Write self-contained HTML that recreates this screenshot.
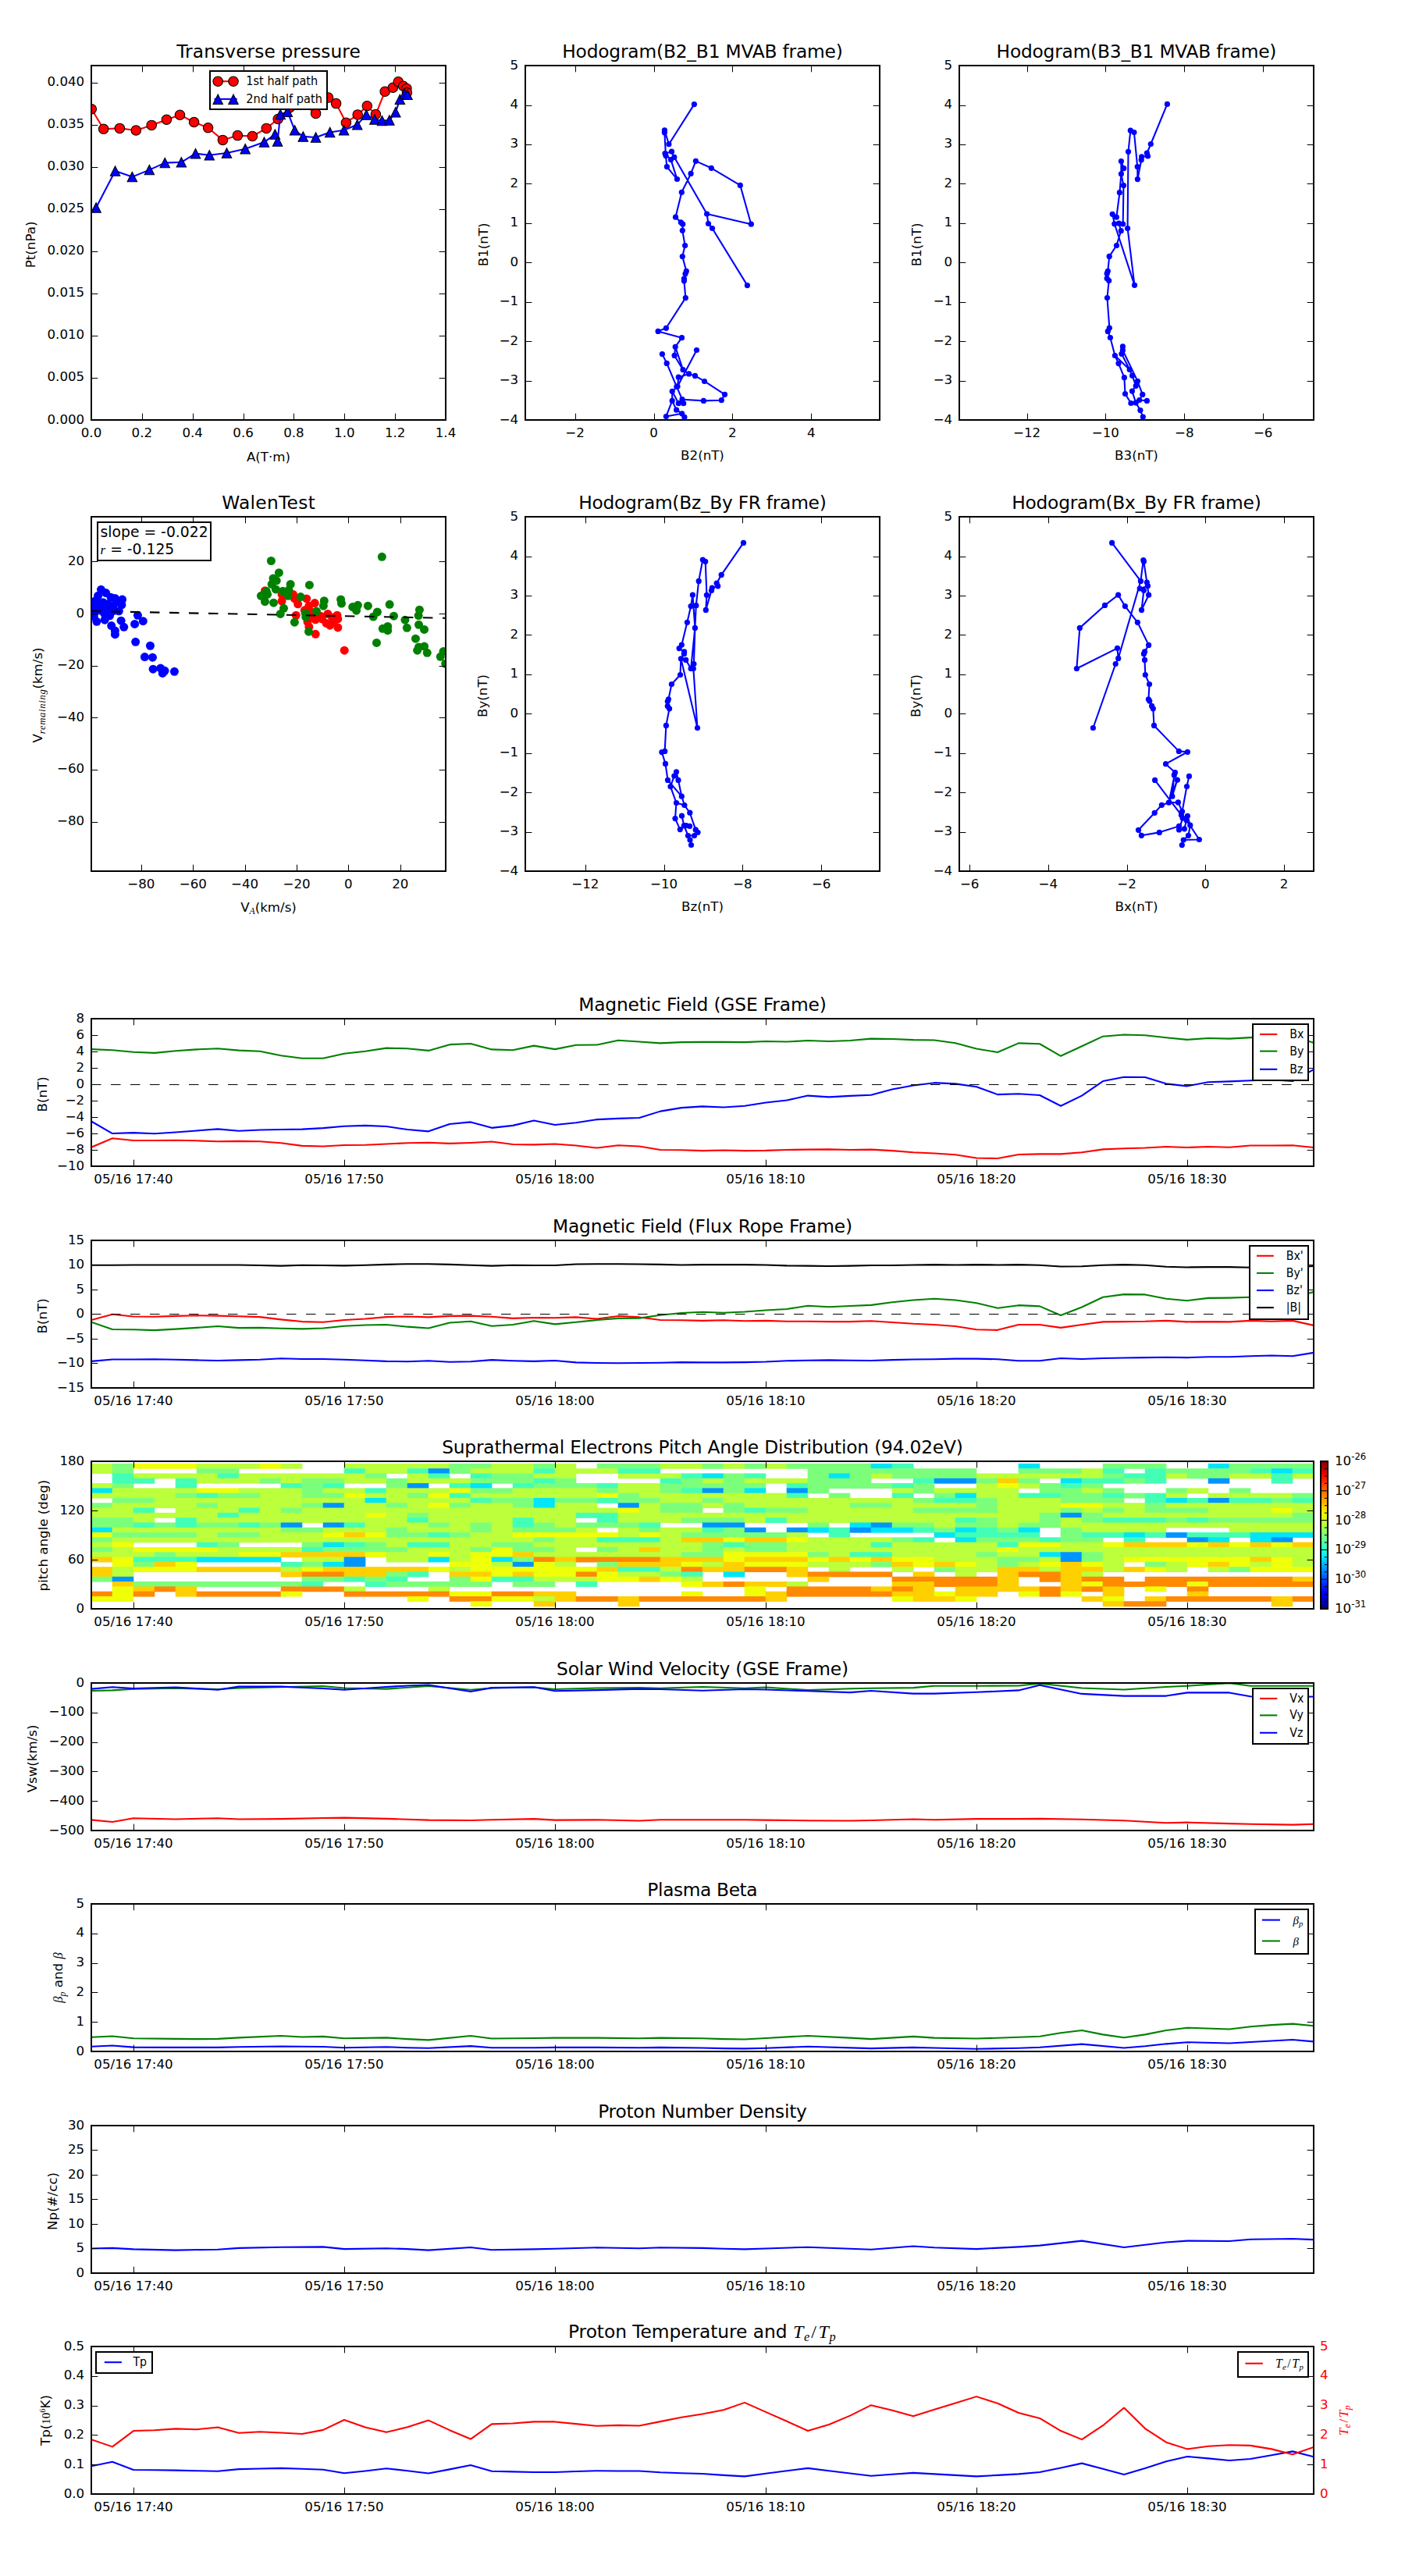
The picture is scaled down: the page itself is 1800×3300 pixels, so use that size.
<!DOCTYPE html><html><head><meta charset="utf-8"><title>Flux rope event summary</title><style>html,body{margin:0;padding:0;background:#fff}svg{display:block;font-family:'DejaVu Sans','Liberation Sans',sans-serif}</style></head><body><svg width="1800" height="3300" viewBox="0 0 1800 3300"><clipPath id="c1"><rect x="117" y="84" width="454" height="454"/></clipPath><g clip-path="url(#c1)"><polyline points="117.3,139.7 132.7,165.3 153.4,164.4 174.3,167 194.2,160.4 213.4,153.3 230.5,147.3 248.6,156.5 266.6,163.8 285.4,179.4 304.4,173.6 323.4,174.5 341.3,164.4 356.2,152.5 371,138 388,133 404.6,145.4 420.6,125.1 430.6,132.6 443.4,157.2 458.2,146.9 470.3,135.8 481.4,146.5 493.2,117.2 503.4,112.3 510.3,104.8 516.7,110.2 520.9,113.4 521.4,118.7" fill="none" stroke="#f00" stroke-width="2.08" stroke-linejoin="round"/><circle cx="117.3" cy="139.7" r="6.25" fill="#f00" stroke="#000" stroke-width="1.04"/><circle cx="132.7" cy="165.3" r="6.25" fill="#f00" stroke="#000" stroke-width="1.04"/><circle cx="153.4" cy="164.4" r="6.25" fill="#f00" stroke="#000" stroke-width="1.04"/><circle cx="174.3" cy="167" r="6.25" fill="#f00" stroke="#000" stroke-width="1.04"/><circle cx="194.2" cy="160.4" r="6.25" fill="#f00" stroke="#000" stroke-width="1.04"/><circle cx="213.4" cy="153.3" r="6.25" fill="#f00" stroke="#000" stroke-width="1.04"/><circle cx="230.5" cy="147.3" r="6.25" fill="#f00" stroke="#000" stroke-width="1.04"/><circle cx="248.6" cy="156.5" r="6.25" fill="#f00" stroke="#000" stroke-width="1.04"/><circle cx="266.6" cy="163.8" r="6.25" fill="#f00" stroke="#000" stroke-width="1.04"/><circle cx="285.4" cy="179.4" r="6.25" fill="#f00" stroke="#000" stroke-width="1.04"/><circle cx="304.4" cy="173.6" r="6.25" fill="#f00" stroke="#000" stroke-width="1.04"/><circle cx="323.4" cy="174.5" r="6.25" fill="#f00" stroke="#000" stroke-width="1.04"/><circle cx="341.3" cy="164.4" r="6.25" fill="#f00" stroke="#000" stroke-width="1.04"/><circle cx="356.2" cy="152.5" r="6.25" fill="#f00" stroke="#000" stroke-width="1.04"/><circle cx="371" cy="138" r="6.25" fill="#f00" stroke="#000" stroke-width="1.04"/><circle cx="388" cy="133" r="6.25" fill="#f00" stroke="#000" stroke-width="1.04"/><circle cx="404.6" cy="145.4" r="6.25" fill="#f00" stroke="#000" stroke-width="1.04"/><circle cx="420.6" cy="125.1" r="6.25" fill="#f00" stroke="#000" stroke-width="1.04"/><circle cx="430.6" cy="132.6" r="6.25" fill="#f00" stroke="#000" stroke-width="1.04"/><circle cx="443.4" cy="157.2" r="6.25" fill="#f00" stroke="#000" stroke-width="1.04"/><circle cx="458.2" cy="146.9" r="6.25" fill="#f00" stroke="#000" stroke-width="1.04"/><circle cx="470.3" cy="135.8" r="6.25" fill="#f00" stroke="#000" stroke-width="1.04"/><circle cx="481.4" cy="146.5" r="6.25" fill="#f00" stroke="#000" stroke-width="1.04"/><circle cx="493.2" cy="117.2" r="6.25" fill="#f00" stroke="#000" stroke-width="1.04"/><circle cx="503.4" cy="112.3" r="6.25" fill="#f00" stroke="#000" stroke-width="1.04"/><circle cx="510.3" cy="104.8" r="6.25" fill="#f00" stroke="#000" stroke-width="1.04"/><circle cx="516.7" cy="110.2" r="6.25" fill="#f00" stroke="#000" stroke-width="1.04"/><circle cx="520.9" cy="113.4" r="6.25" fill="#f00" stroke="#000" stroke-width="1.04"/><circle cx="521.4" cy="118.7" r="6.25" fill="#f00" stroke="#000" stroke-width="1.04"/><polyline points="123.1,266 147.6,219.1 169.4,226.6 191.4,217.6 211.3,208.6 232.4,207.8 250.5,196.7 268.3,198.8 290.5,196 314.2,190.7 338.5,182.1 352.4,172.1 355.6,180.9 359.2,146.5 368.4,143.3 377.6,166.8 388.3,174.9 404.6,176 422.7,169.5 440.6,166.8 457.7,159.7 469.3,146.9 479.9,152.9 489.5,154.6 498.9,154 506.8,143.7 512.4,127.3 518.4,120.4 522,121.3" fill="none" stroke="#00f" stroke-width="2.08" stroke-linejoin="round"/><path d="M123.1 259.75L116.85 272.25L129.35 272.25Z" fill="#00f" stroke="#000" stroke-width="1.04" stroke-linejoin="miter"/><path d="M147.6 212.85L141.35 225.35L153.85 225.35Z" fill="#00f" stroke="#000" stroke-width="1.04" stroke-linejoin="miter"/><path d="M169.4 220.35L163.15 232.85L175.65 232.85Z" fill="#00f" stroke="#000" stroke-width="1.04" stroke-linejoin="miter"/><path d="M191.4 211.35L185.15 223.85L197.65 223.85Z" fill="#00f" stroke="#000" stroke-width="1.04" stroke-linejoin="miter"/><path d="M211.3 202.35L205.05 214.85L217.55 214.85Z" fill="#00f" stroke="#000" stroke-width="1.04" stroke-linejoin="miter"/><path d="M232.4 201.55L226.15 214.05L238.65 214.05Z" fill="#00f" stroke="#000" stroke-width="1.04" stroke-linejoin="miter"/><path d="M250.5 190.45L244.25 202.95L256.75 202.95Z" fill="#00f" stroke="#000" stroke-width="1.04" stroke-linejoin="miter"/><path d="M268.3 192.55L262.05 205.05L274.55 205.05Z" fill="#00f" stroke="#000" stroke-width="1.04" stroke-linejoin="miter"/><path d="M290.5 189.75L284.25 202.25L296.75 202.25Z" fill="#00f" stroke="#000" stroke-width="1.04" stroke-linejoin="miter"/><path d="M314.2 184.45L307.95 196.95L320.45 196.95Z" fill="#00f" stroke="#000" stroke-width="1.04" stroke-linejoin="miter"/><path d="M338.5 175.85L332.25 188.35L344.75 188.35Z" fill="#00f" stroke="#000" stroke-width="1.04" stroke-linejoin="miter"/><path d="M352.4 165.85L346.15 178.35L358.65 178.35Z" fill="#00f" stroke="#000" stroke-width="1.04" stroke-linejoin="miter"/><path d="M355.6 174.65L349.35 187.15L361.85 187.15Z" fill="#00f" stroke="#000" stroke-width="1.04" stroke-linejoin="miter"/><path d="M359.2 140.25L352.95 152.75L365.45 152.75Z" fill="#00f" stroke="#000" stroke-width="1.04" stroke-linejoin="miter"/><path d="M368.4 137.05L362.15 149.55L374.65 149.55Z" fill="#00f" stroke="#000" stroke-width="1.04" stroke-linejoin="miter"/><path d="M377.6 160.55L371.35 173.05L383.85 173.05Z" fill="#00f" stroke="#000" stroke-width="1.04" stroke-linejoin="miter"/><path d="M388.3 168.65L382.05 181.15L394.55 181.15Z" fill="#00f" stroke="#000" stroke-width="1.04" stroke-linejoin="miter"/><path d="M404.6 169.75L398.35 182.25L410.85 182.25Z" fill="#00f" stroke="#000" stroke-width="1.04" stroke-linejoin="miter"/><path d="M422.7 163.25L416.45 175.75L428.95 175.75Z" fill="#00f" stroke="#000" stroke-width="1.04" stroke-linejoin="miter"/><path d="M440.6 160.55L434.35 173.05L446.85 173.05Z" fill="#00f" stroke="#000" stroke-width="1.04" stroke-linejoin="miter"/><path d="M457.7 153.45L451.45 165.95L463.95 165.95Z" fill="#00f" stroke="#000" stroke-width="1.04" stroke-linejoin="miter"/><path d="M469.3 140.65L463.05 153.15L475.55 153.15Z" fill="#00f" stroke="#000" stroke-width="1.04" stroke-linejoin="miter"/><path d="M479.9 146.65L473.65 159.15L486.15 159.15Z" fill="#00f" stroke="#000" stroke-width="1.04" stroke-linejoin="miter"/><path d="M489.5 148.35L483.25 160.85L495.75 160.85Z" fill="#00f" stroke="#000" stroke-width="1.04" stroke-linejoin="miter"/><path d="M498.9 147.75L492.65 160.25L505.15 160.25Z" fill="#00f" stroke="#000" stroke-width="1.04" stroke-linejoin="miter"/><path d="M506.8 137.45L500.55 149.95L513.05 149.95Z" fill="#00f" stroke="#000" stroke-width="1.04" stroke-linejoin="miter"/><path d="M512.4 121.05L506.15 133.55L518.65 133.55Z" fill="#00f" stroke="#000" stroke-width="1.04" stroke-linejoin="miter"/><path d="M518.4 114.15L512.15 126.65L524.65 126.65Z" fill="#00f" stroke="#000" stroke-width="1.04" stroke-linejoin="miter"/><path d="M522 115.05L515.75 127.55L528.25 127.55Z" fill="#00f" stroke="#000" stroke-width="1.04" stroke-linejoin="miter"/></g><rect x="117" y="84" width="454" height="454" fill="none" stroke="#000" stroke-width="2"/><text x="117" y="560" font-size="16.67" text-anchor="middle">0.0</text><line x1="182.5" y1="538" x2="182.5" y2="529.67" stroke="#000" stroke-width="1"/><line x1="182.5" y1="84" x2="182.5" y2="92.33" stroke="#000" stroke-width="1"/><text x="181.86" y="560" font-size="16.67" text-anchor="middle">0.2</text><line x1="247.5" y1="538" x2="247.5" y2="529.67" stroke="#000" stroke-width="1"/><line x1="247.5" y1="84" x2="247.5" y2="92.33" stroke="#000" stroke-width="1"/><text x="246.71" y="560" font-size="16.67" text-anchor="middle">0.4</text><line x1="312.5" y1="538" x2="312.5" y2="529.67" stroke="#000" stroke-width="1"/><line x1="312.5" y1="84" x2="312.5" y2="92.33" stroke="#000" stroke-width="1"/><text x="311.57" y="560" font-size="16.67" text-anchor="middle">0.6</text><line x1="376.5" y1="538" x2="376.5" y2="529.67" stroke="#000" stroke-width="1"/><line x1="376.5" y1="84" x2="376.5" y2="92.33" stroke="#000" stroke-width="1"/><text x="376.43" y="560" font-size="16.67" text-anchor="middle">0.8</text><line x1="441.5" y1="538" x2="441.5" y2="529.67" stroke="#000" stroke-width="1"/><line x1="441.5" y1="84" x2="441.5" y2="92.33" stroke="#000" stroke-width="1"/><text x="441.29" y="560" font-size="16.67" text-anchor="middle">1.0</text><line x1="506.5" y1="538" x2="506.5" y2="529.67" stroke="#000" stroke-width="1"/><line x1="506.5" y1="84" x2="506.5" y2="92.33" stroke="#000" stroke-width="1"/><text x="506.14" y="560" font-size="16.67" text-anchor="middle">1.2</text><text x="571" y="560" font-size="16.67" text-anchor="middle">1.4</text><text x="108.2" y="542.5" font-size="16.67" text-anchor="end">0.000</text><line x1="117" y1="484.5" x2="125.33" y2="484.5" stroke="#000" stroke-width="1"/><line x1="571" y1="484.5" x2="562.67" y2="484.5" stroke="#000" stroke-width="1"/><text x="108.2" y="488.45" font-size="16.67" text-anchor="end">0.005</text><line x1="117" y1="430.5" x2="125.33" y2="430.5" stroke="#000" stroke-width="1"/><line x1="571" y1="430.5" x2="562.67" y2="430.5" stroke="#000" stroke-width="1"/><text x="108.2" y="434.4" font-size="16.67" text-anchor="end">0.010</text><line x1="117" y1="376.5" x2="125.33" y2="376.5" stroke="#000" stroke-width="1"/><line x1="571" y1="376.5" x2="562.67" y2="376.5" stroke="#000" stroke-width="1"/><text x="108.2" y="380.36" font-size="16.67" text-anchor="end">0.015</text><line x1="117" y1="322.5" x2="125.33" y2="322.5" stroke="#000" stroke-width="1"/><line x1="571" y1="322.5" x2="562.67" y2="322.5" stroke="#000" stroke-width="1"/><text x="108.2" y="326.31" font-size="16.67" text-anchor="end">0.020</text><line x1="117" y1="268.5" x2="125.33" y2="268.5" stroke="#000" stroke-width="1"/><line x1="571" y1="268.5" x2="562.67" y2="268.5" stroke="#000" stroke-width="1"/><text x="108.2" y="272.26" font-size="16.67" text-anchor="end">0.025</text><line x1="117" y1="214.5" x2="125.33" y2="214.5" stroke="#000" stroke-width="1"/><line x1="571" y1="214.5" x2="562.67" y2="214.5" stroke="#000" stroke-width="1"/><text x="108.2" y="218.21" font-size="16.67" text-anchor="end">0.030</text><line x1="117" y1="160.5" x2="125.33" y2="160.5" stroke="#000" stroke-width="1"/><line x1="571" y1="160.5" x2="562.67" y2="160.5" stroke="#000" stroke-width="1"/><text x="108.2" y="164.17" font-size="16.67" text-anchor="end">0.035</text><line x1="117" y1="106.5" x2="125.33" y2="106.5" stroke="#000" stroke-width="1"/><line x1="571" y1="106.5" x2="562.67" y2="106.5" stroke="#000" stroke-width="1"/><text x="108.2" y="110.12" font-size="16.67" text-anchor="end">0.040</text><rect x="269" y="91" width="150" height="49" fill="#fff" stroke="#000" stroke-width="2"/><line x1="274.5" y1="104.2" x2="303.7" y2="104.2" stroke="#f00" stroke-width="2.08"/><circle cx="279.2" cy="104.2" r="6.25" fill="#f00" stroke="#000" stroke-width="1.04"/><circle cx="299" cy="104.2" r="6.25" fill="#f00" stroke="#000" stroke-width="1.04"/><line x1="274.5" y1="126.9" x2="303.7" y2="126.9" stroke="#00f" stroke-width="2.08"/><path d="M279.2 120.95L272.95 133.45L285.45 133.45Z" fill="#00f" stroke="#000" stroke-width="1.04" stroke-linejoin="miter"/><path d="M299 120.95L292.75 133.45L305.25 133.45Z" fill="#00f" stroke="#000" stroke-width="1.04" stroke-linejoin="miter"/><text x="315.3" y="109" font-size="15.4" textLength="91.9" lengthAdjust="spacingAndGlyphs">1st half path</text><text x="315.3" y="131.6" font-size="15.4" textLength="97.6" lengthAdjust="spacingAndGlyphs">2nd half path</text><text x="344" y="74" font-size="23.3" text-anchor="middle" textLength="235.6" lengthAdjust="spacing">Transverse pressure</text><text x="344" y="591.2" font-size="16.67" text-anchor="middle">A(T·m)</text><text x="45.5" y="313.4" font-size="16.67" text-anchor="middle" transform="rotate(-90 45.5 313.4)">Pt(nPa)</text><clipPath id="c2"><rect x="673" y="84" width="454" height="454"/></clipPath><g clip-path="url(#c2)"><polyline points="889.4,133.59 856.94,184.7 851.39,166.9 851.39,169.75 852.95,199.64 854.38,213.59 867.47,229.54 859.5,204.63 851.96,196.51 860.5,194.23 863.77,201.35 905.62,273.95 907.47,286.48 912.46,292.46 957.44,365.62 912.46,292.46 907.47,286.48 905.62,273.95 962.28,287.19 948.33,237.37 911.32,215.3 891.39,206.33 885.12,222.42 873.31,246.33 865.48,278.22 872.31,284.77 874.73,287.19 874.31,295.3 877.58,314.52 874.31,328.61 879.29,347.4 878.01,350.82 876.44,357.08 876.44,359.79 878.29,381.57 853.38,420.28 843.13,424.41 873.45,432.67 865.2,444.34 875.02,473.67 864.06,455.44 865.2,444.34" fill="none" stroke="#00f" stroke-width="2.08" stroke-linejoin="round"/><polyline points="875.02,473.67 882.56,478.93 890.53,481.35 902.49,488.47 928.54,505.27 924.27,512.67 901.35,513.38 874.02,511.67 866.9,495.3 854.23,465.41 848.4,453.59" fill="none" stroke="#00f" stroke-width="2.08" stroke-linejoin="round"/><polyline points="892.53,448.47 868.04,495.02 869.32,483.2 882.56,478.93" fill="none" stroke="#00f" stroke-width="2.08" stroke-linejoin="round"/><polyline points="868.04,495.02 861.21,501.28 861.21,513.38 853.38,533.45 873.74,529.75 866.62,525.2 861.21,513.38" fill="none" stroke="#00f" stroke-width="2.08" stroke-linejoin="round"/><polyline points="861.21,501.28 869.32,516.65 875.73,516.65 874.02,511.67" fill="none" stroke="#00f" stroke-width="2.08" stroke-linejoin="round"/><polyline points="873.74,529.75 876.87,534.45" fill="none" stroke="#00f" stroke-width="2.08" stroke-linejoin="round"/><circle cx="843.1" cy="424.4" r="3.6" fill="#00f"/><circle cx="848.4" cy="453.6" r="3.6" fill="#00f"/><circle cx="851.4" cy="166.9" r="3.6" fill="#00f"/><circle cx="851.4" cy="169.8" r="3.6" fill="#00f"/><circle cx="852" cy="196.5" r="3.6" fill="#00f"/><circle cx="853" cy="199.6" r="3.6" fill="#00f"/><circle cx="853.4" cy="420.3" r="3.6" fill="#00f"/><circle cx="853.4" cy="533.5" r="3.6" fill="#00f"/><circle cx="854.2" cy="465.4" r="3.6" fill="#00f"/><circle cx="854.4" cy="213.6" r="3.6" fill="#00f"/><circle cx="856.9" cy="184.7" r="3.6" fill="#00f"/><circle cx="859.5" cy="204.6" r="3.6" fill="#00f"/><circle cx="860.5" cy="194.2" r="3.6" fill="#00f"/><circle cx="861.2" cy="501.3" r="3.6" fill="#00f"/><circle cx="861.2" cy="513.4" r="3.6" fill="#00f"/><circle cx="863.8" cy="201.4" r="3.6" fill="#00f"/><circle cx="864.1" cy="455.4" r="3.6" fill="#00f"/><circle cx="865.2" cy="444.3" r="3.6" fill="#00f"/><circle cx="865.5" cy="278.2" r="3.6" fill="#00f"/><circle cx="866.6" cy="525.2" r="3.6" fill="#00f"/><circle cx="866.9" cy="495.3" r="3.6" fill="#00f"/><circle cx="867.5" cy="229.5" r="3.6" fill="#00f"/><circle cx="868" cy="495" r="3.6" fill="#00f"/><circle cx="869.3" cy="483.2" r="3.6" fill="#00f"/><circle cx="869.3" cy="516.7" r="3.6" fill="#00f"/><circle cx="872.3" cy="284.8" r="3.6" fill="#00f"/><circle cx="873.3" cy="246.3" r="3.6" fill="#00f"/><circle cx="873.5" cy="432.7" r="3.6" fill="#00f"/><circle cx="873.7" cy="529.8" r="3.6" fill="#00f"/><circle cx="874" cy="511.7" r="3.6" fill="#00f"/><circle cx="874.3" cy="295.3" r="3.6" fill="#00f"/><circle cx="874.3" cy="328.6" r="3.6" fill="#00f"/><circle cx="874.7" cy="287.2" r="3.6" fill="#00f"/><circle cx="875" cy="473.7" r="3.6" fill="#00f"/><circle cx="875.7" cy="516.7" r="3.6" fill="#00f"/><circle cx="876.4" cy="357.1" r="3.6" fill="#00f"/><circle cx="876.4" cy="359.8" r="3.6" fill="#00f"/><circle cx="876.9" cy="534.4" r="3.6" fill="#00f"/><circle cx="877.6" cy="314.5" r="3.6" fill="#00f"/><circle cx="878" cy="350.8" r="3.6" fill="#00f"/><circle cx="878.3" cy="381.6" r="3.6" fill="#00f"/><circle cx="879.3" cy="347.4" r="3.6" fill="#00f"/><circle cx="882.6" cy="478.9" r="3.6" fill="#00f"/><circle cx="885.1" cy="222.4" r="3.6" fill="#00f"/><circle cx="889.4" cy="133.6" r="3.6" fill="#00f"/><circle cx="890.5" cy="481.4" r="3.6" fill="#00f"/><circle cx="891.4" cy="206.3" r="3.6" fill="#00f"/><circle cx="892.5" cy="448.5" r="3.6" fill="#00f"/><circle cx="901.4" cy="513.4" r="3.6" fill="#00f"/><circle cx="902.5" cy="488.5" r="3.6" fill="#00f"/><circle cx="905.6" cy="274" r="3.6" fill="#00f"/><circle cx="907.5" cy="286.5" r="3.6" fill="#00f"/><circle cx="911.3" cy="215.3" r="3.6" fill="#00f"/><circle cx="912.5" cy="292.5" r="3.6" fill="#00f"/><circle cx="924.3" cy="512.7" r="3.6" fill="#00f"/><circle cx="928.5" cy="505.3" r="3.6" fill="#00f"/><circle cx="948.3" cy="237.4" r="3.6" fill="#00f"/><circle cx="957.4" cy="365.6" r="3.6" fill="#00f"/><circle cx="962.3" cy="287.2" r="3.6" fill="#00f"/></g><rect x="673" y="84" width="454" height="454" fill="none" stroke="#000" stroke-width="2"/><line x1="737.5" y1="538" x2="737.5" y2="529.67" stroke="#000" stroke-width="1"/><line x1="737.5" y1="84" x2="737.5" y2="92.33" stroke="#000" stroke-width="1"/><text x="736.62" y="560" font-size="16.67" text-anchor="middle">−2</text><line x1="838.5" y1="538" x2="838.5" y2="529.67" stroke="#000" stroke-width="1"/><line x1="838.5" y1="84" x2="838.5" y2="92.33" stroke="#000" stroke-width="1"/><text x="837.5" y="560" font-size="16.67" text-anchor="middle">0</text><line x1="938.5" y1="538" x2="938.5" y2="529.67" stroke="#000" stroke-width="1"/><line x1="938.5" y1="84" x2="938.5" y2="92.33" stroke="#000" stroke-width="1"/><text x="938.38" y="560" font-size="16.67" text-anchor="middle">2</text><line x1="1039.5" y1="538" x2="1039.5" y2="529.67" stroke="#000" stroke-width="1"/><line x1="1039.5" y1="84" x2="1039.5" y2="92.33" stroke="#000" stroke-width="1"/><text x="1039.26" y="560" font-size="16.67" text-anchor="middle">4</text><text x="664.2" y="542.5" font-size="16.67" text-anchor="end">−4</text><line x1="673" y1="488.5" x2="681.33" y2="488.5" stroke="#000" stroke-width="1"/><line x1="1127" y1="488.5" x2="1118.67" y2="488.5" stroke="#000" stroke-width="1"/><text x="664.2" y="492.06" font-size="16.67" text-anchor="end">−3</text><line x1="673" y1="437.5" x2="681.33" y2="437.5" stroke="#000" stroke-width="1"/><line x1="1127" y1="437.5" x2="1118.67" y2="437.5" stroke="#000" stroke-width="1"/><text x="664.2" y="441.61" font-size="16.67" text-anchor="end">−2</text><line x1="673" y1="387.5" x2="681.33" y2="387.5" stroke="#000" stroke-width="1"/><line x1="1127" y1="387.5" x2="1118.67" y2="387.5" stroke="#000" stroke-width="1"/><text x="664.2" y="391.17" font-size="16.67" text-anchor="end">−1</text><line x1="673" y1="336.5" x2="681.33" y2="336.5" stroke="#000" stroke-width="1"/><line x1="1127" y1="336.5" x2="1118.67" y2="336.5" stroke="#000" stroke-width="1"/><text x="664.2" y="340.72" font-size="16.67" text-anchor="end">0</text><line x1="673" y1="286.5" x2="681.33" y2="286.5" stroke="#000" stroke-width="1"/><line x1="1127" y1="286.5" x2="1118.67" y2="286.5" stroke="#000" stroke-width="1"/><text x="664.2" y="290.28" font-size="16.67" text-anchor="end">1</text><line x1="673" y1="235.5" x2="681.33" y2="235.5" stroke="#000" stroke-width="1"/><line x1="1127" y1="235.5" x2="1118.67" y2="235.5" stroke="#000" stroke-width="1"/><text x="664.2" y="239.83" font-size="16.67" text-anchor="end">2</text><line x1="673" y1="185.5" x2="681.33" y2="185.5" stroke="#000" stroke-width="1"/><line x1="1127" y1="185.5" x2="1118.67" y2="185.5" stroke="#000" stroke-width="1"/><text x="664.2" y="189.39" font-size="16.67" text-anchor="end">3</text><line x1="673" y1="135.5" x2="681.33" y2="135.5" stroke="#000" stroke-width="1"/><line x1="1127" y1="135.5" x2="1118.67" y2="135.5" stroke="#000" stroke-width="1"/><text x="664.2" y="138.94" font-size="16.67" text-anchor="end">4</text><text x="664.2" y="88.5" font-size="16.67" text-anchor="end">5</text><text x="900" y="74" font-size="23.3" text-anchor="middle" textLength="359.6" lengthAdjust="spacing">Hodogram(B2_B1 MVAB frame)</text><text x="900" y="588.7" font-size="16.67" text-anchor="middle">B2(nT)</text><text x="624.6" y="313.4" font-size="16.67" text-anchor="middle" transform="rotate(-90 624.6 313.4)">B1(nT)</text><clipPath id="c3"><rect x="1229" y="84" width="454" height="454"/></clipPath><g clip-path="url(#c3)"><polyline points="1495.38,133.37 1474.31,184.51 1469.41,196.24 1470.55,200 1462.57,200.8 1462.23,204.78 1457.45,229.61 1457.22,213.55 1452.89,169.48 1448.34,167.2 1445.49,194.31 1444.58,292.48 1453.46,365.33 1427.84,286.79 1425.22,274.26 1430.34,278.25 1434.44,246.7 1436.38,222.78 1436.38,206.49 1439.79,215.6 1436.38,222.78 1439.45,237.59 1438.66,287.02 1433.53,286.22 1436.15,295.67 1430.46,314.46 1421.23,328.36 1419.29,347.33 1418.15,350.41 1418.15,356.67 1420.66,359.52 1418.5,381.5 1421.34,420.23 1419.29,424.44 1422.37,432.53 1428.41,455.54 1447.2,473.53 1436.95,453.26 1438.43,448.7 1438.43,443.92 1438.43,448.7 1457.45,488.34 1463.71,505.42 1459.73,512.48 1469.41,513.39 1459.73,512.48 1448.91,516.47 1441.5,504.51 1440.36,483.67 1432.96,465.56 1428.41,455.54" fill="none" stroke="#00f" stroke-width="2.08" stroke-linejoin="round"/><polyline points="1447.2,473.53 1450.62,481.16 1455.17,494.26 1450.39,501.09 1455.17,515.9 1460.87,525.58 1464.28,534.12" fill="none" stroke="#00f" stroke-width="2.08" stroke-linejoin="round"/><circle cx="1418.2" cy="350.4" r="3.6" fill="#00f"/><circle cx="1418.2" cy="356.7" r="3.6" fill="#00f"/><circle cx="1418.5" cy="381.5" r="3.6" fill="#00f"/><circle cx="1419.3" cy="347.3" r="3.6" fill="#00f"/><circle cx="1419.3" cy="424.4" r="3.6" fill="#00f"/><circle cx="1420.7" cy="359.5" r="3.6" fill="#00f"/><circle cx="1421.2" cy="328.4" r="3.6" fill="#00f"/><circle cx="1421.3" cy="420.2" r="3.6" fill="#00f"/><circle cx="1422.4" cy="432.5" r="3.6" fill="#00f"/><circle cx="1425.2" cy="274.3" r="3.6" fill="#00f"/><circle cx="1427.8" cy="286.8" r="3.6" fill="#00f"/><circle cx="1428.4" cy="455.5" r="3.6" fill="#00f"/><circle cx="1430.3" cy="278.2" r="3.6" fill="#00f"/><circle cx="1430.5" cy="314.5" r="3.6" fill="#00f"/><circle cx="1433" cy="465.6" r="3.6" fill="#00f"/><circle cx="1433.5" cy="286.2" r="3.6" fill="#00f"/><circle cx="1434.4" cy="246.7" r="3.6" fill="#00f"/><circle cx="1436.2" cy="295.7" r="3.6" fill="#00f"/><circle cx="1436.4" cy="206.5" r="3.6" fill="#00f"/><circle cx="1436.4" cy="222.8" r="3.6" fill="#00f"/><circle cx="1436.9" cy="453.3" r="3.6" fill="#00f"/><circle cx="1438.4" cy="443.9" r="3.6" fill="#00f"/><circle cx="1438.4" cy="448.7" r="3.6" fill="#00f"/><circle cx="1438.7" cy="287" r="3.6" fill="#00f"/><circle cx="1439.5" cy="237.6" r="3.6" fill="#00f"/><circle cx="1439.8" cy="215.6" r="3.6" fill="#00f"/><circle cx="1440.4" cy="483.7" r="3.6" fill="#00f"/><circle cx="1441.5" cy="504.5" r="3.6" fill="#00f"/><circle cx="1444.6" cy="292.5" r="3.6" fill="#00f"/><circle cx="1445.5" cy="194.3" r="3.6" fill="#00f"/><circle cx="1447.2" cy="473.5" r="3.6" fill="#00f"/><circle cx="1448.3" cy="167.2" r="3.6" fill="#00f"/><circle cx="1448.9" cy="516.5" r="3.6" fill="#00f"/><circle cx="1450.4" cy="501.1" r="3.6" fill="#00f"/><circle cx="1450.6" cy="481.2" r="3.6" fill="#00f"/><circle cx="1452.9" cy="169.5" r="3.6" fill="#00f"/><circle cx="1453.5" cy="365.3" r="3.6" fill="#00f"/><circle cx="1455.2" cy="494.3" r="3.6" fill="#00f"/><circle cx="1455.2" cy="515.9" r="3.6" fill="#00f"/><circle cx="1457.2" cy="213.6" r="3.6" fill="#00f"/><circle cx="1457.4" cy="229.6" r="3.6" fill="#00f"/><circle cx="1457.4" cy="488.3" r="3.6" fill="#00f"/><circle cx="1459.7" cy="512.5" r="3.6" fill="#00f"/><circle cx="1460.9" cy="525.6" r="3.6" fill="#00f"/><circle cx="1462.2" cy="204.8" r="3.6" fill="#00f"/><circle cx="1462.6" cy="200.8" r="3.6" fill="#00f"/><circle cx="1463.7" cy="505.4" r="3.6" fill="#00f"/><circle cx="1464.3" cy="534.1" r="3.6" fill="#00f"/><circle cx="1469.4" cy="196.2" r="3.6" fill="#00f"/><circle cx="1469.4" cy="513.4" r="3.6" fill="#00f"/><circle cx="1470.5" cy="200" r="3.6" fill="#00f"/><circle cx="1474.3" cy="184.5" r="3.6" fill="#00f"/><circle cx="1495.4" cy="133.4" r="3.6" fill="#00f"/></g><rect x="1229" y="84" width="454" height="454" fill="none" stroke="#000" stroke-width="2"/><line x1="1316.5" y1="538" x2="1316.5" y2="529.67" stroke="#000" stroke-width="1"/><line x1="1316.5" y1="84" x2="1316.5" y2="92.33" stroke="#000" stroke-width="1"/><text x="1315.52" y="560" font-size="16.67" text-anchor="middle">−12</text><line x1="1416.5" y1="538" x2="1416.5" y2="529.67" stroke="#000" stroke-width="1"/><line x1="1416.5" y1="84" x2="1416.5" y2="92.33" stroke="#000" stroke-width="1"/><text x="1416.4" y="560" font-size="16.67" text-anchor="middle">−10</text><line x1="1517.5" y1="538" x2="1517.5" y2="529.67" stroke="#000" stroke-width="1"/><line x1="1517.5" y1="84" x2="1517.5" y2="92.33" stroke="#000" stroke-width="1"/><text x="1517.28" y="560" font-size="16.67" text-anchor="middle">−8</text><line x1="1618.5" y1="538" x2="1618.5" y2="529.67" stroke="#000" stroke-width="1"/><line x1="1618.5" y1="84" x2="1618.5" y2="92.33" stroke="#000" stroke-width="1"/><text x="1618.16" y="560" font-size="16.67" text-anchor="middle">−6</text><text x="1220.2" y="542.5" font-size="16.67" text-anchor="end">−4</text><line x1="1229" y1="488.5" x2="1237.33" y2="488.5" stroke="#000" stroke-width="1"/><line x1="1683" y1="488.5" x2="1674.67" y2="488.5" stroke="#000" stroke-width="1"/><text x="1220.2" y="492.06" font-size="16.67" text-anchor="end">−3</text><line x1="1229" y1="437.5" x2="1237.33" y2="437.5" stroke="#000" stroke-width="1"/><line x1="1683" y1="437.5" x2="1674.67" y2="437.5" stroke="#000" stroke-width="1"/><text x="1220.2" y="441.61" font-size="16.67" text-anchor="end">−2</text><line x1="1229" y1="387.5" x2="1237.33" y2="387.5" stroke="#000" stroke-width="1"/><line x1="1683" y1="387.5" x2="1674.67" y2="387.5" stroke="#000" stroke-width="1"/><text x="1220.2" y="391.17" font-size="16.67" text-anchor="end">−1</text><line x1="1229" y1="336.5" x2="1237.33" y2="336.5" stroke="#000" stroke-width="1"/><line x1="1683" y1="336.5" x2="1674.67" y2="336.5" stroke="#000" stroke-width="1"/><text x="1220.2" y="340.72" font-size="16.67" text-anchor="end">0</text><line x1="1229" y1="286.5" x2="1237.33" y2="286.5" stroke="#000" stroke-width="1"/><line x1="1683" y1="286.5" x2="1674.67" y2="286.5" stroke="#000" stroke-width="1"/><text x="1220.2" y="290.28" font-size="16.67" text-anchor="end">1</text><line x1="1229" y1="235.5" x2="1237.33" y2="235.5" stroke="#000" stroke-width="1"/><line x1="1683" y1="235.5" x2="1674.67" y2="235.5" stroke="#000" stroke-width="1"/><text x="1220.2" y="239.83" font-size="16.67" text-anchor="end">2</text><line x1="1229" y1="185.5" x2="1237.33" y2="185.5" stroke="#000" stroke-width="1"/><line x1="1683" y1="185.5" x2="1674.67" y2="185.5" stroke="#000" stroke-width="1"/><text x="1220.2" y="189.39" font-size="16.67" text-anchor="end">3</text><line x1="1229" y1="135.5" x2="1237.33" y2="135.5" stroke="#000" stroke-width="1"/><line x1="1683" y1="135.5" x2="1674.67" y2="135.5" stroke="#000" stroke-width="1"/><text x="1220.2" y="138.94" font-size="16.67" text-anchor="end">4</text><text x="1220.2" y="88.5" font-size="16.67" text-anchor="end">5</text><text x="1456" y="74" font-size="23.3" text-anchor="middle" textLength="358.8" lengthAdjust="spacing">Hodogram(B3_B1 MVAB frame)</text><text x="1456" y="588.7" font-size="16.67" text-anchor="middle">B3(nT)</text><text x="1179.8" y="313.4" font-size="16.67" text-anchor="middle" transform="rotate(-90 1179.8 313.4)">B1(nT)</text><clipPath id="c4"><rect x="117" y="662" width="454" height="454"/></clipPath><g clip-path="url(#c4)"><circle cx="129.47" cy="755.27" r="5.5" fill="#00f"/><circle cx="135.66" cy="759.55" r="5.5" fill="#00f"/><circle cx="125.62" cy="763.18" r="5.5" fill="#00f"/><circle cx="142.07" cy="765.31" r="5.5" fill="#00f"/><circle cx="147.41" cy="766.38" r="5.5" fill="#00f"/><circle cx="156.59" cy="768.09" r="5.5" fill="#00f"/><circle cx="122.42" cy="769.58" r="5.5" fill="#00f"/><circle cx="132.03" cy="771.72" r="5.5" fill="#00f"/><circle cx="138.44" cy="773.85" r="5.5" fill="#00f"/><circle cx="155.95" cy="774.92" r="5.5" fill="#00f"/><circle cx="144.84" cy="775.99" r="5.5" fill="#00f"/><circle cx="127.76" cy="778.12" r="5.5" fill="#00f"/><circle cx="152.32" cy="782.82" r="5.5" fill="#00f"/><circle cx="121.35" cy="784.53" r="5.5" fill="#00f"/><circle cx="134.17" cy="786.66" r="5.5" fill="#00f"/><circle cx="140.57" cy="788.8" r="5.5" fill="#00f"/><circle cx="176.45" cy="788.37" r="5.5" fill="#00f"/><circle cx="183.28" cy="795.63" r="5.5" fill="#00f"/><circle cx="123.92" cy="796.27" r="5.5" fill="#00f"/><circle cx="134.17" cy="794.14" r="5.5" fill="#00f"/><circle cx="155.09" cy="795.21" r="5.5" fill="#00f"/><circle cx="172.6" cy="799.48" r="5.5" fill="#00f"/><circle cx="142.71" cy="801.61" r="5.5" fill="#00f"/><circle cx="158.72" cy="803.32" r="5.5" fill="#00f"/><circle cx="147.41" cy="808.02" r="5.5" fill="#00f"/><circle cx="147.41" cy="812.72" r="5.5" fill="#00f"/><circle cx="173.67" cy="822.33" r="5.5" fill="#00f"/><circle cx="192.46" cy="827.24" r="5.5" fill="#00f"/><circle cx="185.42" cy="841.54" r="5.5" fill="#00f"/><circle cx="195.45" cy="842.18" r="5.5" fill="#00f"/><circle cx="196.09" cy="857.13" r="5.5" fill="#00f"/><circle cx="205.7" cy="856.06" r="5.5" fill="#00f"/><circle cx="211.04" cy="859.27" r="5.5" fill="#00f"/><circle cx="208.26" cy="862.47" r="5.5" fill="#00f"/><circle cx="223.43" cy="860.34" r="5.5" fill="#00f"/><circle cx="119.65" cy="778.12" r="5.5" fill="#00f"/><circle cx="120.29" cy="789.87" r="5.5" fill="#00f"/><circle cx="126.69" cy="771.72" r="5.5" fill="#00f"/><circle cx="129.9" cy="782.39" r="5.5" fill="#00f"/><circle cx="137.37" cy="780.26" r="5.5" fill="#00f"/><circle cx="145.91" cy="782.39" r="5.5" fill="#00f"/><circle cx="149.11" cy="771.72" r="5.5" fill="#00f"/><circle cx="339.43" cy="756.79" r="5.5" fill="#f00"/><circle cx="375.51" cy="761.42" r="5.5" fill="#f00"/><circle cx="361.08" cy="761.42" r="5.5" fill="#f00"/><circle cx="361.08" cy="770.12" r="5.5" fill="#f00"/><circle cx="377.36" cy="766.97" r="5.5" fill="#f00"/><circle cx="392.72" cy="766.97" r="5.5" fill="#f00"/><circle cx="381.62" cy="773.82" r="5.5" fill="#f00"/><circle cx="403.27" cy="772.52" r="5.5" fill="#f00"/><circle cx="395.87" cy="776.23" r="5.5" fill="#f00"/><circle cx="379.22" cy="788.25" r="5.5" fill="#f00"/><circle cx="390.32" cy="781.78" r="5.5" fill="#f00"/><circle cx="398.65" cy="783.63" r="5.5" fill="#f00"/><circle cx="419.93" cy="786.4" r="5.5" fill="#f00"/><circle cx="431.95" cy="788.25" r="5.5" fill="#f00"/><circle cx="410.67" cy="789.18" r="5.5" fill="#f00"/><circle cx="425.48" cy="791.03" r="5.5" fill="#f00"/><circle cx="432.88" cy="792.88" r="5.5" fill="#f00"/><circle cx="404.2" cy="793.8" r="5.5" fill="#f00"/><circle cx="394.02" cy="796.58" r="5.5" fill="#f00"/><circle cx="418.08" cy="798.43" r="5.5" fill="#f00"/><circle cx="422.7" cy="801.21" r="5.5" fill="#f00"/><circle cx="432.88" cy="803.98" r="5.5" fill="#f00"/><circle cx="395.87" cy="803.06" r="5.5" fill="#f00"/><circle cx="404.2" cy="812.31" r="5.5" fill="#f00"/><circle cx="441.21" cy="833.22" r="5.5" fill="#f00"/><circle cx="427.33" cy="796.58" r="5.5" fill="#f00"/><circle cx="412.52" cy="792.88" r="5.5" fill="#f00"/><circle cx="401.42" cy="789.18" r="5.5" fill="#f00"/><circle cx="397.72" cy="791.03" r="5.5" fill="#f00"/><circle cx="347.39" cy="718.49" r="5.5" fill="#008000"/><circle cx="357.38" cy="733.66" r="5.5" fill="#008000"/><circle cx="349.98" cy="741.07" r="5.5" fill="#008000"/><circle cx="354.23" cy="743.84" r="5.5" fill="#008000"/><circle cx="348.13" cy="748.47" r="5.5" fill="#008000"/><circle cx="372.18" cy="748.47" r="5.5" fill="#008000"/><circle cx="396.42" cy="749.39" r="5.5" fill="#008000"/><circle cx="353.31" cy="754.94" r="5.5" fill="#008000"/><circle cx="341.28" cy="757.35" r="5.5" fill="#008000"/><circle cx="362.19" cy="757.35" r="5.5" fill="#008000"/><circle cx="369.96" cy="755.87" r="5.5" fill="#008000"/><circle cx="334.43" cy="763.27" r="5.5" fill="#008000"/><circle cx="342.58" cy="761.42" r="5.5" fill="#008000"/><circle cx="369.04" cy="763.27" r="5.5" fill="#008000"/><circle cx="385.14" cy="764.57" r="5.5" fill="#008000"/><circle cx="339.43" cy="770.67" r="5.5" fill="#008000"/><circle cx="350.53" cy="772.15" r="5.5" fill="#008000"/><circle cx="415.3" cy="769.75" r="5.5" fill="#008000"/><circle cx="436.58" cy="767.9" r="5.5" fill="#008000"/><circle cx="437.51" cy="773.08" r="5.5" fill="#008000"/><circle cx="414.37" cy="776.23" r="5.5" fill="#008000"/><circle cx="363.49" cy="779.37" r="5.5" fill="#008000"/><circle cx="451.75" cy="777.52" r="5.5" fill="#008000"/><circle cx="458.42" cy="775.3" r="5.5" fill="#008000"/><circle cx="471.37" cy="776.23" r="5.5" fill="#008000"/><circle cx="499.13" cy="774.37" r="5.5" fill="#008000"/><circle cx="456.57" cy="782.15" r="5.5" fill="#008000"/><circle cx="405.49" cy="783.07" r="5.5" fill="#008000"/><circle cx="359.23" cy="786.4" r="5.5" fill="#008000"/><circle cx="391.24" cy="785.48" r="5.5" fill="#008000"/><circle cx="483.4" cy="784" r="5.5" fill="#008000"/><circle cx="537.43" cy="781.22" r="5.5" fill="#008000"/><circle cx="391.8" cy="790.47" r="5.5" fill="#008000"/><circle cx="478.22" cy="790.1" r="5.5" fill="#008000"/><circle cx="504.49" cy="789.18" r="5.5" fill="#008000"/><circle cx="536.14" cy="788.62" r="5.5" fill="#008000"/><circle cx="377.36" cy="797.14" r="5.5" fill="#008000"/><circle cx="518.93" cy="794.17" r="5.5" fill="#008000"/><circle cx="536.51" cy="800.28" r="5.5" fill="#008000"/><circle cx="521.33" cy="804.35" r="5.5" fill="#008000"/><circle cx="543.54" cy="806.39" r="5.5" fill="#008000"/><circle cx="490.24" cy="805.28" r="5.5" fill="#008000"/><circle cx="496.72" cy="802.5" r="5.5" fill="#008000"/><circle cx="496.72" cy="807.68" r="5.5" fill="#008000"/><circle cx="395.5" cy="809.16" r="5.5" fill="#008000"/><circle cx="532.44" cy="818.23" r="5.5" fill="#008000"/><circle cx="482.47" cy="823.41" r="5.5" fill="#008000"/><circle cx="536.51" cy="828.96" r="5.5" fill="#008000"/><circle cx="543.54" cy="828.04" r="5.5" fill="#008000"/><circle cx="534.66" cy="833.22" r="5.5" fill="#008000"/><circle cx="547.24" cy="836.37" r="5.5" fill="#008000"/><circle cx="567.96" cy="834.52" r="5.5" fill="#008000"/><circle cx="564.26" cy="841.36" r="5.5" fill="#008000"/><circle cx="570.74" cy="850.24" r="5.5" fill="#008000"/><circle cx="489.32" cy="713.31" r="5.5" fill="#008000"/><line x1="117" y1="782.9" x2="571.5" y2="791.8" stroke="#000" stroke-width="2.08" stroke-dasharray="12.5 12.5"/></g><rect x="117" y="662" width="454" height="454" fill="none" stroke="#000" stroke-width="2"/><line x1="181.5" y1="1116" x2="181.5" y2="1107.67" stroke="#000" stroke-width="1"/><line x1="181.5" y1="662" x2="181.5" y2="670.33" stroke="#000" stroke-width="1"/><text x="180.88" y="1138" font-size="16.67" text-anchor="middle">−80</text><line x1="247.5" y1="1116" x2="247.5" y2="1107.67" stroke="#000" stroke-width="1"/><line x1="247.5" y1="662" x2="247.5" y2="670.33" stroke="#000" stroke-width="1"/><text x="247.26" y="1138" font-size="16.67" text-anchor="middle">−60</text><line x1="314.5" y1="1116" x2="314.5" y2="1107.67" stroke="#000" stroke-width="1"/><line x1="314.5" y1="662" x2="314.5" y2="670.33" stroke="#000" stroke-width="1"/><text x="313.64" y="1138" font-size="16.67" text-anchor="middle">−40</text><line x1="380.5" y1="1116" x2="380.5" y2="1107.67" stroke="#000" stroke-width="1"/><line x1="380.5" y1="662" x2="380.5" y2="670.33" stroke="#000" stroke-width="1"/><text x="380.02" y="1138" font-size="16.67" text-anchor="middle">−20</text><line x1="446.5" y1="1116" x2="446.5" y2="1107.67" stroke="#000" stroke-width="1"/><line x1="446.5" y1="662" x2="446.5" y2="670.33" stroke="#000" stroke-width="1"/><text x="446.4" y="1138" font-size="16.67" text-anchor="middle">0</text><line x1="513.5" y1="1116" x2="513.5" y2="1107.67" stroke="#000" stroke-width="1"/><line x1="513.5" y1="662" x2="513.5" y2="670.33" stroke="#000" stroke-width="1"/><text x="512.78" y="1138" font-size="16.67" text-anchor="middle">20</text><line x1="117" y1="719.5" x2="125.33" y2="719.5" stroke="#000" stroke-width="1"/><line x1="571" y1="719.5" x2="562.67" y2="719.5" stroke="#000" stroke-width="1"/><text x="108.2" y="723.86" font-size="16.67" text-anchor="end">20</text><line x1="117" y1="786.5" x2="125.33" y2="786.5" stroke="#000" stroke-width="1"/><line x1="571" y1="786.5" x2="562.67" y2="786.5" stroke="#000" stroke-width="1"/><text x="108.2" y="790.5" font-size="16.67" text-anchor="end">0</text><line x1="117" y1="853.5" x2="125.33" y2="853.5" stroke="#000" stroke-width="1"/><line x1="571" y1="853.5" x2="562.67" y2="853.5" stroke="#000" stroke-width="1"/><text x="108.2" y="857.14" font-size="16.67" text-anchor="end">−20</text><line x1="117" y1="919.5" x2="125.33" y2="919.5" stroke="#000" stroke-width="1"/><line x1="571" y1="919.5" x2="562.67" y2="919.5" stroke="#000" stroke-width="1"/><text x="108.2" y="923.78" font-size="16.67" text-anchor="end">−40</text><line x1="117" y1="986.5" x2="125.33" y2="986.5" stroke="#000" stroke-width="1"/><line x1="571" y1="986.5" x2="562.67" y2="986.5" stroke="#000" stroke-width="1"/><text x="108.2" y="990.42" font-size="16.67" text-anchor="end">−60</text><line x1="117" y1="1053.5" x2="125.33" y2="1053.5" stroke="#000" stroke-width="1"/><line x1="571" y1="1053.5" x2="562.67" y2="1053.5" stroke="#000" stroke-width="1"/><text x="108.2" y="1057.06" font-size="16.67" text-anchor="end">−80</text><rect x="125" y="669" width="145" height="49" fill="#fff" stroke="#000" stroke-width="2"/><text x="128.6" y="688.2" font-size="18.75" text-anchor="start">slope = -0.022</text><text x="128.6" y="710" font-size="18.75" text-anchor="start"><tspan font-family="'Liberation Serif','DejaVu Serif',serif" font-style="italic" font-size="17">r</tspan> = -0.125</text><text x="344" y="652" font-size="23.3" text-anchor="middle" textLength="119.6" lengthAdjust="spacing">WalenTest</text><text x="344" y="1167.5" font-size="16.67" text-anchor="middle">V<tspan font-family="'Liberation Serif','DejaVu Serif',serif" font-style="italic" font-size="11.7" dy="3.5">A</tspan><tspan dy="-3.5">(km/s)</tspan></text><text x="54.3" y="890.5" font-size="16.67" text-anchor="middle" transform="rotate(-90 54.3 890.5)">V<tspan font-family="'Liberation Serif','DejaVu Serif',serif" font-style="italic" font-size="12.6" letter-spacing="0.7" dy="3.5">remaining</tspan><tspan dy="-3.5">(km/s)</tspan></text><clipPath id="c5"><rect x="673" y="662" width="454" height="454"/></clipPath><g clip-path="url(#c5)"><polyline points="952.46,695.38 924.21,736.38 918.18,747.2 919.66,750.84 912.26,753.12 911.46,756.54 904.28,781.37 905.42,762.35 903.71,719.29 900.3,717.02 895.17,744.35 891.75,775.67 890.39,804.37 885.15,856.54 888.91,850.5 890.39,804.37 887.43,762.23 885.15,776.58 880.36,797.31 873.3,826.13 870.11,830.57 876.61,834.9 876.38,837.74 872.39,843.78 878.66,845.38 885.15,856.54" fill="none" stroke="#00f" stroke-width="2.08" stroke-linejoin="round"/><polyline points="888.34,856.54 893.46,932.46 872.39,843.78 871.48,864.51 860.43,876.47 856.45,895.83 855.31,898.45 855.31,904.6 857.59,907.79 853.37,929.38 851.66,962.41 847.9,963.55 852.46,978.36 855.54,999.43 873.3,1020.16 868.97,999.43 866.47,988.84 863.85,993.96 858.95,1007.63 866.47,1028.47 876.95,1031.55 883.78,1041.23 891.18,1062.87 894.03,1066.29 889.48,1070.5 881.5,1070.5 884.01,1075.97 885.49,1082.46" fill="none" stroke="#00f" stroke-width="2.08" stroke-linejoin="round"/><polyline points="866.47,1028.47 864.99,1048.63 871.25,1062.64 879.23,1057.74 883.55,1058.31" fill="none" stroke="#00f" stroke-width="2.08" stroke-linejoin="round"/><polyline points="873.53,1045.22 876.38,1057.74 881.5,1070.5" fill="none" stroke="#00f" stroke-width="2.08" stroke-linejoin="round"/><polyline points="873.3,1020.16 876.95,1031.55" fill="none" stroke="#00f" stroke-width="2.08" stroke-linejoin="round"/><circle cx="847.9" cy="963.6" r="3.6" fill="#00f"/><circle cx="851.7" cy="962.4" r="3.6" fill="#00f"/><circle cx="852.5" cy="978.4" r="3.6" fill="#00f"/><circle cx="853.4" cy="929.4" r="3.6" fill="#00f"/><circle cx="855.3" cy="898.5" r="3.6" fill="#00f"/><circle cx="855.3" cy="904.6" r="3.6" fill="#00f"/><circle cx="855.5" cy="999.4" r="3.6" fill="#00f"/><circle cx="856.4" cy="895.8" r="3.6" fill="#00f"/><circle cx="857.6" cy="907.8" r="3.6" fill="#00f"/><circle cx="859" cy="1007.6" r="3.6" fill="#00f"/><circle cx="860.4" cy="876.5" r="3.6" fill="#00f"/><circle cx="863.8" cy="994" r="3.6" fill="#00f"/><circle cx="865" cy="1048.6" r="3.6" fill="#00f"/><circle cx="866.5" cy="988.8" r="3.6" fill="#00f"/><circle cx="866.5" cy="1028.5" r="3.6" fill="#00f"/><circle cx="869" cy="999.4" r="3.6" fill="#00f"/><circle cx="870.1" cy="830.6" r="3.6" fill="#00f"/><circle cx="871.3" cy="1062.6" r="3.6" fill="#00f"/><circle cx="871.5" cy="864.5" r="3.6" fill="#00f"/><circle cx="872.4" cy="843.8" r="3.6" fill="#00f"/><circle cx="873.3" cy="826.1" r="3.6" fill="#00f"/><circle cx="873.3" cy="1020.2" r="3.6" fill="#00f"/><circle cx="873.5" cy="1045.2" r="3.6" fill="#00f"/><circle cx="876.4" cy="837.7" r="3.6" fill="#00f"/><circle cx="876.4" cy="1057.7" r="3.6" fill="#00f"/><circle cx="876.6" cy="834.9" r="3.6" fill="#00f"/><circle cx="876.9" cy="1031.5" r="3.6" fill="#00f"/><circle cx="878.7" cy="845.4" r="3.6" fill="#00f"/><circle cx="879.2" cy="1057.7" r="3.6" fill="#00f"/><circle cx="880.4" cy="797.3" r="3.6" fill="#00f"/><circle cx="881.5" cy="1070.5" r="3.6" fill="#00f"/><circle cx="883.6" cy="1058.3" r="3.6" fill="#00f"/><circle cx="883.8" cy="1041.2" r="3.6" fill="#00f"/><circle cx="884" cy="1076" r="3.6" fill="#00f"/><circle cx="885.1" cy="776.6" r="3.6" fill="#00f"/><circle cx="885.1" cy="856.5" r="3.6" fill="#00f"/><circle cx="885.5" cy="1082.5" r="3.6" fill="#00f"/><circle cx="887.4" cy="762.2" r="3.6" fill="#00f"/><circle cx="888.3" cy="856.5" r="3.6" fill="#00f"/><circle cx="888.9" cy="850.5" r="3.6" fill="#00f"/><circle cx="889.5" cy="1070.5" r="3.6" fill="#00f"/><circle cx="890.4" cy="804.4" r="3.6" fill="#00f"/><circle cx="891.2" cy="1062.9" r="3.6" fill="#00f"/><circle cx="891.8" cy="775.7" r="3.6" fill="#00f"/><circle cx="893.5" cy="932.5" r="3.6" fill="#00f"/><circle cx="894" cy="1066.3" r="3.6" fill="#00f"/><circle cx="895.2" cy="744.4" r="3.6" fill="#00f"/><circle cx="900.3" cy="717" r="3.6" fill="#00f"/><circle cx="903.7" cy="719.3" r="3.6" fill="#00f"/><circle cx="904.3" cy="781.4" r="3.6" fill="#00f"/><circle cx="905.4" cy="762.3" r="3.6" fill="#00f"/><circle cx="911.5" cy="756.5" r="3.6" fill="#00f"/><circle cx="912.3" cy="753.1" r="3.6" fill="#00f"/><circle cx="918.2" cy="747.2" r="3.6" fill="#00f"/><circle cx="919.7" cy="750.8" r="3.6" fill="#00f"/><circle cx="924.2" cy="736.4" r="3.6" fill="#00f"/><circle cx="952.5" cy="695.4" r="3.6" fill="#00f"/></g><rect x="673" y="662" width="454" height="454" fill="none" stroke="#000" stroke-width="2"/><line x1="750.5" y1="1116" x2="750.5" y2="1107.67" stroke="#000" stroke-width="1"/><line x1="750.5" y1="662" x2="750.5" y2="670.33" stroke="#000" stroke-width="1"/><text x="749.8" y="1138" font-size="16.67" text-anchor="middle">−12</text><line x1="851.5" y1="1116" x2="851.5" y2="1107.67" stroke="#000" stroke-width="1"/><line x1="851.5" y1="662" x2="851.5" y2="670.33" stroke="#000" stroke-width="1"/><text x="850.6" y="1138" font-size="16.67" text-anchor="middle">−10</text><line x1="951.5" y1="1116" x2="951.5" y2="1107.67" stroke="#000" stroke-width="1"/><line x1="951.5" y1="662" x2="951.5" y2="670.33" stroke="#000" stroke-width="1"/><text x="951.4" y="1138" font-size="16.67" text-anchor="middle">−8</text><line x1="1052.5" y1="1116" x2="1052.5" y2="1107.67" stroke="#000" stroke-width="1"/><line x1="1052.5" y1="662" x2="1052.5" y2="670.33" stroke="#000" stroke-width="1"/><text x="1052.2" y="1138" font-size="16.67" text-anchor="middle">−6</text><text x="664.2" y="1120.5" font-size="16.67" text-anchor="end">−4</text><line x1="673" y1="1066.5" x2="681.33" y2="1066.5" stroke="#000" stroke-width="1"/><line x1="1127" y1="1066.5" x2="1118.67" y2="1066.5" stroke="#000" stroke-width="1"/><text x="664.2" y="1070.06" font-size="16.67" text-anchor="end">−3</text><line x1="673" y1="1015.5" x2="681.33" y2="1015.5" stroke="#000" stroke-width="1"/><line x1="1127" y1="1015.5" x2="1118.67" y2="1015.5" stroke="#000" stroke-width="1"/><text x="664.2" y="1019.61" font-size="16.67" text-anchor="end">−2</text><line x1="673" y1="965.5" x2="681.33" y2="965.5" stroke="#000" stroke-width="1"/><line x1="1127" y1="965.5" x2="1118.67" y2="965.5" stroke="#000" stroke-width="1"/><text x="664.2" y="969.17" font-size="16.67" text-anchor="end">−1</text><line x1="673" y1="914.5" x2="681.33" y2="914.5" stroke="#000" stroke-width="1"/><line x1="1127" y1="914.5" x2="1118.67" y2="914.5" stroke="#000" stroke-width="1"/><text x="664.2" y="918.72" font-size="16.67" text-anchor="end">0</text><line x1="673" y1="864.5" x2="681.33" y2="864.5" stroke="#000" stroke-width="1"/><line x1="1127" y1="864.5" x2="1118.67" y2="864.5" stroke="#000" stroke-width="1"/><text x="664.2" y="868.28" font-size="16.67" text-anchor="end">1</text><line x1="673" y1="813.5" x2="681.33" y2="813.5" stroke="#000" stroke-width="1"/><line x1="1127" y1="813.5" x2="1118.67" y2="813.5" stroke="#000" stroke-width="1"/><text x="664.2" y="817.83" font-size="16.67" text-anchor="end">2</text><line x1="673" y1="763.5" x2="681.33" y2="763.5" stroke="#000" stroke-width="1"/><line x1="1127" y1="763.5" x2="1118.67" y2="763.5" stroke="#000" stroke-width="1"/><text x="664.2" y="767.39" font-size="16.67" text-anchor="end">3</text><line x1="673" y1="713.5" x2="681.33" y2="713.5" stroke="#000" stroke-width="1"/><line x1="1127" y1="713.5" x2="1118.67" y2="713.5" stroke="#000" stroke-width="1"/><text x="664.2" y="716.94" font-size="16.67" text-anchor="end">4</text><text x="664.2" y="666.5" font-size="16.67" text-anchor="end">5</text><text x="900" y="652" font-size="23.3" text-anchor="middle" textLength="317.5" lengthAdjust="spacing">Hodogram(Bz_By FR frame)</text><text x="900" y="1166.7" font-size="16.67" text-anchor="middle">Bz(nT)</text><text x="624.4" y="891.4" font-size="16.67" text-anchor="middle" transform="rotate(-90 624.4 891.4)">By(nT)</text><clipPath id="c6"><rect x="1229" y="662" width="454" height="454"/></clipPath><g clip-path="url(#c6)"><polyline points="1424.58,695.38 1461.37,744.35 1464.78,717.59 1465.35,719.29 1469.34,746.06 1470.48,750.62 1460.23,754.03 1465.35,756.31 1462.51,781.37 1471.62,762.23 1469.34,746.06" fill="none" stroke="#00f" stroke-width="2.08" stroke-linejoin="round"/><polyline points="1461.37,744.35 1432.67,843.44 1431.53,830.34 1379.36,856.54 1383.35,804.37 1415.47,775.44 1432.55,762.23 1441.44,776.58 1457.38,797.31 1471.62,826.36 1466.49,834.9 1465.35,837.74 1466.49,845.38 1467.29,864.51 1472.53,876.47 1471.39,895.83 1472.76,898.11 1475.6,904.37 1477.31,907.79 1478.45,929.43 1510.32,962.37 1521.37,963.28 1493.46,978.66 1505.42,989.48 1497.45,1028.2 1508.27,999.16 1501.78,1020.23 1504.28,992.89" fill="none" stroke="#00f" stroke-width="2.08" stroke-linejoin="round"/><polyline points="1497.45,1028.2 1488.34,1031.28 1479.23,1041.3 1458.5,1063.28 1462.37,1070.34 1485.26,1066.36 1510.55,1058.38 1510.55,1062.94 1515.1,1048.13 1521.37,1045.28 1524.78,1057.24 1522.51,1070.34 1516.24,1076.04 1536.4,1075.47 1520.23,1050.98" fill="none" stroke="#00f" stroke-width="2.08" stroke-linejoin="round"/><polyline points="1479.57,999.38 1513.39,1044.15 1514.53,1039.59 1520.46,1007.47 1523.42,994.37" fill="none" stroke="#00f" stroke-width="2.08" stroke-linejoin="round"/><polyline points="1509.41,1027.86 1514.53,1039.59" fill="none" stroke="#00f" stroke-width="2.08" stroke-linejoin="round"/><polyline points="1497.45,1028.2 1509.41,1027.86" fill="none" stroke="#00f" stroke-width="2.08" stroke-linejoin="round"/><polyline points="1517.38,1061.8 1521.37,1045.28" fill="none" stroke="#00f" stroke-width="2.08" stroke-linejoin="round"/><polyline points="1516.24,1076.04 1514.31,1082.64" fill="none" stroke="#00f" stroke-width="2.08" stroke-linejoin="round"/><polyline points="1432.67,843.44 1429.25,850.5 1400.43,932.51 1429.25,850.5" fill="none" stroke="#00f" stroke-width="2.08" stroke-linejoin="round"/><circle cx="1379.4" cy="856.5" r="3.6" fill="#00f"/><circle cx="1383.3" cy="804.4" r="3.6" fill="#00f"/><circle cx="1400.4" cy="932.5" r="3.6" fill="#00f"/><circle cx="1415.5" cy="775.4" r="3.6" fill="#00f"/><circle cx="1424.6" cy="695.4" r="3.6" fill="#00f"/><circle cx="1429.2" cy="850.5" r="3.6" fill="#00f"/><circle cx="1431.5" cy="830.3" r="3.6" fill="#00f"/><circle cx="1432.6" cy="762.2" r="3.6" fill="#00f"/><circle cx="1432.7" cy="843.4" r="3.6" fill="#00f"/><circle cx="1441.4" cy="776.6" r="3.6" fill="#00f"/><circle cx="1457.4" cy="797.3" r="3.6" fill="#00f"/><circle cx="1458.5" cy="1063.3" r="3.6" fill="#00f"/><circle cx="1460.2" cy="754" r="3.6" fill="#00f"/><circle cx="1461.4" cy="744.4" r="3.6" fill="#00f"/><circle cx="1462.4" cy="1070.3" r="3.6" fill="#00f"/><circle cx="1462.5" cy="781.4" r="3.6" fill="#00f"/><circle cx="1464.8" cy="717.6" r="3.6" fill="#00f"/><circle cx="1465.4" cy="719.3" r="3.6" fill="#00f"/><circle cx="1465.4" cy="756.3" r="3.6" fill="#00f"/><circle cx="1465.4" cy="837.7" r="3.6" fill="#00f"/><circle cx="1466.5" cy="834.9" r="3.6" fill="#00f"/><circle cx="1466.5" cy="845.4" r="3.6" fill="#00f"/><circle cx="1467.3" cy="864.5" r="3.6" fill="#00f"/><circle cx="1469.3" cy="746.1" r="3.6" fill="#00f"/><circle cx="1470.5" cy="750.6" r="3.6" fill="#00f"/><circle cx="1471.4" cy="895.8" r="3.6" fill="#00f"/><circle cx="1471.6" cy="762.2" r="3.6" fill="#00f"/><circle cx="1471.6" cy="826.4" r="3.6" fill="#00f"/><circle cx="1472.5" cy="876.5" r="3.6" fill="#00f"/><circle cx="1472.8" cy="898.1" r="3.6" fill="#00f"/><circle cx="1475.6" cy="904.4" r="3.6" fill="#00f"/><circle cx="1477.3" cy="907.8" r="3.6" fill="#00f"/><circle cx="1478.5" cy="929.4" r="3.6" fill="#00f"/><circle cx="1479.2" cy="1041.3" r="3.6" fill="#00f"/><circle cx="1479.6" cy="999.4" r="3.6" fill="#00f"/><circle cx="1485.3" cy="1066.4" r="3.6" fill="#00f"/><circle cx="1488.3" cy="1031.3" r="3.6" fill="#00f"/><circle cx="1493.5" cy="978.7" r="3.6" fill="#00f"/><circle cx="1497.4" cy="1028.2" r="3.6" fill="#00f"/><circle cx="1501.8" cy="1020.2" r="3.6" fill="#00f"/><circle cx="1504.3" cy="992.9" r="3.6" fill="#00f"/><circle cx="1505.4" cy="989.5" r="3.6" fill="#00f"/><circle cx="1508.3" cy="999.2" r="3.6" fill="#00f"/><circle cx="1509.4" cy="1027.9" r="3.6" fill="#00f"/><circle cx="1510.3" cy="962.4" r="3.6" fill="#00f"/><circle cx="1510.5" cy="1058.4" r="3.6" fill="#00f"/><circle cx="1510.5" cy="1062.9" r="3.6" fill="#00f"/><circle cx="1513.4" cy="1044.1" r="3.6" fill="#00f"/><circle cx="1514.3" cy="1082.6" r="3.6" fill="#00f"/><circle cx="1514.5" cy="1039.6" r="3.6" fill="#00f"/><circle cx="1515.1" cy="1048.1" r="3.6" fill="#00f"/><circle cx="1516.2" cy="1076" r="3.6" fill="#00f"/><circle cx="1517.4" cy="1061.8" r="3.6" fill="#00f"/><circle cx="1520.2" cy="1051" r="3.6" fill="#00f"/><circle cx="1520.5" cy="1007.5" r="3.6" fill="#00f"/><circle cx="1521.4" cy="963.3" r="3.6" fill="#00f"/><circle cx="1521.4" cy="1045.3" r="3.6" fill="#00f"/><circle cx="1522.5" cy="1070.3" r="3.6" fill="#00f"/><circle cx="1523.4" cy="994.4" r="3.6" fill="#00f"/><circle cx="1524.8" cy="1057.2" r="3.6" fill="#00f"/><circle cx="1536.4" cy="1075.5" r="3.6" fill="#00f"/></g><rect x="1229" y="662" width="454" height="454" fill="none" stroke="#000" stroke-width="2"/><line x1="1242.5" y1="1116" x2="1242.5" y2="1107.67" stroke="#000" stroke-width="1"/><line x1="1242.5" y1="662" x2="1242.5" y2="670.33" stroke="#000" stroke-width="1"/><text x="1242.2" y="1138" font-size="16.67" text-anchor="middle">−6</text><line x1="1343.5" y1="1116" x2="1343.5" y2="1107.67" stroke="#000" stroke-width="1"/><line x1="1343.5" y1="662" x2="1343.5" y2="670.33" stroke="#000" stroke-width="1"/><text x="1342.9" y="1138" font-size="16.67" text-anchor="middle">−4</text><line x1="1444.5" y1="1116" x2="1444.5" y2="1107.67" stroke="#000" stroke-width="1"/><line x1="1444.5" y1="662" x2="1444.5" y2="670.33" stroke="#000" stroke-width="1"/><text x="1443.6" y="1138" font-size="16.67" text-anchor="middle">−2</text><line x1="1544.5" y1="1116" x2="1544.5" y2="1107.67" stroke="#000" stroke-width="1"/><line x1="1544.5" y1="662" x2="1544.5" y2="670.33" stroke="#000" stroke-width="1"/><text x="1544.3" y="1138" font-size="16.67" text-anchor="middle">0</text><line x1="1645.5" y1="1116" x2="1645.5" y2="1107.67" stroke="#000" stroke-width="1"/><line x1="1645.5" y1="662" x2="1645.5" y2="670.33" stroke="#000" stroke-width="1"/><text x="1645" y="1138" font-size="16.67" text-anchor="middle">2</text><text x="1220.2" y="1120.5" font-size="16.67" text-anchor="end">−4</text><line x1="1229" y1="1066.5" x2="1237.33" y2="1066.5" stroke="#000" stroke-width="1"/><line x1="1683" y1="1066.5" x2="1674.67" y2="1066.5" stroke="#000" stroke-width="1"/><text x="1220.2" y="1070.06" font-size="16.67" text-anchor="end">−3</text><line x1="1229" y1="1015.5" x2="1237.33" y2="1015.5" stroke="#000" stroke-width="1"/><line x1="1683" y1="1015.5" x2="1674.67" y2="1015.5" stroke="#000" stroke-width="1"/><text x="1220.2" y="1019.61" font-size="16.67" text-anchor="end">−2</text><line x1="1229" y1="965.5" x2="1237.33" y2="965.5" stroke="#000" stroke-width="1"/><line x1="1683" y1="965.5" x2="1674.67" y2="965.5" stroke="#000" stroke-width="1"/><text x="1220.2" y="969.17" font-size="16.67" text-anchor="end">−1</text><line x1="1229" y1="914.5" x2="1237.33" y2="914.5" stroke="#000" stroke-width="1"/><line x1="1683" y1="914.5" x2="1674.67" y2="914.5" stroke="#000" stroke-width="1"/><text x="1220.2" y="918.72" font-size="16.67" text-anchor="end">0</text><line x1="1229" y1="864.5" x2="1237.33" y2="864.5" stroke="#000" stroke-width="1"/><line x1="1683" y1="864.5" x2="1674.67" y2="864.5" stroke="#000" stroke-width="1"/><text x="1220.2" y="868.28" font-size="16.67" text-anchor="end">1</text><line x1="1229" y1="813.5" x2="1237.33" y2="813.5" stroke="#000" stroke-width="1"/><line x1="1683" y1="813.5" x2="1674.67" y2="813.5" stroke="#000" stroke-width="1"/><text x="1220.2" y="817.83" font-size="16.67" text-anchor="end">2</text><line x1="1229" y1="763.5" x2="1237.33" y2="763.5" stroke="#000" stroke-width="1"/><line x1="1683" y1="763.5" x2="1674.67" y2="763.5" stroke="#000" stroke-width="1"/><text x="1220.2" y="767.39" font-size="16.67" text-anchor="end">3</text><line x1="1229" y1="713.5" x2="1237.33" y2="713.5" stroke="#000" stroke-width="1"/><line x1="1683" y1="713.5" x2="1674.67" y2="713.5" stroke="#000" stroke-width="1"/><text x="1220.2" y="716.94" font-size="16.67" text-anchor="end">4</text><text x="1220.2" y="666.5" font-size="16.67" text-anchor="end">5</text><text x="1456" y="652" font-size="23.3" text-anchor="middle" textLength="319.5" lengthAdjust="spacing">Hodogram(Bx_By FR frame)</text><text x="1456" y="1166.7" font-size="16.67" text-anchor="middle">Bx(nT)</text><text x="1179.2" y="891.4" font-size="16.67" text-anchor="middle" transform="rotate(-90 1179.2 891.4)">By(nT)</text><clipPath id="c7"><rect x="117" y="1872" width="1566" height="189"/></clipPath><g clip-path="url(#c7)"><rect x="116.7" y="1874.85" width="27.6" height="6.9" fill="#bcff3b"/><rect x="143.7" y="1874.85" width="27.6" height="6.9" fill="#7bff7b"/><rect x="170.7" y="1874.85" width="81.6" height="6.9" fill="#efff08"/><rect x="251.7" y="1874.85" width="81.6" height="6.9" fill="#bcff3b"/><rect x="332.7" y="1874.85" width="27.6" height="6.9" fill="#efff08"/><rect x="359.7" y="1874.85" width="27.6" height="6.9" fill="#bcff3b"/><rect x="440.7" y="1874.85" width="135.6" height="6.9" fill="#bcff3b"/><rect x="575.7" y="1874.85" width="54.6" height="6.9" fill="#7bff7b"/><rect x="629.7" y="1874.85" width="54.6" height="6.9" fill="#bcff3b"/><rect x="683.7" y="1874.85" width="27.6" height="6.9" fill="#7bff7b"/><rect x="710.7" y="1874.85" width="27.6" height="6.9" fill="#bcff3b"/><rect x="764.7" y="1874.85" width="81.6" height="6.9" fill="#7bff7b"/><rect x="845.7" y="1874.85" width="54.6" height="6.9" fill="#bcff3b"/><rect x="899.7" y="1874.85" width="27.6" height="6.9" fill="#7bff7b"/><rect x="926.7" y="1874.85" width="27.6" height="6.9" fill="#bcff3b"/><rect x="953.7" y="1874.85" width="27.6" height="6.9" fill="#7bff7b"/><rect x="980.7" y="1874.85" width="27.6" height="6.9" fill="#bcff3b"/><rect x="1007.7" y="1874.85" width="108.6" height="6.9" fill="#7bff7b"/><rect x="1115.7" y="1874.85" width="27.6" height="6.9" fill="#00e5f7"/><rect x="1142.7" y="1874.85" width="27.6" height="6.9" fill="#42ffb5"/><rect x="1304.7" y="1874.85" width="27.6" height="6.9" fill="#00e5f7"/><rect x="1412.7" y="1874.85" width="81.6" height="6.9" fill="#7bff7b"/><rect x="1547.7" y="1874.85" width="27.6" height="6.9" fill="#00e5f7"/><rect x="1574.7" y="1874.85" width="108.6" height="6.9" fill="#7bff7b"/><rect x="116.7" y="1881.15" width="27.6" height="6.9" fill="#bcff3b"/><rect x="143.7" y="1881.15" width="27.6" height="6.9" fill="#7bff7b"/><rect x="251.7" y="1881.15" width="54.6" height="6.9" fill="#7bff7b"/><rect x="440.7" y="1881.15" width="27.6" height="6.9" fill="#42ffb5"/><rect x="467.7" y="1881.15" width="54.6" height="6.9" fill="#bcff3b"/><rect x="521.7" y="1881.15" width="27.6" height="6.9" fill="#42ffb5"/><rect x="548.7" y="1881.15" width="27.6" height="6.9" fill="#0094ff"/><rect x="575.7" y="1881.15" width="27.6" height="6.9" fill="#7bff7b"/><rect x="602.7" y="1881.15" width="81.6" height="6.9" fill="#bcff3b"/><rect x="683.7" y="1881.15" width="27.6" height="6.9" fill="#42ffb5"/><rect x="710.7" y="1881.15" width="81.6" height="6.9" fill="#bcff3b"/><rect x="791.7" y="1881.15" width="54.6" height="6.9" fill="#42ffb5"/><rect x="1034.7" y="1881.15" width="216.6" height="6.9" fill="#7bff7b"/><rect x="1304.7" y="1881.15" width="81.6" height="6.9" fill="#7bff7b"/><rect x="1385.7" y="1881.15" width="27.6" height="6.9" fill="#bcff3b"/><rect x="1412.7" y="1881.15" width="27.6" height="6.9" fill="#42ffb5"/><rect x="1466.7" y="1881.15" width="27.6" height="6.9" fill="#42ffb5"/><rect x="1493.7" y="1881.15" width="108.6" height="6.9" fill="#7bff7b"/><rect x="1601.7" y="1881.15" width="27.6" height="6.9" fill="#42ffb5"/><rect x="1628.7" y="1881.15" width="27.6" height="6.9" fill="#00e5f7"/><rect x="1655.7" y="1881.15" width="27.6" height="6.9" fill="#42ffb5"/><rect x="143.7" y="1887.45" width="27.6" height="6.9" fill="#42ffb5"/><rect x="170.7" y="1887.45" width="108.6" height="6.9" fill="#bcff3b"/><rect x="278.7" y="1887.45" width="27.6" height="6.9" fill="#42ffb5"/><rect x="305.7" y="1887.45" width="162.6" height="6.9" fill="#bcff3b"/><rect x="467.7" y="1887.45" width="27.6" height="6.9" fill="#7bff7b"/><rect x="521.7" y="1887.45" width="27.6" height="6.9" fill="#bcff3b"/><rect x="548.7" y="1887.45" width="27.6" height="6.9" fill="#42ffb5"/><rect x="602.7" y="1887.45" width="27.6" height="6.9" fill="#42ffb5"/><rect x="629.7" y="1887.45" width="54.6" height="6.9" fill="#7bff7b"/><rect x="683.7" y="1887.45" width="54.6" height="6.9" fill="#bcff3b"/><rect x="791.7" y="1887.45" width="81.6" height="6.9" fill="#bcff3b"/><rect x="872.7" y="1887.45" width="27.6" height="6.9" fill="#42ffb5"/><rect x="899.7" y="1887.45" width="27.6" height="6.9" fill="#00e5f7"/><rect x="926.7" y="1887.45" width="27.6" height="6.9" fill="#7bff7b"/><rect x="953.7" y="1887.45" width="27.6" height="6.9" fill="#42ffb5"/><rect x="1034.7" y="1887.45" width="27.6" height="6.9" fill="#7bff7b"/><rect x="1061.7" y="1887.45" width="27.6" height="6.9" fill="#00e5f7"/><rect x="1088.7" y="1887.45" width="27.6" height="6.9" fill="#7bff7b"/><rect x="1115.7" y="1887.45" width="27.6" height="6.9" fill="#bcff3b"/><rect x="1142.7" y="1887.45" width="108.6" height="6.9" fill="#7bff7b"/><rect x="1250.7" y="1887.45" width="162.6" height="6.9" fill="#bcff3b"/><rect x="1412.7" y="1887.45" width="27.6" height="6.9" fill="#7bff7b"/><rect x="1439.7" y="1887.45" width="54.6" height="6.9" fill="#42ffb5"/><rect x="1493.7" y="1887.45" width="27.6" height="6.9" fill="#bcff3b"/><rect x="1520.7" y="1887.45" width="54.6" height="6.9" fill="#7bff7b"/><rect x="1574.7" y="1887.45" width="54.6" height="6.9" fill="#bcff3b"/><rect x="1628.7" y="1887.45" width="27.6" height="6.9" fill="#42ffb5"/><rect x="1655.7" y="1887.45" width="27.6" height="6.9" fill="#bcff3b"/><rect x="143.7" y="1893.75" width="54.6" height="6.9" fill="#42ffb5"/><rect x="224.7" y="1893.75" width="27.6" height="6.9" fill="#42ffb5"/><rect x="251.7" y="1893.75" width="81.6" height="6.9" fill="#bcff3b"/><rect x="332.7" y="1893.75" width="27.6" height="6.9" fill="#7bff7b"/><rect x="359.7" y="1893.75" width="27.6" height="6.9" fill="#bcff3b"/><rect x="386.7" y="1893.75" width="54.6" height="6.9" fill="#7bff7b"/><rect x="440.7" y="1893.75" width="54.6" height="6.9" fill="#bcff3b"/><rect x="494.7" y="1893.75" width="27.6" height="6.9" fill="#7bff7b"/><rect x="521.7" y="1893.75" width="81.6" height="6.9" fill="#bcff3b"/><rect x="602.7" y="1893.75" width="81.6" height="6.9" fill="#7bff7b"/><rect x="683.7" y="1893.75" width="27.6" height="6.9" fill="#42ffb5"/><rect x="710.7" y="1893.75" width="27.6" height="6.9" fill="#7bff7b"/><rect x="845.7" y="1893.75" width="27.6" height="6.9" fill="#42ffb5"/><rect x="872.7" y="1893.75" width="27.6" height="6.9" fill="#7bff7b"/><rect x="899.7" y="1893.75" width="27.6" height="6.9" fill="#bcff3b"/><rect x="926.7" y="1893.75" width="27.6" height="6.9" fill="#7bff7b"/><rect x="953.7" y="1893.75" width="81.6" height="6.9" fill="#bcff3b"/><rect x="1034.7" y="1893.75" width="81.6" height="6.9" fill="#7bff7b"/><rect x="1169.7" y="1893.75" width="27.6" height="6.9" fill="#42ffb5"/><rect x="1196.7" y="1893.75" width="54.6" height="6.9" fill="#0094ff"/><rect x="1250.7" y="1893.75" width="27.6" height="6.9" fill="#7bff7b"/><rect x="1277.7" y="1893.75" width="27.6" height="6.9" fill="#ffd000"/><rect x="1304.7" y="1893.75" width="27.6" height="6.9" fill="#7bff7b"/><rect x="1358.7" y="1893.75" width="27.6" height="6.9" fill="#00e5f7"/><rect x="1385.7" y="1893.75" width="54.6" height="6.9" fill="#42ffb5"/><rect x="1439.7" y="1893.75" width="27.6" height="6.9" fill="#7bff7b"/><rect x="1466.7" y="1893.75" width="27.6" height="6.9" fill="#42ffb5"/><rect x="1547.7" y="1893.75" width="27.6" height="6.9" fill="#0094ff"/><rect x="1628.7" y="1893.75" width="27.6" height="6.9" fill="#42ffb5"/><rect x="116.7" y="1900.05" width="27.6" height="6.9" fill="#bcff3b"/><rect x="143.7" y="1900.05" width="27.6" height="6.9" fill="#7bff7b"/><rect x="224.7" y="1900.05" width="27.6" height="6.9" fill="#42ffb5"/><rect x="359.7" y="1900.05" width="27.6" height="6.9" fill="#42ffb5"/><rect x="386.7" y="1900.05" width="27.6" height="6.9" fill="#7bff7b"/><rect x="413.7" y="1900.05" width="27.6" height="6.9" fill="#42ffb5"/><rect x="494.7" y="1900.05" width="27.6" height="6.9" fill="#7bff7b"/><rect x="521.7" y="1900.05" width="27.6" height="6.9" fill="#0094ff"/><rect x="575.7" y="1900.05" width="27.6" height="6.9" fill="#42ffb5"/><rect x="602.7" y="1900.05" width="27.6" height="6.9" fill="#00e5f7"/><rect x="656.7" y="1900.05" width="27.6" height="6.9" fill="#42ffb5"/><rect x="683.7" y="1900.05" width="81.6" height="6.9" fill="#7bff7b"/><rect x="764.7" y="1900.05" width="27.6" height="6.9" fill="#42ffb5"/><rect x="791.7" y="1900.05" width="54.6" height="6.9" fill="#bcff3b"/><rect x="845.7" y="1900.05" width="135.6" height="6.9" fill="#7bff7b"/><rect x="1007.7" y="1900.05" width="27.6" height="6.9" fill="#42ffb5"/><rect x="1034.7" y="1900.05" width="108.6" height="6.9" fill="#7bff7b"/><rect x="1142.7" y="1900.05" width="27.6" height="6.9" fill="#42ffb5"/><rect x="1169.7" y="1900.05" width="27.6" height="6.9" fill="#7bff7b"/><rect x="1250.7" y="1900.05" width="27.6" height="6.9" fill="#bcff3b"/><rect x="1277.7" y="1900.05" width="27.6" height="6.9" fill="#efff08"/><rect x="1304.7" y="1900.05" width="27.6" height="6.9" fill="#bcff3b"/><rect x="1331.7" y="1900.05" width="27.6" height="6.9" fill="#7bff7b"/><rect x="1358.7" y="1900.05" width="27.6" height="6.9" fill="#42ffb5"/><rect x="1385.7" y="1900.05" width="27.6" height="6.9" fill="#7bff7b"/><rect x="116.7" y="1906.35" width="27.6" height="6.9" fill="#00e5f7"/><rect x="143.7" y="1906.35" width="108.6" height="6.9" fill="#bcff3b"/><rect x="251.7" y="1906.35" width="54.6" height="6.9" fill="#efff08"/><rect x="305.7" y="1906.35" width="81.6" height="6.9" fill="#bcff3b"/><rect x="386.7" y="1906.35" width="27.6" height="6.9" fill="#7bff7b"/><rect x="413.7" y="1906.35" width="54.6" height="6.9" fill="#bcff3b"/><rect x="467.7" y="1906.35" width="27.6" height="6.9" fill="#42ffb5"/><rect x="494.7" y="1906.35" width="81.6" height="6.9" fill="#bcff3b"/><rect x="575.7" y="1906.35" width="27.6" height="6.9" fill="#efff08"/><rect x="602.7" y="1906.35" width="54.6" height="6.9" fill="#7bff7b"/><rect x="656.7" y="1906.35" width="108.6" height="6.9" fill="#bcff3b"/><rect x="764.7" y="1906.35" width="27.6" height="6.9" fill="#7bff7b"/><rect x="791.7" y="1906.35" width="54.6" height="6.9" fill="#bcff3b"/><rect x="845.7" y="1906.35" width="27.6" height="6.9" fill="#7bff7b"/><rect x="872.7" y="1906.35" width="27.6" height="6.9" fill="#42ffb5"/><rect x="899.7" y="1906.35" width="27.6" height="6.9" fill="#0094ff"/><rect x="926.7" y="1906.35" width="27.6" height="6.9" fill="#7bff7b"/><rect x="953.7" y="1906.35" width="27.6" height="6.9" fill="#00e5f7"/><rect x="1007.7" y="1906.35" width="27.6" height="6.9" fill="#0094ff"/><rect x="1034.7" y="1906.35" width="27.6" height="6.9" fill="#7bff7b"/><rect x="1142.7" y="1906.35" width="27.6" height="6.9" fill="#bcff3b"/><rect x="1169.7" y="1906.35" width="27.6" height="6.9" fill="#7bff7b"/><rect x="1196.7" y="1906.35" width="108.6" height="6.9" fill="#bcff3b"/><rect x="1331.7" y="1906.35" width="54.6" height="6.9" fill="#7bff7b"/><rect x="1385.7" y="1906.35" width="27.6" height="6.9" fill="#bcff3b"/><rect x="1412.7" y="1906.35" width="27.6" height="6.9" fill="#7bff7b"/><rect x="1493.7" y="1906.35" width="27.6" height="6.9" fill="#7bff7b"/><rect x="1520.7" y="1906.35" width="27.6" height="6.9" fill="#bcff3b"/><rect x="1574.7" y="1906.35" width="27.6" height="6.9" fill="#7bff7b"/><rect x="116.7" y="1912.65" width="108.6" height="6.9" fill="#bcff3b"/><rect x="224.7" y="1912.65" width="27.6" height="6.9" fill="#7bff7b"/><rect x="251.7" y="1912.65" width="27.6" height="6.9" fill="#42ffb5"/><rect x="278.7" y="1912.65" width="54.6" height="6.9" fill="#7bff7b"/><rect x="332.7" y="1912.65" width="54.6" height="6.9" fill="#bcff3b"/><rect x="386.7" y="1912.65" width="54.6" height="6.9" fill="#7bff7b"/><rect x="440.7" y="1912.65" width="27.6" height="6.9" fill="#efff08"/><rect x="467.7" y="1912.65" width="54.6" height="6.9" fill="#bcff3b"/><rect x="521.7" y="1912.65" width="27.6" height="6.9" fill="#7bff7b"/><rect x="548.7" y="1912.65" width="27.6" height="6.9" fill="#efff08"/><rect x="575.7" y="1912.65" width="27.6" height="6.9" fill="#42ffb5"/><rect x="602.7" y="1912.65" width="162.6" height="6.9" fill="#bcff3b"/><rect x="764.7" y="1912.65" width="27.6" height="6.9" fill="#efff08"/><rect x="791.7" y="1912.65" width="27.6" height="6.9" fill="#7bff7b"/><rect x="818.7" y="1912.65" width="189.6" height="6.9" fill="#bcff3b"/><rect x="1007.7" y="1912.65" width="27.6" height="6.9" fill="#42ffb5"/><rect x="1061.7" y="1912.65" width="27.6" height="6.9" fill="#7bff7b"/><rect x="1142.7" y="1912.65" width="27.6" height="6.9" fill="#42ffb5"/><rect x="1196.7" y="1912.65" width="27.6" height="6.9" fill="#7bff7b"/><rect x="1223.7" y="1912.65" width="27.6" height="6.9" fill="#00e5f7"/><rect x="1250.7" y="1912.65" width="54.6" height="6.9" fill="#bcff3b"/><rect x="1304.7" y="1912.65" width="54.6" height="6.9" fill="#42ffb5"/><rect x="1358.7" y="1912.65" width="54.6" height="6.9" fill="#7bff7b"/><rect x="1412.7" y="1912.65" width="27.6" height="6.9" fill="#42ffb5"/><rect x="1439.7" y="1912.65" width="27.6" height="6.9" fill="#7bff7b"/><rect x="1466.7" y="1912.65" width="27.6" height="6.9" fill="#42ffb5"/><rect x="1493.7" y="1912.65" width="27.6" height="6.9" fill="#bcff3b"/><rect x="1547.7" y="1912.65" width="108.6" height="6.9" fill="#bcff3b"/><rect x="1655.7" y="1912.65" width="27.6" height="6.9" fill="#7bff7b"/><rect x="143.7" y="1918.95" width="54.6" height="6.9" fill="#7bff7b"/><rect x="197.7" y="1918.95" width="270.6" height="6.9" fill="#bcff3b"/><rect x="467.7" y="1918.95" width="27.6" height="6.9" fill="#00e5f7"/><rect x="494.7" y="1918.95" width="108.6" height="6.9" fill="#bcff3b"/><rect x="602.7" y="1918.95" width="27.6" height="6.9" fill="#42ffb5"/><rect x="629.7" y="1918.95" width="54.6" height="6.9" fill="#7bff7b"/><rect x="683.7" y="1918.95" width="27.6" height="6.9" fill="#00e5f7"/><rect x="710.7" y="1918.95" width="54.6" height="6.9" fill="#7bff7b"/><rect x="764.7" y="1918.95" width="27.6" height="6.9" fill="#42ffb5"/><rect x="791.7" y="1918.95" width="54.6" height="6.9" fill="#7bff7b"/><rect x="845.7" y="1918.95" width="54.6" height="6.9" fill="#bcff3b"/><rect x="899.7" y="1918.95" width="27.6" height="6.9" fill="#7bff7b"/><rect x="926.7" y="1918.95" width="243.6" height="6.9" fill="#bcff3b"/><rect x="1169.7" y="1918.95" width="27.6" height="6.9" fill="#7bff7b"/><rect x="1196.7" y="1918.95" width="54.6" height="6.9" fill="#42ffb5"/><rect x="1250.7" y="1918.95" width="27.6" height="6.9" fill="#7bff7b"/><rect x="1277.7" y="1918.95" width="81.6" height="6.9" fill="#bcff3b"/><rect x="1358.7" y="1918.95" width="81.6" height="6.9" fill="#7bff7b"/><rect x="1466.7" y="1918.95" width="27.6" height="6.9" fill="#42ffb5"/><rect x="1493.7" y="1918.95" width="27.6" height="6.9" fill="#00e5f7"/><rect x="1520.7" y="1918.95" width="27.6" height="6.9" fill="#42ffb5"/><rect x="1547.7" y="1918.95" width="27.6" height="6.9" fill="#0094ff"/><rect x="1574.7" y="1918.95" width="54.6" height="6.9" fill="#42ffb5"/><rect x="1628.7" y="1918.95" width="27.6" height="6.9" fill="#7bff7b"/><rect x="1655.7" y="1918.95" width="27.6" height="6.9" fill="#42ffb5"/><rect x="116.7" y="1925.25" width="27.6" height="6.9" fill="#7bff7b"/><rect x="143.7" y="1925.25" width="108.6" height="6.9" fill="#bcff3b"/><rect x="251.7" y="1925.25" width="27.6" height="6.9" fill="#7bff7b"/><rect x="278.7" y="1925.25" width="108.6" height="6.9" fill="#bcff3b"/><rect x="386.7" y="1925.25" width="27.6" height="6.9" fill="#7bff7b"/><rect x="413.7" y="1925.25" width="27.6" height="6.9" fill="#0094ff"/><rect x="440.7" y="1925.25" width="54.6" height="6.9" fill="#bcff3b"/><rect x="494.7" y="1925.25" width="27.6" height="6.9" fill="#7bff7b"/><rect x="521.7" y="1925.25" width="27.6" height="6.9" fill="#bcff3b"/><rect x="548.7" y="1925.25" width="27.6" height="6.9" fill="#efff08"/><rect x="575.7" y="1925.25" width="27.6" height="6.9" fill="#7bff7b"/><rect x="602.7" y="1925.25" width="54.6" height="6.9" fill="#bcff3b"/><rect x="656.7" y="1925.25" width="27.6" height="6.9" fill="#7bff7b"/><rect x="683.7" y="1925.25" width="27.6" height="6.9" fill="#00e5f7"/><rect x="710.7" y="1925.25" width="54.6" height="6.9" fill="#bcff3b"/><rect x="791.7" y="1925.25" width="27.6" height="6.9" fill="#0094ff"/><rect x="818.7" y="1925.25" width="27.6" height="6.9" fill="#bcff3b"/><rect x="845.7" y="1925.25" width="54.6" height="6.9" fill="#7bff7b"/><rect x="899.7" y="1925.25" width="27.6" height="6.9" fill="#bcff3b"/><rect x="926.7" y="1925.25" width="27.6" height="6.9" fill="#7bff7b"/><rect x="953.7" y="1925.25" width="135.6" height="6.9" fill="#bcff3b"/><rect x="1088.7" y="1925.25" width="54.6" height="6.9" fill="#7bff7b"/><rect x="1142.7" y="1925.25" width="108.6" height="6.9" fill="#bcff3b"/><rect x="1250.7" y="1925.25" width="27.6" height="6.9" fill="#7bff7b"/><rect x="1277.7" y="1925.25" width="81.6" height="6.9" fill="#bcff3b"/><rect x="1358.7" y="1925.25" width="54.6" height="6.9" fill="#efff08"/><rect x="1412.7" y="1925.25" width="54.6" height="6.9" fill="#bcff3b"/><rect x="1466.7" y="1925.25" width="27.6" height="6.9" fill="#7bff7b"/><rect x="1493.7" y="1925.25" width="189.6" height="6.9" fill="#bcff3b"/><rect x="116.7" y="1931.55" width="54.6" height="6.9" fill="#bcff3b"/><rect x="170.7" y="1931.55" width="27.6" height="6.9" fill="#42ffb5"/><rect x="224.7" y="1931.55" width="81.6" height="6.9" fill="#bcff3b"/><rect x="305.7" y="1931.55" width="27.6" height="6.9" fill="#42ffb5"/><rect x="332.7" y="1931.55" width="27.6" height="6.9" fill="#bcff3b"/><rect x="359.7" y="1931.55" width="27.6" height="6.9" fill="#7bff7b"/><rect x="386.7" y="1931.55" width="405.6" height="6.9" fill="#bcff3b"/><rect x="791.7" y="1931.55" width="27.6" height="6.9" fill="#efff08"/><rect x="818.7" y="1931.55" width="27.6" height="6.9" fill="#bcff3b"/><rect x="845.7" y="1931.55" width="54.6" height="6.9" fill="#7bff7b"/><rect x="926.7" y="1931.55" width="27.6" height="6.9" fill="#7bff7b"/><rect x="953.7" y="1931.55" width="27.6" height="6.9" fill="#42ffb5"/><rect x="980.7" y="1931.55" width="54.6" height="6.9" fill="#7bff7b"/><rect x="1034.7" y="1931.55" width="135.6" height="6.9" fill="#bcff3b"/><rect x="1169.7" y="1931.55" width="108.6" height="6.9" fill="#7bff7b"/><rect x="1277.7" y="1931.55" width="81.6" height="6.9" fill="#bcff3b"/><rect x="1358.7" y="1931.55" width="27.6" height="6.9" fill="#7bff7b"/><rect x="1385.7" y="1931.55" width="27.6" height="6.9" fill="#bcff3b"/><rect x="1412.7" y="1931.55" width="27.6" height="6.9" fill="#7bff7b"/><rect x="1439.7" y="1931.55" width="27.6" height="6.9" fill="#bcff3b"/><rect x="1466.7" y="1931.55" width="81.6" height="6.9" fill="#7bff7b"/><rect x="1547.7" y="1931.55" width="81.6" height="6.9" fill="#bcff3b"/><rect x="1628.7" y="1931.55" width="27.6" height="6.9" fill="#efff08"/><rect x="1655.7" y="1931.55" width="27.6" height="6.9" fill="#bcff3b"/><rect x="116.7" y="1937.85" width="162.6" height="6.9" fill="#bcff3b"/><rect x="278.7" y="1937.85" width="27.6" height="6.9" fill="#42ffb5"/><rect x="305.7" y="1937.85" width="162.6" height="6.9" fill="#bcff3b"/><rect x="467.7" y="1937.85" width="27.6" height="6.9" fill="#efff08"/><rect x="494.7" y="1937.85" width="27.6" height="6.9" fill="#bcff3b"/><rect x="521.7" y="1937.85" width="27.6" height="6.9" fill="#7bff7b"/><rect x="548.7" y="1937.85" width="189.6" height="6.9" fill="#bcff3b"/><rect x="737.7" y="1937.85" width="54.6" height="6.9" fill="#42ffb5"/><rect x="791.7" y="1937.85" width="540.6" height="6.9" fill="#bcff3b"/><rect x="1331.7" y="1937.85" width="27.6" height="6.9" fill="#7bff7b"/><rect x="1358.7" y="1937.85" width="27.6" height="6.9" fill="#0094ff"/><rect x="1385.7" y="1937.85" width="27.6" height="6.9" fill="#7bff7b"/><rect x="1412.7" y="1937.85" width="243.6" height="6.9" fill="#bcff3b"/><rect x="1655.7" y="1937.85" width="27.6" height="6.9" fill="#7bff7b"/><rect x="116.7" y="1944.15" width="54.6" height="6.9" fill="#7bff7b"/><rect x="170.7" y="1944.15" width="27.6" height="6.9" fill="#bcff3b"/><rect x="224.7" y="1944.15" width="27.6" height="6.9" fill="#42ffb5"/><rect x="251.7" y="1944.15" width="270.6" height="6.9" fill="#bcff3b"/><rect x="521.7" y="1944.15" width="27.6" height="6.9" fill="#42ffb5"/><rect x="548.7" y="1944.15" width="108.6" height="6.9" fill="#bcff3b"/><rect x="656.7" y="1944.15" width="27.6" height="6.9" fill="#42ffb5"/><rect x="683.7" y="1944.15" width="54.6" height="6.9" fill="#bcff3b"/><rect x="764.7" y="1944.15" width="27.6" height="6.9" fill="#42ffb5"/><rect x="791.7" y="1944.15" width="81.6" height="6.9" fill="#bcff3b"/><rect x="872.7" y="1944.15" width="81.6" height="6.9" fill="#7bff7b"/><rect x="953.7" y="1944.15" width="27.6" height="6.9" fill="#bcff3b"/><rect x="980.7" y="1944.15" width="27.6" height="6.9" fill="#42ffb5"/><rect x="1007.7" y="1944.15" width="216.6" height="6.9" fill="#bcff3b"/><rect x="1223.7" y="1944.15" width="27.6" height="6.9" fill="#42ffb5"/><rect x="1250.7" y="1944.15" width="27.6" height="6.9" fill="#7bff7b"/><rect x="1277.7" y="1944.15" width="54.6" height="6.9" fill="#bcff3b"/><rect x="1331.7" y="1944.15" width="27.6" height="6.9" fill="#7bff7b"/><rect x="1358.7" y="1944.15" width="27.6" height="6.9" fill="#bcff3b"/><rect x="1385.7" y="1944.15" width="27.6" height="6.9" fill="#7bff7b"/><rect x="1412.7" y="1944.15" width="81.6" height="6.9" fill="#42ffb5"/><rect x="1493.7" y="1944.15" width="27.6" height="6.9" fill="#7bff7b"/><rect x="1520.7" y="1944.15" width="27.6" height="6.9" fill="#42ffb5"/><rect x="1547.7" y="1944.15" width="135.6" height="6.9" fill="#7bff7b"/><rect x="116.7" y="1950.45" width="54.6" height="6.9" fill="#7bff7b"/><rect x="170.7" y="1950.45" width="27.6" height="6.9" fill="#42ffb5"/><rect x="197.7" y="1950.45" width="27.6" height="6.9" fill="#7bff7b"/><rect x="224.7" y="1950.45" width="27.6" height="6.9" fill="#42ffb5"/><rect x="251.7" y="1950.45" width="54.6" height="6.9" fill="#7bff7b"/><rect x="305.7" y="1950.45" width="27.6" height="6.9" fill="#42ffb5"/><rect x="332.7" y="1950.45" width="27.6" height="6.9" fill="#7bff7b"/><rect x="359.7" y="1950.45" width="27.6" height="6.9" fill="#0094ff"/><rect x="413.7" y="1950.45" width="27.6" height="6.9" fill="#0094ff"/><rect x="440.7" y="1950.45" width="27.6" height="6.9" fill="#42ffb5"/><rect x="467.7" y="1950.45" width="81.6" height="6.9" fill="#bcff3b"/><rect x="548.7" y="1950.45" width="27.6" height="6.9" fill="#7bff7b"/><rect x="575.7" y="1950.45" width="27.6" height="6.9" fill="#bcff3b"/><rect x="602.7" y="1950.45" width="27.6" height="6.9" fill="#7bff7b"/><rect x="629.7" y="1950.45" width="27.6" height="6.9" fill="#bcff3b"/><rect x="656.7" y="1950.45" width="27.6" height="6.9" fill="#42ffb5"/><rect x="683.7" y="1950.45" width="27.6" height="6.9" fill="#7bff7b"/><rect x="710.7" y="1950.45" width="27.6" height="6.9" fill="#bcff3b"/><rect x="737.7" y="1950.45" width="81.6" height="6.9" fill="#7bff7b"/><rect x="818.7" y="1950.45" width="27.6" height="6.9" fill="#42ffb5"/><rect x="899.7" y="1950.45" width="54.6" height="6.9" fill="#0094ff"/><rect x="1034.7" y="1950.45" width="27.6" height="6.9" fill="#7bff7b"/><rect x="1088.7" y="1950.45" width="27.6" height="6.9" fill="#00e5f7"/><rect x="1115.7" y="1950.45" width="27.6" height="6.9" fill="#0094ff"/><rect x="1142.7" y="1950.45" width="54.6" height="6.9" fill="#7bff7b"/><rect x="1196.7" y="1950.45" width="27.6" height="6.9" fill="#bcff3b"/><rect x="1223.7" y="1950.45" width="54.6" height="6.9" fill="#7bff7b"/><rect x="1277.7" y="1950.45" width="27.6" height="6.9" fill="#bcff3b"/><rect x="1304.7" y="1950.45" width="54.6" height="6.9" fill="#7bff7b"/><rect x="1358.7" y="1950.45" width="324.6" height="6.9" fill="#bcff3b"/><rect x="116.7" y="1956.75" width="27.6" height="6.9" fill="#00e5f7"/><rect x="143.7" y="1956.75" width="216.6" height="6.9" fill="#bcff3b"/><rect x="359.7" y="1956.75" width="54.6" height="6.9" fill="#7bff7b"/><rect x="413.7" y="1956.75" width="81.6" height="6.9" fill="#bcff3b"/><rect x="494.7" y="1956.75" width="27.6" height="6.9" fill="#7bff7b"/><rect x="521.7" y="1956.75" width="81.6" height="6.9" fill="#bcff3b"/><rect x="602.7" y="1956.75" width="27.6" height="6.9" fill="#7bff7b"/><rect x="629.7" y="1956.75" width="27.6" height="6.9" fill="#bcff3b"/><rect x="656.7" y="1956.75" width="81.6" height="6.9" fill="#7bff7b"/><rect x="737.7" y="1956.75" width="27.6" height="6.9" fill="#bcff3b"/><rect x="791.7" y="1956.75" width="27.6" height="6.9" fill="#bcff3b"/><rect x="818.7" y="1956.75" width="27.6" height="6.9" fill="#7bff7b"/><rect x="845.7" y="1956.75" width="54.6" height="6.9" fill="#bcff3b"/><rect x="899.7" y="1956.75" width="27.6" height="6.9" fill="#42ffb5"/><rect x="926.7" y="1956.75" width="27.6" height="6.9" fill="#7bff7b"/><rect x="953.7" y="1956.75" width="27.6" height="6.9" fill="#0094ff"/><rect x="1007.7" y="1956.75" width="27.6" height="6.9" fill="#0094ff"/><rect x="1034.7" y="1956.75" width="27.6" height="6.9" fill="#00e5f7"/><rect x="1061.7" y="1956.75" width="27.6" height="6.9" fill="#42ffb5"/><rect x="1088.7" y="1956.75" width="27.6" height="6.9" fill="#0094ff"/><rect x="1115.7" y="1956.75" width="54.6" height="6.9" fill="#00e5f7"/><rect x="1169.7" y="1956.75" width="27.6" height="6.9" fill="#42ffb5"/><rect x="1196.7" y="1956.75" width="27.6" height="6.9" fill="#7bff7b"/><rect x="1223.7" y="1956.75" width="27.6" height="6.9" fill="#00e5f7"/><rect x="1250.7" y="1956.75" width="27.6" height="6.9" fill="#42ffb5"/><rect x="1277.7" y="1956.75" width="27.6" height="6.9" fill="#7bff7b"/><rect x="1304.7" y="1956.75" width="27.6" height="6.9" fill="#00e5f7"/><rect x="1358.7" y="1956.75" width="27.6" height="6.9" fill="#7bff7b"/><rect x="1385.7" y="1956.75" width="108.6" height="6.9" fill="#bcff3b"/><rect x="1574.7" y="1956.75" width="108.6" height="6.9" fill="#bcff3b"/><rect x="116.7" y="1963.05" width="27.6" height="6.9" fill="#efff08"/><rect x="143.7" y="1963.05" width="108.6" height="6.9" fill="#7bff7b"/><rect x="251.7" y="1963.05" width="27.6" height="6.9" fill="#bcff3b"/><rect x="278.7" y="1963.05" width="54.6" height="6.9" fill="#7bff7b"/><rect x="332.7" y="1963.05" width="81.6" height="6.9" fill="#bcff3b"/><rect x="413.7" y="1963.05" width="27.6" height="6.9" fill="#efff08"/><rect x="440.7" y="1963.05" width="27.6" height="6.9" fill="#ffd000"/><rect x="467.7" y="1963.05" width="27.6" height="6.9" fill="#efff08"/><rect x="494.7" y="1963.05" width="54.6" height="6.9" fill="#7bff7b"/><rect x="548.7" y="1963.05" width="27.6" height="6.9" fill="#42ffb5"/><rect x="575.7" y="1963.05" width="27.6" height="6.9" fill="#7bff7b"/><rect x="602.7" y="1963.05" width="54.6" height="6.9" fill="#bcff3b"/><rect x="656.7" y="1963.05" width="135.6" height="6.9" fill="#efff08"/><rect x="791.7" y="1963.05" width="27.6" height="6.9" fill="#bcff3b"/><rect x="818.7" y="1963.05" width="27.6" height="6.9" fill="#efff08"/><rect x="845.7" y="1963.05" width="27.6" height="6.9" fill="#bcff3b"/><rect x="872.7" y="1963.05" width="135.6" height="6.9" fill="#7bff7b"/><rect x="1007.7" y="1963.05" width="27.6" height="6.9" fill="#bcff3b"/><rect x="1061.7" y="1963.05" width="27.6" height="6.9" fill="#42ffb5"/><rect x="1196.7" y="1963.05" width="27.6" height="6.9" fill="#00e5f7"/><rect x="1223.7" y="1963.05" width="108.6" height="6.9" fill="#42ffb5"/><rect x="1358.7" y="1963.05" width="27.6" height="6.9" fill="#7bff7b"/><rect x="1385.7" y="1963.05" width="54.6" height="6.9" fill="#42ffb5"/><rect x="1439.7" y="1963.05" width="27.6" height="6.9" fill="#00e5f7"/><rect x="1466.7" y="1963.05" width="27.6" height="6.9" fill="#42ffb5"/><rect x="1493.7" y="1963.05" width="27.6" height="6.9" fill="#0094ff"/><rect x="1520.7" y="1963.05" width="81.6" height="6.9" fill="#42ffb5"/><rect x="1601.7" y="1963.05" width="81.6" height="6.9" fill="#00e5f7"/><rect x="116.7" y="1969.35" width="27.6" height="6.9" fill="#7bff7b"/><rect x="143.7" y="1969.35" width="540.6" height="6.9" fill="#bcff3b"/><rect x="683.7" y="1969.35" width="27.6" height="6.9" fill="#7bff7b"/><rect x="710.7" y="1969.35" width="54.6" height="6.9" fill="#bcff3b"/><rect x="764.7" y="1969.35" width="81.6" height="6.9" fill="#42ffb5"/><rect x="845.7" y="1969.35" width="27.6" height="6.9" fill="#bcff3b"/><rect x="872.7" y="1969.35" width="54.6" height="6.9" fill="#ffd000"/><rect x="926.7" y="1969.35" width="27.6" height="6.9" fill="#efff08"/><rect x="953.7" y="1969.35" width="54.6" height="6.9" fill="#ffd000"/><rect x="1007.7" y="1969.35" width="27.6" height="6.9" fill="#efff08"/><rect x="1034.7" y="1969.35" width="108.6" height="6.9" fill="#bcff3b"/><rect x="1142.7" y="1969.35" width="27.6" height="6.9" fill="#7bff7b"/><rect x="1169.7" y="1969.35" width="27.6" height="6.9" fill="#42ffb5"/><rect x="1223.7" y="1969.35" width="27.6" height="6.9" fill="#00e5f7"/><rect x="1250.7" y="1969.35" width="81.6" height="6.9" fill="#7bff7b"/><rect x="1331.7" y="1969.35" width="27.6" height="6.9" fill="#42ffb5"/><rect x="1358.7" y="1969.35" width="54.6" height="6.9" fill="#7bff7b"/><rect x="1439.7" y="1969.35" width="27.6" height="6.9" fill="#42ffb5"/><rect x="1520.7" y="1969.35" width="27.6" height="6.9" fill="#0094ff"/><rect x="1547.7" y="1969.35" width="27.6" height="6.9" fill="#00e5f7"/><rect x="1601.7" y="1969.35" width="27.6" height="6.9" fill="#00e5f7"/><rect x="1628.7" y="1969.35" width="27.6" height="6.9" fill="#0094ff"/><rect x="116.7" y="1975.65" width="27.6" height="6.9" fill="#bcff3b"/><rect x="143.7" y="1975.65" width="27.6" height="6.9" fill="#efff08"/><rect x="251.7" y="1975.65" width="27.6" height="6.9" fill="#42ffb5"/><rect x="278.7" y="1975.65" width="27.6" height="6.9" fill="#7bff7b"/><rect x="386.7" y="1975.65" width="27.6" height="6.9" fill="#7bff7b"/><rect x="413.7" y="1975.65" width="27.6" height="6.9" fill="#00e5f7"/><rect x="440.7" y="1975.65" width="27.6" height="6.9" fill="#42ffb5"/><rect x="467.7" y="1975.65" width="27.6" height="6.9" fill="#7bff7b"/><rect x="494.7" y="1975.65" width="27.6" height="6.9" fill="#bcff3b"/><rect x="521.7" y="1975.65" width="54.6" height="6.9" fill="#42ffb5"/><rect x="575.7" y="1975.65" width="54.6" height="6.9" fill="#bcff3b"/><rect x="629.7" y="1975.65" width="54.6" height="6.9" fill="#7bff7b"/><rect x="683.7" y="1975.65" width="216.6" height="6.9" fill="#bcff3b"/><rect x="899.7" y="1975.65" width="27.6" height="6.9" fill="#7bff7b"/><rect x="926.7" y="1975.65" width="27.6" height="6.9" fill="#42ffb5"/><rect x="953.7" y="1975.65" width="54.6" height="6.9" fill="#7bff7b"/><rect x="1007.7" y="1975.65" width="108.6" height="6.9" fill="#bcff3b"/><rect x="1115.7" y="1975.65" width="27.6" height="6.9" fill="#42ffb5"/><rect x="1142.7" y="1975.65" width="135.6" height="6.9" fill="#bcff3b"/><rect x="1277.7" y="1975.65" width="27.6" height="6.9" fill="#42ffb5"/><rect x="1304.7" y="1975.65" width="54.6" height="6.9" fill="#efff08"/><rect x="1358.7" y="1975.65" width="54.6" height="6.9" fill="#bcff3b"/><rect x="1412.7" y="1975.65" width="27.6" height="6.9" fill="#efff08"/><rect x="1439.7" y="1975.65" width="81.6" height="6.9" fill="#ffd000"/><rect x="1520.7" y="1975.65" width="27.6" height="6.9" fill="#efff08"/><rect x="1547.7" y="1975.65" width="27.6" height="6.9" fill="#ffd000"/><rect x="1574.7" y="1975.65" width="27.6" height="6.9" fill="#efff08"/><rect x="1601.7" y="1975.65" width="27.6" height="6.9" fill="#ffd000"/><rect x="1628.7" y="1975.65" width="27.6" height="6.9" fill="#efff08"/><rect x="1655.7" y="1975.65" width="27.6" height="6.9" fill="#ffd000"/><rect x="116.7" y="1981.95" width="27.6" height="6.9" fill="#7bff7b"/><rect x="143.7" y="1981.95" width="27.6" height="6.9" fill="#bcff3b"/><rect x="170.7" y="1981.95" width="108.6" height="6.9" fill="#efff08"/><rect x="278.7" y="1981.95" width="108.6" height="6.9" fill="#bcff3b"/><rect x="386.7" y="1981.95" width="27.6" height="6.9" fill="#42ffb5"/><rect x="413.7" y="1981.95" width="108.6" height="6.9" fill="#7bff7b"/><rect x="521.7" y="1981.95" width="81.6" height="6.9" fill="#bcff3b"/><rect x="602.7" y="1981.95" width="27.6" height="6.9" fill="#7bff7b"/><rect x="629.7" y="1981.95" width="27.6" height="6.9" fill="#efff08"/><rect x="656.7" y="1981.95" width="54.6" height="6.9" fill="#7bff7b"/><rect x="710.7" y="1981.95" width="27.6" height="6.9" fill="#bcff3b"/><rect x="764.7" y="1981.95" width="27.6" height="6.9" fill="#7bff7b"/><rect x="791.7" y="1981.95" width="27.6" height="6.9" fill="#bcff3b"/><rect x="818.7" y="1981.95" width="27.6" height="6.9" fill="#ffd000"/><rect x="845.7" y="1981.95" width="54.6" height="6.9" fill="#bcff3b"/><rect x="899.7" y="1981.95" width="27.6" height="6.9" fill="#7bff7b"/><rect x="926.7" y="1981.95" width="27.6" height="6.9" fill="#bcff3b"/><rect x="953.7" y="1981.95" width="54.6" height="6.9" fill="#7bff7b"/><rect x="1007.7" y="1981.95" width="270.6" height="6.9" fill="#bcff3b"/><rect x="1277.7" y="1981.95" width="27.6" height="6.9" fill="#efff08"/><rect x="1304.7" y="1981.95" width="378.6" height="6.9" fill="#bcff3b"/><rect x="116.7" y="1988.25" width="81.6" height="6.9" fill="#bcff3b"/><rect x="197.7" y="1988.25" width="27.6" height="6.9" fill="#7bff7b"/><rect x="224.7" y="1988.25" width="81.6" height="6.9" fill="#bcff3b"/><rect x="305.7" y="1988.25" width="54.6" height="6.9" fill="#efff08"/><rect x="359.7" y="1988.25" width="108.6" height="6.9" fill="#ffd000"/><rect x="467.7" y="1988.25" width="27.6" height="6.9" fill="#efff08"/><rect x="494.7" y="1988.25" width="54.6" height="6.9" fill="#bcff3b"/><rect x="548.7" y="1988.25" width="27.6" height="6.9" fill="#efff08"/><rect x="575.7" y="1988.25" width="27.6" height="6.9" fill="#bcff3b"/><rect x="602.7" y="1988.25" width="54.6" height="6.9" fill="#efff08"/><rect x="656.7" y="1988.25" width="27.6" height="6.9" fill="#ffd000"/><rect x="683.7" y="1988.25" width="189.6" height="6.9" fill="#bcff3b"/><rect x="872.7" y="1988.25" width="54.6" height="6.9" fill="#7bff7b"/><rect x="926.7" y="1988.25" width="108.6" height="6.9" fill="#efff08"/><rect x="1034.7" y="1988.25" width="27.6" height="6.9" fill="#7bff7b"/><rect x="1061.7" y="1988.25" width="27.6" height="6.9" fill="#bcff3b"/><rect x="1088.7" y="1988.25" width="54.6" height="6.9" fill="#42ffb5"/><rect x="1142.7" y="1988.25" width="108.6" height="6.9" fill="#bcff3b"/><rect x="1250.7" y="1988.25" width="27.6" height="6.9" fill="#7bff7b"/><rect x="1277.7" y="1988.25" width="54.6" height="6.9" fill="#bcff3b"/><rect x="1331.7" y="1988.25" width="27.6" height="6.9" fill="#00e5f7"/><rect x="1358.7" y="1988.25" width="27.6" height="6.9" fill="#0094ff"/><rect x="1385.7" y="1988.25" width="27.6" height="6.9" fill="#7bff7b"/><rect x="1412.7" y="1988.25" width="270.6" height="6.9" fill="#bcff3b"/><rect x="116.7" y="1994.55" width="27.6" height="6.9" fill="#ffd000"/><rect x="143.7" y="1994.55" width="27.6" height="6.9" fill="#efff08"/><rect x="170.7" y="1994.55" width="81.6" height="6.9" fill="#42ffb5"/><rect x="251.7" y="1994.55" width="108.6" height="6.9" fill="#00e5f7"/><rect x="386.7" y="1994.55" width="54.6" height="6.9" fill="#bcff3b"/><rect x="440.7" y="1994.55" width="27.6" height="6.9" fill="#0094ff"/><rect x="494.7" y="1994.55" width="54.6" height="6.9" fill="#bcff3b"/><rect x="548.7" y="1994.55" width="27.6" height="6.9" fill="#00e5f7"/><rect x="575.7" y="1994.55" width="27.6" height="6.9" fill="#bcff3b"/><rect x="602.7" y="1994.55" width="27.6" height="6.9" fill="#efff08"/><rect x="629.7" y="1994.55" width="27.6" height="6.9" fill="#00e5f7"/><rect x="656.7" y="1994.55" width="27.6" height="6.9" fill="#7bff7b"/><rect x="683.7" y="1994.55" width="27.6" height="6.9" fill="#ff8900"/><rect x="710.7" y="1994.55" width="27.6" height="6.9" fill="#ffd000"/><rect x="737.7" y="1994.55" width="108.6" height="6.9" fill="#ff8900"/><rect x="845.7" y="1994.55" width="81.6" height="6.9" fill="#ffd000"/><rect x="926.7" y="1994.55" width="27.6" height="6.9" fill="#efff08"/><rect x="953.7" y="1994.55" width="81.6" height="6.9" fill="#ffd000"/><rect x="1034.7" y="1994.55" width="27.6" height="6.9" fill="#efff08"/><rect x="1061.7" y="1994.55" width="27.6" height="6.9" fill="#ffd000"/><rect x="1088.7" y="1994.55" width="27.6" height="6.9" fill="#efff08"/><rect x="1115.7" y="1994.55" width="27.6" height="6.9" fill="#ffd000"/><rect x="1142.7" y="1994.55" width="54.6" height="6.9" fill="#efff08"/><rect x="1196.7" y="1994.55" width="81.6" height="6.9" fill="#bcff3b"/><rect x="1277.7" y="1994.55" width="54.6" height="6.9" fill="#7bff7b"/><rect x="1331.7" y="1994.55" width="27.6" height="6.9" fill="#bcff3b"/><rect x="1358.7" y="1994.55" width="27.6" height="6.9" fill="#0094ff"/><rect x="1385.7" y="1994.55" width="27.6" height="6.9" fill="#7bff7b"/><rect x="1412.7" y="1994.55" width="27.6" height="6.9" fill="#bcff3b"/><rect x="1439.7" y="1994.55" width="162.6" height="6.9" fill="#efff08"/><rect x="1601.7" y="1994.55" width="27.6" height="6.9" fill="#ffd000"/><rect x="1628.7" y="1994.55" width="27.6" height="6.9" fill="#efff08"/><rect x="1655.7" y="1994.55" width="27.6" height="6.9" fill="#bcff3b"/><rect x="143.7" y="2000.85" width="27.6" height="6.9" fill="#efff08"/><rect x="170.7" y="2000.85" width="27.6" height="6.9" fill="#7bff7b"/><rect x="197.7" y="2000.85" width="27.6" height="6.9" fill="#ffd000"/><rect x="224.7" y="2000.85" width="27.6" height="6.9" fill="#efff08"/><rect x="359.7" y="2000.85" width="27.6" height="6.9" fill="#42ffb5"/><rect x="386.7" y="2000.85" width="27.6" height="6.9" fill="#7bff7b"/><rect x="413.7" y="2000.85" width="27.6" height="6.9" fill="#00e5f7"/><rect x="440.7" y="2000.85" width="27.6" height="6.9" fill="#0094ff"/><rect x="575.7" y="2000.85" width="54.6" height="6.9" fill="#efff08"/><rect x="629.7" y="2000.85" width="27.6" height="6.9" fill="#bcff3b"/><rect x="656.7" y="2000.85" width="27.6" height="6.9" fill="#0094ff"/><rect x="683.7" y="2000.85" width="27.6" height="6.9" fill="#efff08"/><rect x="710.7" y="2000.85" width="27.6" height="6.9" fill="#bcff3b"/><rect x="764.7" y="2000.85" width="27.6" height="6.9" fill="#7bff7b"/><rect x="791.7" y="2000.85" width="81.6" height="6.9" fill="#ffd000"/><rect x="872.7" y="2000.85" width="27.6" height="6.9" fill="#efff08"/><rect x="899.7" y="2000.85" width="27.6" height="6.9" fill="#bcff3b"/><rect x="926.7" y="2000.85" width="27.6" height="6.9" fill="#ffd000"/><rect x="953.7" y="2000.85" width="81.6" height="6.9" fill="#efff08"/><rect x="1034.7" y="2000.85" width="81.6" height="6.9" fill="#bcff3b"/><rect x="1115.7" y="2000.85" width="27.6" height="6.9" fill="#7bff7b"/><rect x="1142.7" y="2000.85" width="27.6" height="6.9" fill="#ffd000"/><rect x="1169.7" y="2000.85" width="27.6" height="6.9" fill="#efff08"/><rect x="1196.7" y="2000.85" width="27.6" height="6.9" fill="#ffd000"/><rect x="1223.7" y="2000.85" width="27.6" height="6.9" fill="#efff08"/><rect x="1250.7" y="2000.85" width="27.6" height="6.9" fill="#bcff3b"/><rect x="1277.7" y="2000.85" width="27.6" height="6.9" fill="#7bff7b"/><rect x="1304.7" y="2000.85" width="27.6" height="6.9" fill="#bcff3b"/><rect x="1331.7" y="2000.85" width="27.6" height="6.9" fill="#efff08"/><rect x="1358.7" y="2000.85" width="27.6" height="6.9" fill="#ffd000"/><rect x="1385.7" y="2000.85" width="27.6" height="6.9" fill="#efff08"/><rect x="1412.7" y="2000.85" width="27.6" height="6.9" fill="#bcff3b"/><rect x="1466.7" y="2000.85" width="27.6" height="6.9" fill="#7bff7b"/><rect x="1493.7" y="2000.85" width="27.6" height="6.9" fill="#bcff3b"/><rect x="1520.7" y="2000.85" width="27.6" height="6.9" fill="#efff08"/><rect x="1547.7" y="2000.85" width="27.6" height="6.9" fill="#ffd000"/><rect x="1574.7" y="2000.85" width="27.6" height="6.9" fill="#efff08"/><rect x="1601.7" y="2000.85" width="27.6" height="6.9" fill="#bcff3b"/><rect x="1628.7" y="2000.85" width="27.6" height="6.9" fill="#efff08"/><rect x="1655.7" y="2000.85" width="27.6" height="6.9" fill="#bcff3b"/><rect x="116.7" y="2007.15" width="27.6" height="6.9" fill="#ffd000"/><rect x="143.7" y="2007.15" width="27.6" height="6.9" fill="#bcff3b"/><rect x="170.7" y="2007.15" width="81.6" height="6.9" fill="#efff08"/><rect x="251.7" y="2007.15" width="108.6" height="6.9" fill="#ffd000"/><rect x="359.7" y="2007.15" width="27.6" height="6.9" fill="#bcff3b"/><rect x="386.7" y="2007.15" width="27.6" height="6.9" fill="#efff08"/><rect x="413.7" y="2007.15" width="135.6" height="6.9" fill="#ffd000"/><rect x="548.7" y="2007.15" width="27.6" height="6.9" fill="#efff08"/><rect x="575.7" y="2007.15" width="27.6" height="6.9" fill="#bcff3b"/><rect x="602.7" y="2007.15" width="162.6" height="6.9" fill="#efff08"/><rect x="764.7" y="2007.15" width="27.6" height="6.9" fill="#ffd000"/><rect x="791.7" y="2007.15" width="54.6" height="6.9" fill="#42ffb5"/><rect x="845.7" y="2007.15" width="27.6" height="6.9" fill="#bcff3b"/><rect x="872.7" y="2007.15" width="27.6" height="6.9" fill="#ff8900"/><rect x="899.7" y="2007.15" width="54.6" height="6.9" fill="#ffd000"/><rect x="953.7" y="2007.15" width="54.6" height="6.9" fill="#ff8900"/><rect x="1007.7" y="2007.15" width="27.6" height="6.9" fill="#ffd000"/><rect x="1061.7" y="2007.15" width="27.6" height="6.9" fill="#bcff3b"/><rect x="1142.7" y="2007.15" width="27.6" height="6.9" fill="#bcff3b"/><rect x="1196.7" y="2007.15" width="27.6" height="6.9" fill="#7bff7b"/><rect x="1223.7" y="2007.15" width="54.6" height="6.9" fill="#bcff3b"/><rect x="1277.7" y="2007.15" width="54.6" height="6.9" fill="#ffd000"/><rect x="1331.7" y="2007.15" width="27.6" height="6.9" fill="#bcff3b"/><rect x="1358.7" y="2007.15" width="54.6" height="6.9" fill="#ffd000"/><rect x="1412.7" y="2007.15" width="27.6" height="6.9" fill="#bcff3b"/><rect x="1439.7" y="2007.15" width="27.6" height="6.9" fill="#ffd000"/><rect x="1466.7" y="2007.15" width="27.6" height="6.9" fill="#efff08"/><rect x="1493.7" y="2007.15" width="27.6" height="6.9" fill="#bcff3b"/><rect x="1547.7" y="2007.15" width="27.6" height="6.9" fill="#bcff3b"/><rect x="1574.7" y="2007.15" width="27.6" height="6.9" fill="#7bff7b"/><rect x="1601.7" y="2007.15" width="81.6" height="6.9" fill="#efff08"/><rect x="116.7" y="2013.45" width="27.6" height="6.9" fill="#ffd000"/><rect x="143.7" y="2013.45" width="27.6" height="6.9" fill="#bcff3b"/><rect x="359.7" y="2013.45" width="27.6" height="6.9" fill="#ffd000"/><rect x="386.7" y="2013.45" width="54.6" height="6.9" fill="#ff8900"/><rect x="440.7" y="2013.45" width="54.6" height="6.9" fill="#ffd000"/><rect x="494.7" y="2013.45" width="27.6" height="6.9" fill="#7bff7b"/><rect x="521.7" y="2013.45" width="27.6" height="6.9" fill="#42ffb5"/><rect x="575.7" y="2013.45" width="54.6" height="6.9" fill="#ffd000"/><rect x="629.7" y="2013.45" width="27.6" height="6.9" fill="#efff08"/><rect x="656.7" y="2013.45" width="27.6" height="6.9" fill="#ffd000"/><rect x="683.7" y="2013.45" width="54.6" height="6.9" fill="#efff08"/><rect x="737.7" y="2013.45" width="27.6" height="6.9" fill="#ff8900"/><rect x="764.7" y="2013.45" width="27.6" height="6.9" fill="#efff08"/><rect x="791.7" y="2013.45" width="54.6" height="6.9" fill="#bcff3b"/><rect x="845.7" y="2013.45" width="27.6" height="6.9" fill="#7bff7b"/><rect x="872.7" y="2013.45" width="27.6" height="6.9" fill="#42ffb5"/><rect x="926.7" y="2013.45" width="27.6" height="6.9" fill="#00e5f7"/><rect x="1007.7" y="2013.45" width="27.6" height="6.9" fill="#ffd000"/><rect x="1034.7" y="2013.45" width="108.6" height="6.9" fill="#ff8900"/><rect x="1169.7" y="2013.45" width="27.6" height="6.9" fill="#ffd000"/><rect x="1223.7" y="2013.45" width="27.6" height="6.9" fill="#bcff3b"/><rect x="1277.7" y="2013.45" width="27.6" height="6.9" fill="#ffd000"/><rect x="1304.7" y="2013.45" width="54.6" height="6.9" fill="#ff8900"/><rect x="1358.7" y="2013.45" width="27.6" height="6.9" fill="#ffd000"/><rect x="1385.7" y="2013.45" width="27.6" height="6.9" fill="#bcff3b"/><rect x="116.7" y="2019.75" width="27.6" height="6.9" fill="#7bff7b"/><rect x="143.7" y="2019.75" width="27.6" height="6.9" fill="#0094ff"/><rect x="386.7" y="2019.75" width="54.6" height="6.9" fill="#7bff7b"/><rect x="440.7" y="2019.75" width="27.6" height="6.9" fill="#42ffb5"/><rect x="467.7" y="2019.75" width="27.6" height="6.9" fill="#7bff7b"/><rect x="494.7" y="2019.75" width="27.6" height="6.9" fill="#42ffb5"/><rect x="575.7" y="2019.75" width="27.6" height="6.9" fill="#7bff7b"/><rect x="602.7" y="2019.75" width="27.6" height="6.9" fill="#efff08"/><rect x="629.7" y="2019.75" width="54.6" height="6.9" fill="#42ffb5"/><rect x="683.7" y="2019.75" width="81.6" height="6.9" fill="#bcff3b"/><rect x="764.7" y="2019.75" width="54.6" height="6.9" fill="#efff08"/><rect x="818.7" y="2019.75" width="27.6" height="6.9" fill="#ffd000"/><rect x="845.7" y="2019.75" width="27.6" height="6.9" fill="#efff08"/><rect x="872.7" y="2019.75" width="27.6" height="6.9" fill="#bcff3b"/><rect x="1034.7" y="2019.75" width="27.6" height="6.9" fill="#ffd000"/><rect x="1142.7" y="2019.75" width="135.6" height="6.9" fill="#ff8900"/><rect x="1277.7" y="2019.75" width="27.6" height="6.9" fill="#ffd000"/><rect x="1331.7" y="2019.75" width="27.6" height="6.9" fill="#ff8900"/><rect x="1358.7" y="2019.75" width="27.6" height="6.9" fill="#ffd000"/><rect x="1385.7" y="2019.75" width="54.6" height="6.9" fill="#ff8900"/><rect x="1466.7" y="2019.75" width="189.6" height="6.9" fill="#ff8900"/><rect x="1655.7" y="2019.75" width="27.6" height="6.9" fill="#ffd000"/><rect x="143.7" y="2026.05" width="27.6" height="6.9" fill="#ffd000"/><rect x="170.7" y="2026.05" width="216.6" height="6.9" fill="#7bff7b"/><rect x="386.7" y="2026.05" width="27.6" height="6.9" fill="#42ffb5"/><rect x="467.7" y="2026.05" width="27.6" height="6.9" fill="#42ffb5"/><rect x="494.7" y="2026.05" width="135.6" height="6.9" fill="#7bff7b"/><rect x="656.7" y="2026.05" width="54.6" height="6.9" fill="#7bff7b"/><rect x="737.7" y="2026.05" width="27.6" height="6.9" fill="#42ffb5"/><rect x="872.7" y="2026.05" width="27.6" height="6.9" fill="#efff08"/><rect x="899.7" y="2026.05" width="27.6" height="6.9" fill="#ffd000"/><rect x="926.7" y="2026.05" width="27.6" height="6.9" fill="#ff8900"/><rect x="953.7" y="2026.05" width="54.6" height="6.9" fill="#ffd000"/><rect x="1007.7" y="2026.05" width="27.6" height="6.9" fill="#bcff3b"/><rect x="1142.7" y="2026.05" width="54.6" height="6.9" fill="#ffd000"/><rect x="1196.7" y="2026.05" width="81.6" height="6.9" fill="#ff8900"/><rect x="1277.7" y="2026.05" width="27.6" height="6.9" fill="#ffd000"/><rect x="1358.7" y="2026.05" width="27.6" height="6.9" fill="#ffd000"/><rect x="1385.7" y="2026.05" width="27.6" height="6.9" fill="#efff08"/><rect x="1412.7" y="2026.05" width="108.6" height="6.9" fill="#ff8900"/><rect x="1520.7" y="2026.05" width="27.6" height="6.9" fill="#efff08"/><rect x="1547.7" y="2026.05" width="135.6" height="6.9" fill="#ff8900"/><rect x="143.7" y="2032.35" width="27.6" height="6.9" fill="#efff08"/><rect x="170.7" y="2032.35" width="27.6" height="6.9" fill="#ffd000"/><rect x="197.7" y="2032.35" width="27.6" height="6.9" fill="#ff8900"/><rect x="224.7" y="2032.35" width="27.6" height="6.9" fill="#ffd000"/><rect x="359.7" y="2032.35" width="81.6" height="6.9" fill="#ff8900"/><rect x="440.7" y="2032.35" width="27.6" height="6.9" fill="#bcff3b"/><rect x="548.7" y="2032.35" width="27.6" height="6.9" fill="#bcff3b"/><rect x="953.7" y="2032.35" width="27.6" height="6.9" fill="#efff08"/><rect x="1007.7" y="2032.35" width="108.6" height="6.9" fill="#ff8900"/><rect x="1115.7" y="2032.35" width="27.6" height="6.9" fill="#ffd000"/><rect x="1142.7" y="2032.35" width="27.6" height="6.9" fill="#ff8900"/><rect x="1169.7" y="2032.35" width="27.6" height="6.9" fill="#ffd000"/><rect x="1223.7" y="2032.35" width="108.6" height="6.9" fill="#ffd000"/><rect x="1331.7" y="2032.35" width="27.6" height="6.9" fill="#ff8900"/><rect x="1358.7" y="2032.35" width="27.6" height="6.9" fill="#ffd000"/><rect x="1385.7" y="2032.35" width="27.6" height="6.9" fill="#ff8900"/><rect x="1412.7" y="2032.35" width="27.6" height="6.9" fill="#ffd000"/><rect x="1466.7" y="2032.35" width="27.6" height="6.9" fill="#efff08"/><rect x="1520.7" y="2032.35" width="27.6" height="6.9" fill="#ff8900"/><rect x="116.7" y="2038.65" width="27.6" height="6.9" fill="#ff8900"/><rect x="143.7" y="2038.65" width="27.6" height="6.9" fill="#efff08"/><rect x="170.7" y="2038.65" width="27.6" height="6.9" fill="#ff8900"/><rect x="224.7" y="2038.65" width="27.6" height="6.9" fill="#ffd000"/><rect x="251.7" y="2038.65" width="108.6" height="6.9" fill="#ff8900"/><rect x="359.7" y="2038.65" width="27.6" height="6.9" fill="#efff08"/><rect x="440.7" y="2038.65" width="135.6" height="6.9" fill="#ff8900"/><rect x="575.7" y="2038.65" width="54.6" height="6.9" fill="#efff08"/><rect x="629.7" y="2038.65" width="54.6" height="6.9" fill="#ff8900"/><rect x="683.7" y="2038.65" width="54.6" height="6.9" fill="#ffd000"/><rect x="872.7" y="2038.65" width="27.6" height="6.9" fill="#efff08"/><rect x="953.7" y="2038.65" width="27.6" height="6.9" fill="#efff08"/><rect x="980.7" y="2038.65" width="27.6" height="6.9" fill="#ffd000"/><rect x="1007.7" y="2038.65" width="135.6" height="6.9" fill="#ff8900"/><rect x="1142.7" y="2038.65" width="54.6" height="6.9" fill="#ffd000"/><rect x="1196.7" y="2038.65" width="27.6" height="6.9" fill="#efff08"/><rect x="1223.7" y="2038.65" width="54.6" height="6.9" fill="#ffd000"/><rect x="1304.7" y="2038.65" width="27.6" height="6.9" fill="#efff08"/><rect x="1331.7" y="2038.65" width="27.6" height="6.9" fill="#ff8900"/><rect x="1358.7" y="2038.65" width="27.6" height="6.9" fill="#efff08"/><rect x="1412.7" y="2038.65" width="27.6" height="6.9" fill="#ffd000"/><rect x="1520.7" y="2038.65" width="27.6" height="6.9" fill="#ffd000"/><rect x="116.7" y="2044.95" width="54.6" height="6.9" fill="#efff08"/><rect x="521.7" y="2044.95" width="27.6" height="6.9" fill="#efff08"/><rect x="575.7" y="2044.95" width="54.6" height="6.9" fill="#ff8900"/><rect x="629.7" y="2044.95" width="54.6" height="6.9" fill="#efff08"/><rect x="683.7" y="2044.95" width="27.6" height="6.9" fill="#bcff3b"/><rect x="710.7" y="2044.95" width="27.6" height="6.9" fill="#ffd000"/><rect x="737.7" y="2044.95" width="54.6" height="6.9" fill="#ff8900"/><rect x="791.7" y="2044.95" width="27.6" height="6.9" fill="#ffd000"/><rect x="818.7" y="2044.95" width="162.6" height="6.9" fill="#ff8900"/><rect x="980.7" y="2044.95" width="27.6" height="6.9" fill="#ffd000"/><rect x="1142.7" y="2044.95" width="27.6" height="6.9" fill="#efff08"/><rect x="1169.7" y="2044.95" width="54.6" height="6.9" fill="#ffd000"/><rect x="1223.7" y="2044.95" width="27.6" height="6.9" fill="#efff08"/><rect x="1385.7" y="2044.95" width="27.6" height="6.9" fill="#ffd000"/><rect x="1412.7" y="2044.95" width="27.6" height="6.9" fill="#efff08"/><rect x="1466.7" y="2044.95" width="27.6" height="6.9" fill="#ffd000"/><rect x="1493.7" y="2044.95" width="135.6" height="6.9" fill="#ff8900"/><rect x="1628.7" y="2044.95" width="27.6" height="6.9" fill="#ffd000"/><rect x="1655.7" y="2044.95" width="27.6" height="6.9" fill="#ff8900"/><rect x="602.7" y="2051.25" width="27.6" height="6.9" fill="#efff08"/><rect x="683.7" y="2051.25" width="27.6" height="6.9" fill="#ffd000"/><rect x="791.7" y="2051.25" width="27.6" height="6.9" fill="#ffd000"/><rect x="1412.7" y="2051.25" width="27.6" height="6.9" fill="#ffd000"/><rect x="1439.7" y="2051.25" width="54.6" height="6.9" fill="#ff8900"/><rect x="1628.7" y="2051.25" width="27.6" height="6.9" fill="#ffd000"/></g><rect x="117" y="1872" width="1566" height="189" fill="none" stroke="#000" stroke-width="2"/><line x1="171.5" y1="2061" x2="171.5" y2="2052.67" stroke="#000" stroke-width="1"/><line x1="171.5" y1="1872" x2="171.5" y2="1880.33" stroke="#000" stroke-width="1"/><text x="171" y="2083" font-size="16.67" text-anchor="middle">05/16 17:40</text><line x1="441.5" y1="2061" x2="441.5" y2="2052.67" stroke="#000" stroke-width="1"/><line x1="441.5" y1="1872" x2="441.5" y2="1880.33" stroke="#000" stroke-width="1"/><text x="441" y="2083" font-size="16.67" text-anchor="middle">05/16 17:50</text><line x1="711.5" y1="2061" x2="711.5" y2="2052.67" stroke="#000" stroke-width="1"/><line x1="711.5" y1="1872" x2="711.5" y2="1880.33" stroke="#000" stroke-width="1"/><text x="711" y="2083" font-size="16.67" text-anchor="middle">05/16 18:00</text><line x1="981.5" y1="2061" x2="981.5" y2="2052.67" stroke="#000" stroke-width="1"/><line x1="981.5" y1="1872" x2="981.5" y2="1880.33" stroke="#000" stroke-width="1"/><text x="981" y="2083" font-size="16.67" text-anchor="middle">05/16 18:10</text><line x1="1251.5" y1="2061" x2="1251.5" y2="2052.67" stroke="#000" stroke-width="1"/><line x1="1251.5" y1="1872" x2="1251.5" y2="1880.33" stroke="#000" stroke-width="1"/><text x="1251" y="2083" font-size="16.67" text-anchor="middle">05/16 18:20</text><line x1="1521.5" y1="2061" x2="1521.5" y2="2052.67" stroke="#000" stroke-width="1"/><line x1="1521.5" y1="1872" x2="1521.5" y2="1880.33" stroke="#000" stroke-width="1"/><text x="1521" y="2083" font-size="16.67" text-anchor="middle">05/16 18:30</text><text x="108.2" y="2065.5" font-size="16.67" text-anchor="end">0</text><line x1="117" y1="1998.5" x2="125.33" y2="1998.5" stroke="#000" stroke-width="1"/><line x1="1683" y1="1998.5" x2="1674.67" y2="1998.5" stroke="#000" stroke-width="1"/><text x="108.2" y="2002.5" font-size="16.67" text-anchor="end">60</text><line x1="117" y1="1935.5" x2="125.33" y2="1935.5" stroke="#000" stroke-width="1"/><line x1="1683" y1="1935.5" x2="1674.67" y2="1935.5" stroke="#000" stroke-width="1"/><text x="108.2" y="1939.5" font-size="16.67" text-anchor="end">120</text><text x="108.2" y="1876.5" font-size="16.67" text-anchor="end">180</text><text x="900" y="1862" font-size="23.3" text-anchor="middle" textLength="667.7" lengthAdjust="spacing">Suprathermal Electrons Pitch Angle Distribution (94.02eV)</text><text x="61.3" y="1967.1" font-size="16.67" text-anchor="middle" transform="rotate(-90 61.3 1967.1)">pitch angle (deg)</text><defs><linearGradient id="jetg" x1="0" y1="0" x2="0" y2="1"><stop offset="0" stop-color="#800000"/><stop offset="0.05" stop-color="#b90000"/><stop offset="0.1" stop-color="#f30900"/><stop offset="0.15" stop-color="#ff3900"/><stop offset="0.2" stop-color="#ff6800"/><stop offset="0.25" stop-color="#ff9700"/><stop offset="0.3" stop-color="#ffc600"/><stop offset="0.35" stop-color="#f7f600"/><stop offset="0.4" stop-color="#ceff29"/><stop offset="0.45" stop-color="#a5ff52"/><stop offset="0.5" stop-color="#7bff7b"/><stop offset="0.55" stop-color="#52ffa5"/><stop offset="0.6" stop-color="#29ffce"/><stop offset="0.65" stop-color="#00e5f7"/><stop offset="0.7" stop-color="#00b3ff"/><stop offset="0.75" stop-color="#0080ff"/><stop offset="0.8" stop-color="#004cff"/><stop offset="0.85" stop-color="#001aff"/><stop offset="0.9" stop-color="#0000f3"/><stop offset="0.95" stop-color="#0000b9"/><stop offset="1" stop-color="#000080"/></linearGradient></defs><rect x="1692" y="1872" width="9" height="189" fill="url(#jetg)" stroke="#000" stroke-width="2"/><text x="1710" y="2066" font-size="16.67" text-anchor="start">10<tspan font-size="11.7" dy="-7.5">-31</tspan></text><line x1="1696.8" y1="2051.55" x2="1701" y2="2051.55" stroke="#000" stroke-width="1.04"/><line x1="1696.8" y1="2042.1" x2="1701" y2="2042.1" stroke="#000" stroke-width="1.04"/><line x1="1696.8" y1="2032.65" x2="1701" y2="2032.65" stroke="#000" stroke-width="1.04"/><line x1="1692" y1="2023.2" x2="1701" y2="2023.2" stroke="#000" stroke-width="1.04"/><text x="1710" y="2028.2" font-size="16.67" text-anchor="start">10<tspan font-size="11.7" dy="-7.5">-30</tspan></text><line x1="1696.8" y1="2013.75" x2="1701" y2="2013.75" stroke="#000" stroke-width="1.04"/><line x1="1696.8" y1="2004.3" x2="1701" y2="2004.3" stroke="#000" stroke-width="1.04"/><line x1="1696.8" y1="1994.85" x2="1701" y2="1994.85" stroke="#000" stroke-width="1.04"/><line x1="1692" y1="1985.4" x2="1701" y2="1985.4" stroke="#000" stroke-width="1.04"/><text x="1710" y="1990.4" font-size="16.67" text-anchor="start">10<tspan font-size="11.7" dy="-7.5">-29</tspan></text><line x1="1696.8" y1="1975.95" x2="1701" y2="1975.95" stroke="#000" stroke-width="1.04"/><line x1="1696.8" y1="1966.5" x2="1701" y2="1966.5" stroke="#000" stroke-width="1.04"/><line x1="1696.8" y1="1957.05" x2="1701" y2="1957.05" stroke="#000" stroke-width="1.04"/><line x1="1692" y1="1947.6" x2="1701" y2="1947.6" stroke="#000" stroke-width="1.04"/><text x="1710" y="1952.6" font-size="16.67" text-anchor="start">10<tspan font-size="11.7" dy="-7.5">-28</tspan></text><line x1="1696.8" y1="1938.15" x2="1701" y2="1938.15" stroke="#000" stroke-width="1.04"/><line x1="1696.8" y1="1928.7" x2="1701" y2="1928.7" stroke="#000" stroke-width="1.04"/><line x1="1696.8" y1="1919.25" x2="1701" y2="1919.25" stroke="#000" stroke-width="1.04"/><line x1="1692" y1="1909.8" x2="1701" y2="1909.8" stroke="#000" stroke-width="1.04"/><text x="1710" y="1914.8" font-size="16.67" text-anchor="start">10<tspan font-size="11.7" dy="-7.5">-27</tspan></text><line x1="1696.8" y1="1900.35" x2="1701" y2="1900.35" stroke="#000" stroke-width="1.04"/><line x1="1696.8" y1="1890.9" x2="1701" y2="1890.9" stroke="#000" stroke-width="1.04"/><line x1="1696.8" y1="1881.45" x2="1701" y2="1881.45" stroke="#000" stroke-width="1.04"/><text x="1710" y="1877" font-size="16.67" text-anchor="start">10<tspan font-size="11.7" dy="-7.5">-26</tspan></text><clipPath id="c8"><rect x="117" y="1305" width="1566" height="189"/></clipPath><g clip-path="url(#c8)"><polyline points="117,1469.67 144,1458.31 171,1461 198,1461 225,1460.7 252,1461.3 279,1462.2 306,1461.9 333,1462.2 360,1464.29 387,1467.88 414,1468.48 441,1466.98 468,1466.68 495,1465.49 522,1464.29 549,1463.69 576,1464.89 603,1463.99 630,1462.5 657,1466.08 684,1466.38 711,1465.49 738,1467.58 765,1470.57 792,1467.28 819,1468.48 846,1472.96 873,1473.26 900,1474.16 927,1473.56 954,1474.16 981,1473.86 1008,1472.96 1035,1472.66 1062,1472.36 1089,1472.96 1116,1472.66 1143,1474.16 1170,1476.25 1197,1477.44 1224,1479.24 1251,1483.42 1278,1484.02 1305,1478.94 1332,1478.34 1359,1478.34 1386,1476.25 1413,1472.36 1440,1471.17 1467,1470.57 1494,1469.07 1521,1469.97 1548,1469.07 1575,1469.67 1602,1467.58 1629,1467.58 1656,1467.28 1683,1469.97" fill="none" stroke="#f00" stroke-width="2.08" stroke-linejoin="round"/><polyline points="117,1344.11 144,1345.31 171,1347.7 198,1348.89 225,1346.2 252,1344.41 279,1343.21 306,1345.61 333,1346.8 360,1352.18 387,1355.77 414,1355.77 441,1349.79 468,1346.8 495,1342.62 522,1343.21 549,1345.9 576,1338.13 603,1336.94 630,1344.41 657,1345.31 684,1339.63 711,1344.11 738,1338.73 765,1338.43 792,1332.75 819,1334.54 846,1336.34 873,1335.14 900,1334.84 927,1334.84 954,1335.14 981,1333.95 1008,1334.54 1035,1333.05 1062,1333.95 1089,1333.05 1116,1330.66 1143,1330.96 1170,1332.15 1197,1332.45 1224,1336.34 1251,1343.51 1278,1348 1305,1336.34 1332,1337.23 1359,1352.78 1386,1340.22 1413,1327.67 1440,1325.58 1467,1326.17 1494,1329.16 1521,1331.85 1548,1330.06 1575,1330.66 1602,1329.16 1629,1328.27 1656,1327.97 1683,1335.74" fill="none" stroke="#008000" stroke-width="2.08" stroke-linejoin="round"/><polyline points="117,1436.49 144,1452.03 171,1451.14 198,1452.33 225,1450.54 252,1448.45 279,1446.35 306,1448.74 333,1447.55 360,1446.95 387,1446.65 414,1445.16 441,1442.77 468,1441.87 495,1443.06 522,1446.95 549,1449.34 576,1440.07 603,1437.38 630,1444.86 657,1441.87 684,1435.59 711,1440.97 738,1438.28 765,1434.1 792,1432.9 819,1432 846,1423.63 873,1419.15 900,1417.35 927,1418.55 954,1416.76 981,1412.57 1008,1409.58 1035,1403.6 1062,1405.4 1089,1403.9 1116,1402.71 1143,1395.53 1170,1390.45 1197,1387.16 1224,1388.36 1251,1392.24 1278,1402.11 1305,1401.21 1332,1403 1359,1416.76 1386,1403.6 1413,1385.07 1440,1379.69 1467,1379.99 1494,1388.36 1521,1391.35 1548,1386.26 1575,1385.37 1602,1384.17 1629,1383.27 1656,1385.07 1683,1370.12" fill="none" stroke="#00f" stroke-width="2.08" stroke-linejoin="round"/><line x1="117" y1="1389.5" x2="1683" y2="1389.5" stroke="#000" stroke-width="1" stroke-dasharray="12.5 12.5"/></g><rect x="117" y="1305" width="1566" height="189" fill="none" stroke="#000" stroke-width="2"/><line x1="171.5" y1="1494" x2="171.5" y2="1485.67" stroke="#000" stroke-width="1"/><line x1="171.5" y1="1305" x2="171.5" y2="1313.33" stroke="#000" stroke-width="1"/><text x="171" y="1516" font-size="16.67" text-anchor="middle">05/16 17:40</text><line x1="441.5" y1="1494" x2="441.5" y2="1485.67" stroke="#000" stroke-width="1"/><line x1="441.5" y1="1305" x2="441.5" y2="1313.33" stroke="#000" stroke-width="1"/><text x="441" y="1516" font-size="16.67" text-anchor="middle">05/16 17:50</text><line x1="711.5" y1="1494" x2="711.5" y2="1485.67" stroke="#000" stroke-width="1"/><line x1="711.5" y1="1305" x2="711.5" y2="1313.33" stroke="#000" stroke-width="1"/><text x="711" y="1516" font-size="16.67" text-anchor="middle">05/16 18:00</text><line x1="981.5" y1="1494" x2="981.5" y2="1485.67" stroke="#000" stroke-width="1"/><line x1="981.5" y1="1305" x2="981.5" y2="1313.33" stroke="#000" stroke-width="1"/><text x="981" y="1516" font-size="16.67" text-anchor="middle">05/16 18:10</text><line x1="1251.5" y1="1494" x2="1251.5" y2="1485.67" stroke="#000" stroke-width="1"/><line x1="1251.5" y1="1305" x2="1251.5" y2="1313.33" stroke="#000" stroke-width="1"/><text x="1251" y="1516" font-size="16.67" text-anchor="middle">05/16 18:20</text><line x1="1521.5" y1="1494" x2="1521.5" y2="1485.67" stroke="#000" stroke-width="1"/><line x1="1521.5" y1="1305" x2="1521.5" y2="1313.33" stroke="#000" stroke-width="1"/><text x="1521" y="1516" font-size="16.67" text-anchor="middle">05/16 18:30</text><text x="108.2" y="1498.5" font-size="16.67" text-anchor="end">−10</text><line x1="117" y1="1473.5" x2="125.33" y2="1473.5" stroke="#000" stroke-width="1"/><line x1="1683" y1="1473.5" x2="1674.67" y2="1473.5" stroke="#000" stroke-width="1"/><text x="108.2" y="1477.5" font-size="16.67" text-anchor="end">−8</text><line x1="117" y1="1452.5" x2="125.33" y2="1452.5" stroke="#000" stroke-width="1"/><line x1="1683" y1="1452.5" x2="1674.67" y2="1452.5" stroke="#000" stroke-width="1"/><text x="108.2" y="1456.5" font-size="16.67" text-anchor="end">−6</text><line x1="117" y1="1431.5" x2="125.33" y2="1431.5" stroke="#000" stroke-width="1"/><line x1="1683" y1="1431.5" x2="1674.67" y2="1431.5" stroke="#000" stroke-width="1"/><text x="108.2" y="1435.5" font-size="16.67" text-anchor="end">−4</text><line x1="117" y1="1410.5" x2="125.33" y2="1410.5" stroke="#000" stroke-width="1"/><line x1="1683" y1="1410.5" x2="1674.67" y2="1410.5" stroke="#000" stroke-width="1"/><text x="108.2" y="1414.5" font-size="16.67" text-anchor="end">−2</text><line x1="117" y1="1389.5" x2="125.33" y2="1389.5" stroke="#000" stroke-width="1"/><line x1="1683" y1="1389.5" x2="1674.67" y2="1389.5" stroke="#000" stroke-width="1"/><text x="108.2" y="1393.5" font-size="16.67" text-anchor="end">0</text><line x1="117" y1="1368.5" x2="125.33" y2="1368.5" stroke="#000" stroke-width="1"/><line x1="1683" y1="1368.5" x2="1674.67" y2="1368.5" stroke="#000" stroke-width="1"/><text x="108.2" y="1372.5" font-size="16.67" text-anchor="end">2</text><line x1="117" y1="1347.5" x2="125.33" y2="1347.5" stroke="#000" stroke-width="1"/><line x1="1683" y1="1347.5" x2="1674.67" y2="1347.5" stroke="#000" stroke-width="1"/><text x="108.2" y="1351.5" font-size="16.67" text-anchor="end">4</text><line x1="117" y1="1326.5" x2="125.33" y2="1326.5" stroke="#000" stroke-width="1"/><line x1="1683" y1="1326.5" x2="1674.67" y2="1326.5" stroke="#000" stroke-width="1"/><text x="108.2" y="1330.5" font-size="16.67" text-anchor="end">6</text><text x="108.2" y="1309.5" font-size="16.67" text-anchor="end">8</text><text x="900" y="1295" font-size="23.3" text-anchor="middle" textLength="317.5" lengthAdjust="spacing">Magnetic Field (GSE Frame)</text><text x="59.9" y="1401.9" font-size="16.67" text-anchor="middle" transform="rotate(-90 59.9 1401.9)">B(nT)</text><rect x="1605" y="1312" width="71" height="72" fill="#fff" stroke="#000" stroke-width="2"/><line x1="1614" y1="1325" x2="1636.3" y2="1325" stroke="#f00" stroke-width="2.08"/><text x="1652.3" y="1330" font-size="15.4" textLength="18.07" lengthAdjust="spacingAndGlyphs">Bx</text><line x1="1614" y1="1346.6" x2="1636.3" y2="1346.6" stroke="#008000" stroke-width="2.08"/><text x="1652.3" y="1351.6" font-size="15.4" textLength="18.07" lengthAdjust="spacingAndGlyphs">By</text><line x1="1614" y1="1369.8" x2="1636.3" y2="1369.8" stroke="#00f" stroke-width="2.08"/><text x="1652.3" y="1374.8" font-size="15.4" textLength="17.13" lengthAdjust="spacingAndGlyphs">Bz</text><clipPath id="c9"><rect x="117" y="1589" width="1566" height="189"/></clipPath><g clip-path="url(#c9)"><polyline points="117,1690.99 144,1683.82 171,1686.51 198,1686.81 225,1685.91 252,1685.31 279,1685.61 306,1686.21 333,1687.11 360,1690.4 387,1693.09 414,1693.68 441,1690.99 468,1689.5 495,1687.11 522,1686.51 549,1687.41 576,1685.91 603,1685.61 630,1686.81 657,1688.9 684,1688 711,1688.3 738,1687.41 765,1689.5 792,1685.91 819,1687.41 846,1690.99 873,1691.29 900,1691.89 927,1691.29 954,1692.19 981,1691.89 1008,1692.79 1035,1692.79 1062,1693.09 1089,1693.09 1116,1692.19 1143,1693.98 1170,1695.78 1197,1696.97 1224,1699.07 1251,1703.25 1278,1703.85 1305,1696.97 1332,1696.97 1359,1700.86 1386,1696.97 1413,1693.39 1440,1693.09 1467,1692.79 1494,1691.89 1521,1693.39 1548,1693.09 1575,1693.39 1602,1691.89 1629,1692.79 1656,1691.89 1683,1697.87" fill="none" stroke="#f00" stroke-width="2.08" stroke-linejoin="round"/><polyline points="117,1693.68 144,1702.95 171,1703.25 198,1704.15 225,1702.65 252,1700.86 279,1699.07 306,1701.16 333,1700.86 360,1701.76 387,1702.35 414,1701.46 441,1698.77 468,1697.57 495,1696.97 522,1699.66 549,1701.46 576,1694.58 603,1692.79 630,1698.77 657,1696.97 684,1692.19 711,1696.38 738,1693.68 765,1690.99 792,1688.9 819,1688.6 846,1684.72 873,1682.03 900,1680.83 927,1681.73 954,1680.53 981,1678.44 1008,1676.94 1035,1672.76 1062,1674.25 1089,1673.06 1116,1671.86 1143,1668.27 1170,1665.58 1197,1663.79 1224,1665.58 1251,1669.17 1278,1675.75 1305,1672.16 1332,1673.36 1359,1685.01 1386,1674.55 1413,1661.7 1440,1658.11 1467,1658.41 1494,1663.79 1521,1666.18 1548,1662.89 1575,1662.59 1602,1661.7 1629,1660.8 1656,1661.7 1683,1655.12" fill="none" stroke="#008000" stroke-width="2.08" stroke-linejoin="round"/><polyline points="117,1743.91 144,1741.52 171,1741.52 198,1741.22 225,1741.82 252,1742.41 279,1743.01 306,1742.41 333,1741.82 360,1740.32 387,1740.92 414,1740.92 441,1741.82 468,1742.71 495,1743.91 522,1744.21 549,1743.31 576,1744.81 603,1744.21 630,1742.12 657,1743.31 684,1743.91 711,1743.01 738,1745.4 765,1746 792,1746.3 819,1746 846,1745.7 873,1745.1 900,1745.4 927,1745.4 954,1745.1 981,1744.51 1008,1743.31 1035,1742.71 1062,1742.41 1089,1742.71 1116,1743.01 1143,1742.12 1170,1741.52 1197,1741.22 1224,1740.62 1251,1740.62 1278,1741.22 1305,1743.31 1332,1743.31 1359,1740.02 1386,1740.92 1413,1740.02 1440,1739.42 1467,1739.13 1494,1738.83 1521,1739.13 1548,1738.23 1575,1738.23 1602,1737.33 1629,1736.43 1656,1737.33 1683,1732.85" fill="none" stroke="#00f" stroke-width="2.08" stroke-linejoin="round"/><polyline points="117,1620.74 144,1620.74 171,1620.44 198,1620.44 225,1620.44 252,1620.44 279,1620.44 306,1620.44 333,1621.04 360,1621.64 387,1620.74 414,1621.04 441,1621.34 468,1620.74 495,1619.84 522,1619.25 549,1619.25 576,1619.84 603,1620.74 630,1621.64 657,1620.74 684,1621.04 711,1621.04 738,1619.54 765,1619.25 792,1619.25 819,1619.54 846,1619.84 873,1620.44 900,1620.14 927,1620.14 954,1620.14 981,1620.44 1008,1621.34 1035,1621.64 1062,1621.94 1089,1621.64 1116,1621.04 1143,1621.04 1170,1620.44 1197,1620.14 1224,1620.44 1251,1620.14 1278,1620.44 1305,1620.14 1332,1620.74 1359,1622.53 1386,1622.23 1413,1620.74 1440,1620.14 1467,1620.74 1494,1622.83 1521,1623.43 1548,1623.13 1575,1623.13 1602,1623.73 1629,1623.73 1656,1623.73 1683,1621.94" fill="none" stroke="#000" stroke-width="2.08" stroke-linejoin="round"/><line x1="117" y1="1683.5" x2="1683" y2="1683.5" stroke="#000" stroke-width="1" stroke-dasharray="12.5 12.5"/></g><rect x="117" y="1589" width="1566" height="189" fill="none" stroke="#000" stroke-width="2"/><line x1="171.5" y1="1778" x2="171.5" y2="1769.67" stroke="#000" stroke-width="1"/><line x1="171.5" y1="1589" x2="171.5" y2="1597.33" stroke="#000" stroke-width="1"/><text x="171" y="1800" font-size="16.67" text-anchor="middle">05/16 17:40</text><line x1="441.5" y1="1778" x2="441.5" y2="1769.67" stroke="#000" stroke-width="1"/><line x1="441.5" y1="1589" x2="441.5" y2="1597.33" stroke="#000" stroke-width="1"/><text x="441" y="1800" font-size="16.67" text-anchor="middle">05/16 17:50</text><line x1="711.5" y1="1778" x2="711.5" y2="1769.67" stroke="#000" stroke-width="1"/><line x1="711.5" y1="1589" x2="711.5" y2="1597.33" stroke="#000" stroke-width="1"/><text x="711" y="1800" font-size="16.67" text-anchor="middle">05/16 18:00</text><line x1="981.5" y1="1778" x2="981.5" y2="1769.67" stroke="#000" stroke-width="1"/><line x1="981.5" y1="1589" x2="981.5" y2="1597.33" stroke="#000" stroke-width="1"/><text x="981" y="1800" font-size="16.67" text-anchor="middle">05/16 18:10</text><line x1="1251.5" y1="1778" x2="1251.5" y2="1769.67" stroke="#000" stroke-width="1"/><line x1="1251.5" y1="1589" x2="1251.5" y2="1597.33" stroke="#000" stroke-width="1"/><text x="1251" y="1800" font-size="16.67" text-anchor="middle">05/16 18:20</text><line x1="1521.5" y1="1778" x2="1521.5" y2="1769.67" stroke="#000" stroke-width="1"/><line x1="1521.5" y1="1589" x2="1521.5" y2="1597.33" stroke="#000" stroke-width="1"/><text x="1521" y="1800" font-size="16.67" text-anchor="middle">05/16 18:30</text><text x="108.2" y="1782.5" font-size="16.67" text-anchor="end">−15</text><line x1="117" y1="1746.5" x2="125.33" y2="1746.5" stroke="#000" stroke-width="1"/><line x1="1683" y1="1746.5" x2="1674.67" y2="1746.5" stroke="#000" stroke-width="1"/><text x="108.2" y="1751" font-size="16.67" text-anchor="end">−10</text><line x1="117" y1="1715.5" x2="125.33" y2="1715.5" stroke="#000" stroke-width="1"/><line x1="1683" y1="1715.5" x2="1674.67" y2="1715.5" stroke="#000" stroke-width="1"/><text x="108.2" y="1719.5" font-size="16.67" text-anchor="end">−5</text><line x1="117" y1="1683.5" x2="125.33" y2="1683.5" stroke="#000" stroke-width="1"/><line x1="1683" y1="1683.5" x2="1674.67" y2="1683.5" stroke="#000" stroke-width="1"/><text x="108.2" y="1688" font-size="16.67" text-anchor="end">0</text><line x1="117" y1="1652.5" x2="125.33" y2="1652.5" stroke="#000" stroke-width="1"/><line x1="1683" y1="1652.5" x2="1674.67" y2="1652.5" stroke="#000" stroke-width="1"/><text x="108.2" y="1656.5" font-size="16.67" text-anchor="end">5</text><line x1="117" y1="1620.5" x2="125.33" y2="1620.5" stroke="#000" stroke-width="1"/><line x1="1683" y1="1620.5" x2="1674.67" y2="1620.5" stroke="#000" stroke-width="1"/><text x="108.2" y="1625" font-size="16.67" text-anchor="end">10</text><text x="108.2" y="1593.5" font-size="16.67" text-anchor="end">15</text><text x="900" y="1579" font-size="23.3" text-anchor="middle" textLength="384.1" lengthAdjust="spacing">Magnetic Field (Flux Rope Frame)</text><text x="59.9" y="1685.9" font-size="16.67" text-anchor="middle" transform="rotate(-90 59.9 1685.9)">B(nT)</text><rect x="1601" y="1596" width="75" height="94" fill="#fff" stroke="#000" stroke-width="2"/><line x1="1610" y1="1608.8" x2="1631.8" y2="1608.8" stroke="#f00" stroke-width="2.08"/><text x="1647.8" y="1613.8" font-size="15.4" textLength="21.96" lengthAdjust="spacingAndGlyphs">Bx'</text><line x1="1610" y1="1630.9" x2="1631.8" y2="1630.9" stroke="#008000" stroke-width="2.08"/><text x="1647.8" y="1635.9" font-size="15.4" textLength="21.96" lengthAdjust="spacingAndGlyphs">By'</text><line x1="1610" y1="1653" x2="1631.8" y2="1653" stroke="#00f" stroke-width="2.08"/><text x="1647.8" y="1658" font-size="15.4" textLength="21.01" lengthAdjust="spacingAndGlyphs">Bz'</text><line x1="1610" y1="1675.1" x2="1631.8" y2="1675.1" stroke="#000" stroke-width="2.08"/><text x="1647.8" y="1680.1" font-size="15.4" textLength="19.23" lengthAdjust="spacingAndGlyphs">|B|</text><clipPath id="c10"><rect x="117" y="2156" width="1566" height="189"/></clipPath><g clip-path="url(#c10)"><polyline points="117,2331.33 144,2334.02 171,2329.24 225,2330.43 279,2329.24 306,2330.43 360,2330.13 414,2328.94 441,2328.64 495,2329.84 522,2330.73 549,2331.63 603,2331.93 630,2331.33 684,2330.13 711,2331.63 765,2331.33 819,2332.53 846,2331.33 900,2331.33 954,2331.33 981,2331.63 1035,2332.23 1089,2332.53 1116,2331.93 1170,2330.43 1197,2331.33 1251,2330.13 1305,2330.13 1332,2329.84 1386,2330.73 1440,2332.23 1494,2335.22 1521,2334.62 1575,2336.11 1602,2336.71 1656,2337.61 1683,2336.71" fill="none" stroke="#f00" stroke-width="2.08" stroke-linejoin="round"/><polyline points="117,2166.01 144,2165.41 171,2163.62 225,2162.72 279,2163.92 306,2162.42 360,2161.23 414,2160.03 441,2162.42 495,2163.62 522,2161.82 549,2160.03 603,2164.81 630,2162.42 684,2161.52 711,2163.92 765,2162.42 819,2162.12 846,2162.72 900,2160.93 954,2162.72 981,2161.52 1035,2165.11 1089,2163.32 1116,2162.72 1170,2162.12 1197,2159.73 1251,2159.73 1305,2159.43 1332,2156.74 1386,2162.42 1440,2164.51 1494,2160.93 1521,2159.73 1575,2156.14 1602,2159.73 1656,2159.73 1683,2159.73" fill="none" stroke="#008000" stroke-width="2.08" stroke-linejoin="round"/><polyline points="117,2163.62 144,2161.23 171,2163.02 225,2161.52 279,2164.81 306,2160.63 360,2160.63 414,2163.02 441,2164.81 495,2160.93 522,2159.43 549,2158.54 603,2166.91 630,2162.12 684,2161.23 711,2166.31 765,2165.11 819,2163.62 846,2163.92 900,2165.71 954,2163.92 981,2164.51 1035,2166.31 1089,2168.1 1116,2166.01 1170,2169.6 1197,2169.6 1251,2167.8 1305,2165.41 1332,2158.83 1386,2169.9 1440,2172.59 1494,2172.59 1521,2168.4 1575,2168.4 1602,2173.18 1656,2173.78 1683,2173.48" fill="none" stroke="#00f" stroke-width="2.08" stroke-linejoin="round"/></g><rect x="117" y="2156" width="1566" height="189" fill="none" stroke="#000" stroke-width="2"/><line x1="171.5" y1="2345" x2="171.5" y2="2336.67" stroke="#000" stroke-width="1"/><line x1="171.5" y1="2156" x2="171.5" y2="2164.33" stroke="#000" stroke-width="1"/><text x="171" y="2367" font-size="16.67" text-anchor="middle">05/16 17:40</text><line x1="441.5" y1="2345" x2="441.5" y2="2336.67" stroke="#000" stroke-width="1"/><line x1="441.5" y1="2156" x2="441.5" y2="2164.33" stroke="#000" stroke-width="1"/><text x="441" y="2367" font-size="16.67" text-anchor="middle">05/16 17:50</text><line x1="711.5" y1="2345" x2="711.5" y2="2336.67" stroke="#000" stroke-width="1"/><line x1="711.5" y1="2156" x2="711.5" y2="2164.33" stroke="#000" stroke-width="1"/><text x="711" y="2367" font-size="16.67" text-anchor="middle">05/16 18:00</text><line x1="981.5" y1="2345" x2="981.5" y2="2336.67" stroke="#000" stroke-width="1"/><line x1="981.5" y1="2156" x2="981.5" y2="2164.33" stroke="#000" stroke-width="1"/><text x="981" y="2367" font-size="16.67" text-anchor="middle">05/16 18:10</text><line x1="1251.5" y1="2345" x2="1251.5" y2="2336.67" stroke="#000" stroke-width="1"/><line x1="1251.5" y1="2156" x2="1251.5" y2="2164.33" stroke="#000" stroke-width="1"/><text x="1251" y="2367" font-size="16.67" text-anchor="middle">05/16 18:20</text><line x1="1521.5" y1="2345" x2="1521.5" y2="2336.67" stroke="#000" stroke-width="1"/><line x1="1521.5" y1="2156" x2="1521.5" y2="2164.33" stroke="#000" stroke-width="1"/><text x="1521" y="2367" font-size="16.67" text-anchor="middle">05/16 18:30</text><text x="108.2" y="2349.5" font-size="16.67" text-anchor="end">−500</text><line x1="117" y1="2307.5" x2="125.33" y2="2307.5" stroke="#000" stroke-width="1"/><line x1="1683" y1="2307.5" x2="1674.67" y2="2307.5" stroke="#000" stroke-width="1"/><text x="108.2" y="2311.7" font-size="16.67" text-anchor="end">−400</text><line x1="117" y1="2269.5" x2="125.33" y2="2269.5" stroke="#000" stroke-width="1"/><line x1="1683" y1="2269.5" x2="1674.67" y2="2269.5" stroke="#000" stroke-width="1"/><text x="108.2" y="2273.9" font-size="16.67" text-anchor="end">−300</text><line x1="117" y1="2232.5" x2="125.33" y2="2232.5" stroke="#000" stroke-width="1"/><line x1="1683" y1="2232.5" x2="1674.67" y2="2232.5" stroke="#000" stroke-width="1"/><text x="108.2" y="2236.1" font-size="16.67" text-anchor="end">−200</text><line x1="117" y1="2194.5" x2="125.33" y2="2194.5" stroke="#000" stroke-width="1"/><line x1="1683" y1="2194.5" x2="1674.67" y2="2194.5" stroke="#000" stroke-width="1"/><text x="108.2" y="2198.3" font-size="16.67" text-anchor="end">−100</text><text x="108.2" y="2160.5" font-size="16.67" text-anchor="end">0</text><text x="900" y="2146" font-size="23.3" text-anchor="middle" textLength="374.1" lengthAdjust="spacing">Solar Wind Velocity (GSE Frame)</text><text x="47.1" y="2252.9" font-size="16.67" text-anchor="middle" transform="rotate(-90 47.1 2252.9)">Vsw(km/s)</text><rect x="1605" y="2163" width="71" height="71" fill="#fff" stroke="#000" stroke-width="2"/><line x1="1614" y1="2175.9" x2="1636.3" y2="2175.9" stroke="#f00" stroke-width="2.08"/><text x="1652.3" y="2180.9" font-size="15.4" textLength="18.04" lengthAdjust="spacingAndGlyphs">Vx</text><line x1="1614" y1="2197.4" x2="1636.3" y2="2197.4" stroke="#008000" stroke-width="2.08"/><text x="1652.3" y="2202.4" font-size="15.4" textLength="17.66" lengthAdjust="spacingAndGlyphs">Vy</text><line x1="1614" y1="2219.8" x2="1636.3" y2="2219.8" stroke="#00f" stroke-width="2.08"/><text x="1652.3" y="2224.8" font-size="15.4" textLength="17.1" lengthAdjust="spacingAndGlyphs">Vz</text><clipPath id="c11"><rect x="117" y="2439" width="1566" height="189"/></clipPath><g clip-path="url(#c11)"><polyline points="117,2621.72 144,2620.52 171,2622.62 225,2622.91 279,2622.91 306,2622.32 360,2621.42 414,2622.02 441,2623.21 495,2622.32 522,2623.21 549,2623.81 603,2621.12 630,2623.21 684,2623.21 711,2622.91 765,2622.91 819,2623.21 846,2622.91 900,2623.51 927,2624.11 954,2624.41 981,2623.81 1035,2621.72 1116,2624.11 1170,2622.91 1197,2623.51 1251,2624.71 1305,2623.81 1332,2622.83 1386,2618.64 1440,2623.42 1467,2621.33 1494,2618.34 1521,2616.25 1575,2617.44 1602,2615.95 1656,2612.96 1683,2615.35" fill="none" stroke="#00f" stroke-width="2.08" stroke-linejoin="round"/><polyline points="117,2609.76 144,2608.57 171,2611.26 225,2611.85 252,2612.15 279,2611.85 306,2610.36 360,2607.97 387,2609.46 414,2608.86 441,2611.26 495,2610.36 522,2612.15 549,2613.35 603,2607.97 630,2611.55 684,2610.96 711,2610.66 765,2610.66 819,2611.26 846,2610.66 900,2611.26 927,2612.15 954,2612.45 981,2610.96 1035,2607.97 1089,2610.66 1116,2612.15 1170,2608.86 1197,2610.66 1251,2611.55 1305,2609.76 1332,2608.77 1359,2604.29 1386,2601 1413,2606.38 1440,2610.27 1467,2606.38 1494,2601 1521,2597.71 1575,2599.51 1602,2596.22 1629,2594.13 1656,2592.63 1683,2595.32" fill="none" stroke="#008000" stroke-width="2.08" stroke-linejoin="round"/></g><rect x="117" y="2439" width="1566" height="189" fill="none" stroke="#000" stroke-width="2"/><line x1="171.5" y1="2628" x2="171.5" y2="2619.67" stroke="#000" stroke-width="1"/><line x1="171.5" y1="2439" x2="171.5" y2="2447.33" stroke="#000" stroke-width="1"/><text x="171" y="2650" font-size="16.67" text-anchor="middle">05/16 17:40</text><line x1="441.5" y1="2628" x2="441.5" y2="2619.67" stroke="#000" stroke-width="1"/><line x1="441.5" y1="2439" x2="441.5" y2="2447.33" stroke="#000" stroke-width="1"/><text x="441" y="2650" font-size="16.67" text-anchor="middle">05/16 17:50</text><line x1="711.5" y1="2628" x2="711.5" y2="2619.67" stroke="#000" stroke-width="1"/><line x1="711.5" y1="2439" x2="711.5" y2="2447.33" stroke="#000" stroke-width="1"/><text x="711" y="2650" font-size="16.67" text-anchor="middle">05/16 18:00</text><line x1="981.5" y1="2628" x2="981.5" y2="2619.67" stroke="#000" stroke-width="1"/><line x1="981.5" y1="2439" x2="981.5" y2="2447.33" stroke="#000" stroke-width="1"/><text x="981" y="2650" font-size="16.67" text-anchor="middle">05/16 18:10</text><line x1="1251.5" y1="2628" x2="1251.5" y2="2619.67" stroke="#000" stroke-width="1"/><line x1="1251.5" y1="2439" x2="1251.5" y2="2447.33" stroke="#000" stroke-width="1"/><text x="1251" y="2650" font-size="16.67" text-anchor="middle">05/16 18:20</text><line x1="1521.5" y1="2628" x2="1521.5" y2="2619.67" stroke="#000" stroke-width="1"/><line x1="1521.5" y1="2439" x2="1521.5" y2="2447.33" stroke="#000" stroke-width="1"/><text x="1521" y="2650" font-size="16.67" text-anchor="middle">05/16 18:30</text><text x="108.2" y="2632.5" font-size="16.67" text-anchor="end">0</text><line x1="117" y1="2590.5" x2="125.33" y2="2590.5" stroke="#000" stroke-width="1"/><line x1="1683" y1="2590.5" x2="1674.67" y2="2590.5" stroke="#000" stroke-width="1"/><text x="108.2" y="2594.7" font-size="16.67" text-anchor="end">1</text><line x1="117" y1="2552.5" x2="125.33" y2="2552.5" stroke="#000" stroke-width="1"/><line x1="1683" y1="2552.5" x2="1674.67" y2="2552.5" stroke="#000" stroke-width="1"/><text x="108.2" y="2556.9" font-size="16.67" text-anchor="end">2</text><line x1="117" y1="2515.5" x2="125.33" y2="2515.5" stroke="#000" stroke-width="1"/><line x1="1683" y1="2515.5" x2="1674.67" y2="2515.5" stroke="#000" stroke-width="1"/><text x="108.2" y="2519.1" font-size="16.67" text-anchor="end">3</text><line x1="117" y1="2477.5" x2="125.33" y2="2477.5" stroke="#000" stroke-width="1"/><line x1="1683" y1="2477.5" x2="1674.67" y2="2477.5" stroke="#000" stroke-width="1"/><text x="108.2" y="2481.3" font-size="16.67" text-anchor="end">4</text><text x="108.2" y="2443.5" font-size="16.67" text-anchor="end">5</text><text x="900" y="2429" font-size="23.3" text-anchor="middle" textLength="141.3" lengthAdjust="spacing">Plasma Beta</text><rect x="1608" y="2446" width="68" height="57" fill="#fff" stroke="#000" stroke-width="2"/><line x1="1616.9" y1="2459.6" x2="1639.9" y2="2459.6" stroke="#00f" stroke-width="2.08"/><text x="1656.4" y="2464.6" font-size="15" font-family="'Liberation Serif','DejaVu Serif',serif" font-style="italic" text-anchor="start">β<tspan font-size="10.5" dy="3.5">p</tspan></text><line x1="1616.9" y1="2486.5" x2="1639.9" y2="2486.5" stroke="#008000" stroke-width="2.08"/><text x="1656.4" y="2491.5" font-size="15" font-family="'Liberation Serif','DejaVu Serif',serif" font-style="italic" text-anchor="start">β</text><text x="80" y="2533.5" font-size="16.67" text-anchor="middle" transform="rotate(-90 80 2533.5)"><tspan font-family="'Liberation Serif','DejaVu Serif',serif" font-style="italic">β</tspan><tspan font-family="'Liberation Serif','DejaVu Serif',serif" font-style="italic" font-size="11.7" dy="3.5">p</tspan><tspan dy="-3.5"> and </tspan><tspan font-family="'Liberation Serif','DejaVu Serif',serif" font-style="italic">β</tspan></text><clipPath id="c12"><rect x="117" y="2723" width="1566" height="189"/></clipPath><g clip-path="url(#c12)"><polyline points="117,2880.49 144,2879.9 171,2881.39 225,2882.59 279,2881.69 306,2879.9 360,2878.7 414,2878.4 441,2881.09 495,2880.19 522,2881.09 549,2882.59 603,2879 630,2882.29 684,2881.39 711,2880.79 765,2879.3 819,2880.19 846,2879.3 900,2879.9 927,2880.79 954,2881.39 981,2880.49 1035,2878.7 1089,2880.79 1116,2881.69 1170,2877.5 1197,2879.3 1251,2881.09 1305,2878.4 1332,2876.61 1386,2870.63 1440,2879 1494,2872.42 1521,2870.63 1575,2870.93 1602,2868.83 1656,2867.94 1683,2869.13" fill="none" stroke="#00f" stroke-width="2.08" stroke-linejoin="round"/></g><rect x="117" y="2723" width="1566" height="189" fill="none" stroke="#000" stroke-width="2"/><line x1="171.5" y1="2912" x2="171.5" y2="2903.67" stroke="#000" stroke-width="1"/><line x1="171.5" y1="2723" x2="171.5" y2="2731.33" stroke="#000" stroke-width="1"/><text x="171" y="2934" font-size="16.67" text-anchor="middle">05/16 17:40</text><line x1="441.5" y1="2912" x2="441.5" y2="2903.67" stroke="#000" stroke-width="1"/><line x1="441.5" y1="2723" x2="441.5" y2="2731.33" stroke="#000" stroke-width="1"/><text x="441" y="2934" font-size="16.67" text-anchor="middle">05/16 17:50</text><line x1="711.5" y1="2912" x2="711.5" y2="2903.67" stroke="#000" stroke-width="1"/><line x1="711.5" y1="2723" x2="711.5" y2="2731.33" stroke="#000" stroke-width="1"/><text x="711" y="2934" font-size="16.67" text-anchor="middle">05/16 18:00</text><line x1="981.5" y1="2912" x2="981.5" y2="2903.67" stroke="#000" stroke-width="1"/><line x1="981.5" y1="2723" x2="981.5" y2="2731.33" stroke="#000" stroke-width="1"/><text x="981" y="2934" font-size="16.67" text-anchor="middle">05/16 18:10</text><line x1="1251.5" y1="2912" x2="1251.5" y2="2903.67" stroke="#000" stroke-width="1"/><line x1="1251.5" y1="2723" x2="1251.5" y2="2731.33" stroke="#000" stroke-width="1"/><text x="1251" y="2934" font-size="16.67" text-anchor="middle">05/16 18:20</text><line x1="1521.5" y1="2912" x2="1521.5" y2="2903.67" stroke="#000" stroke-width="1"/><line x1="1521.5" y1="2723" x2="1521.5" y2="2731.33" stroke="#000" stroke-width="1"/><text x="1521" y="2934" font-size="16.67" text-anchor="middle">05/16 18:30</text><text x="108.2" y="2916.5" font-size="16.67" text-anchor="end">0</text><line x1="117" y1="2880.5" x2="125.33" y2="2880.5" stroke="#000" stroke-width="1"/><line x1="1683" y1="2880.5" x2="1674.67" y2="2880.5" stroke="#000" stroke-width="1"/><text x="108.2" y="2885" font-size="16.67" text-anchor="end">5</text><line x1="117" y1="2849.5" x2="125.33" y2="2849.5" stroke="#000" stroke-width="1"/><line x1="1683" y1="2849.5" x2="1674.67" y2="2849.5" stroke="#000" stroke-width="1"/><text x="108.2" y="2853.5" font-size="16.67" text-anchor="end">10</text><line x1="117" y1="2817.5" x2="125.33" y2="2817.5" stroke="#000" stroke-width="1"/><line x1="1683" y1="2817.5" x2="1674.67" y2="2817.5" stroke="#000" stroke-width="1"/><text x="108.2" y="2822" font-size="16.67" text-anchor="end">15</text><line x1="117" y1="2786.5" x2="125.33" y2="2786.5" stroke="#000" stroke-width="1"/><line x1="1683" y1="2786.5" x2="1674.67" y2="2786.5" stroke="#000" stroke-width="1"/><text x="108.2" y="2790.5" font-size="16.67" text-anchor="end">20</text><line x1="117" y1="2754.5" x2="125.33" y2="2754.5" stroke="#000" stroke-width="1"/><line x1="1683" y1="2754.5" x2="1674.67" y2="2754.5" stroke="#000" stroke-width="1"/><text x="108.2" y="2759" font-size="16.67" text-anchor="end">25</text><text x="108.2" y="2727.5" font-size="16.67" text-anchor="end">30</text><text x="900" y="2713" font-size="23.3" text-anchor="middle" textLength="267.7" lengthAdjust="spacing">Proton Number Density</text><text x="72.6" y="2819.9" font-size="16.67" text-anchor="middle" transform="rotate(-90 72.6 2819.9)">Np(#/cc)</text><clipPath id="c13"><rect x="117" y="3006" width="1566" height="189"/></clipPath><g clip-path="url(#c13)"><polyline points="117,3159.21 144,3153.83 171,3163.99 198,3164.29 225,3164.59 252,3165.19 279,3165.78 306,3163.09 333,3162.5 360,3161.9 387,3162.8 414,3163.69 441,3168.18 468,3165.49 495,3162.2 522,3165.19 549,3168.48 576,3163.39 603,3158.01 630,3165.78 657,3166.38 684,3166.98 711,3166.98 738,3166.08 765,3165.19 792,3165.49 819,3165.49 846,3167.28 873,3168.18 900,3169.07 927,3170.87 954,3172.36 981,3168.77 1008,3165.19 1035,3161.9 1062,3165.19 1089,3168.48 1116,3171.76 1143,3169.67 1170,3167.88 1197,3169.37 1224,3170.87 1251,3172.36 1278,3170.87 1305,3169.37 1332,3166.98 1359,3161.6 1386,3155.62 1413,3162.8 1440,3169.97 1467,3161.9 1494,3153.23 1521,3146.95 1548,3149.34 1575,3152.03 1602,3149.94 1629,3145.16 1656,3140.37 1683,3147.25" fill="none" stroke="#00f" stroke-width="2.08" stroke-linejoin="round"/><polyline points="117,3125.13 144,3134.39 171,3114.07 198,3113.17 225,3111.38 252,3112.27 279,3109.58 306,3116.76 333,3115.26 360,3116.46 387,3117.95 414,3112.87 441,3100.01 468,3109.58 495,3115.86 522,3109.28 549,3100.61 576,3113.17 603,3124.53 630,3105.4 657,3104.5 684,3102.41 711,3102.41 738,3105.1 765,3107.79 792,3106.89 819,3107.49 846,3102.11 873,3096.73 900,3092.54 927,3087.16 954,3077.89 981,3089.85 1008,3101.81 1035,3114.07 1062,3105.99 1089,3094.63 1116,3081.18 1143,3087.76 1170,3095.23 1197,3086.86 1224,3078.49 1251,3070.12 1278,3078.79 1305,3091.05 1332,3097.92 1359,3114.07 1386,3125.13 1413,3107.19 1440,3084.47 1467,3111.08 1494,3128.71 1521,3137.38 1548,3133.8 1575,3132.3 1602,3132.9 1629,3137.38 1656,3144.26 1683,3134.99" fill="none" stroke="#f00" stroke-width="2.08" stroke-linejoin="round"/></g><rect x="117" y="3006" width="1566" height="189" fill="none" stroke="#000" stroke-width="2"/><line x1="171.5" y1="3195" x2="171.5" y2="3186.67" stroke="#000" stroke-width="1"/><line x1="171.5" y1="3006" x2="171.5" y2="3014.33" stroke="#000" stroke-width="1"/><text x="171" y="3217" font-size="16.67" text-anchor="middle">05/16 17:40</text><line x1="441.5" y1="3195" x2="441.5" y2="3186.67" stroke="#000" stroke-width="1"/><line x1="441.5" y1="3006" x2="441.5" y2="3014.33" stroke="#000" stroke-width="1"/><text x="441" y="3217" font-size="16.67" text-anchor="middle">05/16 17:50</text><line x1="711.5" y1="3195" x2="711.5" y2="3186.67" stroke="#000" stroke-width="1"/><line x1="711.5" y1="3006" x2="711.5" y2="3014.33" stroke="#000" stroke-width="1"/><text x="711" y="3217" font-size="16.67" text-anchor="middle">05/16 18:00</text><line x1="981.5" y1="3195" x2="981.5" y2="3186.67" stroke="#000" stroke-width="1"/><line x1="981.5" y1="3006" x2="981.5" y2="3014.33" stroke="#000" stroke-width="1"/><text x="981" y="3217" font-size="16.67" text-anchor="middle">05/16 18:10</text><line x1="1251.5" y1="3195" x2="1251.5" y2="3186.67" stroke="#000" stroke-width="1"/><line x1="1251.5" y1="3006" x2="1251.5" y2="3014.33" stroke="#000" stroke-width="1"/><text x="1251" y="3217" font-size="16.67" text-anchor="middle">05/16 18:20</text><line x1="1521.5" y1="3195" x2="1521.5" y2="3186.67" stroke="#000" stroke-width="1"/><line x1="1521.5" y1="3006" x2="1521.5" y2="3014.33" stroke="#000" stroke-width="1"/><text x="1521" y="3217" font-size="16.67" text-anchor="middle">05/16 18:30</text><text x="108.2" y="3199.5" font-size="16.67" text-anchor="end">0.0</text><line x1="117" y1="3157.5" x2="125.33" y2="3157.5" stroke="#000" stroke-width="1"/><line x1="1683" y1="3157.5" x2="1674.67" y2="3157.5" stroke="#000" stroke-width="1"/><text x="108.2" y="3161.7" font-size="16.67" text-anchor="end">0.1</text><line x1="117" y1="3119.5" x2="125.33" y2="3119.5" stroke="#000" stroke-width="1"/><line x1="1683" y1="3119.5" x2="1674.67" y2="3119.5" stroke="#000" stroke-width="1"/><text x="108.2" y="3123.9" font-size="16.67" text-anchor="end">0.2</text><line x1="117" y1="3082.5" x2="125.33" y2="3082.5" stroke="#000" stroke-width="1"/><line x1="1683" y1="3082.5" x2="1674.67" y2="3082.5" stroke="#000" stroke-width="1"/><text x="108.2" y="3086.1" font-size="16.67" text-anchor="end">0.3</text><line x1="117" y1="3044.5" x2="125.33" y2="3044.5" stroke="#000" stroke-width="1"/><line x1="1683" y1="3044.5" x2="1674.67" y2="3044.5" stroke="#000" stroke-width="1"/><text x="108.2" y="3048.3" font-size="16.67" text-anchor="end">0.4</text><text x="108.2" y="3010.5" font-size="16.67" text-anchor="end">0.5</text><text x="728" y="2994.5" font-size="23.3" text-anchor="start" textLength="280.5" lengthAdjust="spacing">Proton Temperature and</text><g font-family="'Liberation Serif','DejaVu Serif',serif"><text x="1016" y="2994.5" font-size="24" font-style="italic">T</text><text x="1029.98" y="2998.93" font-size="16.31" font-style="italic">e</text><text x="1039.3" y="2994.5" font-size="24" font-style="normal">/</text><text x="1048.62" y="2994.5" font-size="24" font-style="italic">T</text><text x="1062.6" y="2998.93" font-size="16.31" font-style="italic">p</text></g><rect x="123" y="3013" width="72" height="27" fill="#fff" stroke="#000" stroke-width="2"/><line x1="133.8" y1="3026.2" x2="155.9" y2="3026.2" stroke="#00f" stroke-width="2.08"/><text x="170.4" y="3031.2" font-size="15.4" textLength="17.62" lengthAdjust="spacingAndGlyphs">Tp</text><rect x="1586" y="3013" width="90" height="32" fill="#fff" stroke="#000" stroke-width="2"/><line x1="1595.4" y1="3027.7" x2="1617.8" y2="3027.7" stroke="#f00" stroke-width="2.08"/><g font-family="'Liberation Serif','DejaVu Serif',serif"><text x="1633.9" y="3032.7" font-size="15.71" font-style="italic">T</text><text x="1643.05" y="3035.6" font-size="10.67" font-style="italic">e</text><text x="1649.15" y="3032.7" font-size="15.71" font-style="normal">/</text><text x="1655.25" y="3032.7" font-size="15.71" font-style="italic">T</text><text x="1664.4" y="3035.6" font-size="10.67" font-style="italic">p</text></g><text x="1691" y="3199.5" font-size="16.67" text-anchor="start" fill="#f00">0</text><text x="1691" y="3161.7" font-size="16.67" text-anchor="start" fill="#f00">1</text><text x="1691" y="3123.9" font-size="16.67" text-anchor="start" fill="#f00">2</text><text x="1691" y="3086.1" font-size="16.67" text-anchor="start" fill="#f00">3</text><text x="1691" y="3048.3" font-size="16.67" text-anchor="start" fill="#f00">4</text><text x="1691" y="3010.5" font-size="16.67" text-anchor="start" fill="#f00">5</text><text x="64" y="3100.5" font-size="16.67" text-anchor="middle" transform="rotate(-90 64 3100.5)">Tp(<tspan font-family="'Liberation Serif','DejaVu Serif',serif" font-size="15">10</tspan><tspan font-family="'Liberation Serif','DejaVu Serif',serif" font-size="10.5" dy="-6">6</tspan><tspan dy="6">K)</tspan></text><g transform="rotate(-90 1726.5 3120)" fill="#f00" font-family="'Liberation Serif','DejaVu Serif',serif"><text x="1726.5" y="3120" font-size="16.89" font-style="italic">T</text><text x="1736.34" y="3123.12" font-size="11.48" font-style="italic">e</text><text x="1742.9" y="3120" font-size="16.89" font-style="normal">/</text><text x="1749.46" y="3120" font-size="16.89" font-style="italic">T</text><text x="1759.3" y="3123.12" font-size="11.48" font-style="italic">p</text></g></svg></body></html>
